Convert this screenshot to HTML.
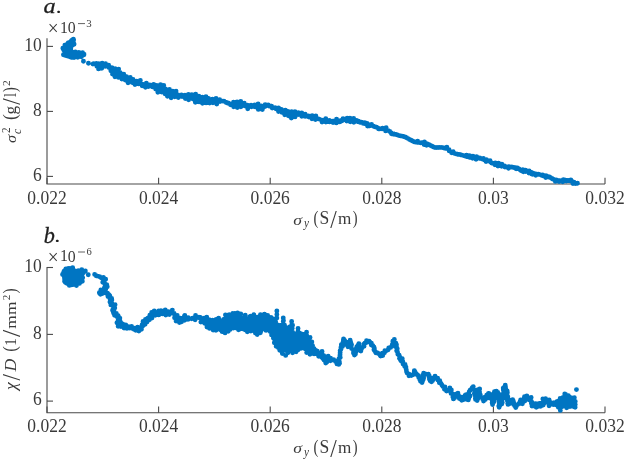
<!DOCTYPE html>
<html><head><meta charset="utf-8"><style>
html,body{margin:0;padding:0;background:#fff;}
svg{display:block;}
.t{font-family:"Liberation Serif",serif;font-size:17.5px;fill:#3a3a3a;}
svg{will-change:transform;}
.k{fill:#1e1e1e;}
.i{font-style:italic;}
</style></head><body>
<svg width="626" height="460" viewBox="0 0 626 460">
<rect width="626" height="460" fill="#fff"/>
<path d="M47 38.3V184.0H605" fill="none" stroke="#4a4a4a" stroke-width="1.1"/>
<path d="M47 46.4h6" stroke="#4a4a4a" stroke-width="1.1"/>
<text transform="translate(41.8 50.6) scale(1 1.045)" text-anchor="end" class="t">10</text>
<path d="M47 111.4h6" stroke="#4a4a4a" stroke-width="1.1"/>
<text transform="translate(41.8 115.6) scale(1 1.045)" text-anchor="end" class="t">8</text>
<path d="M47 176.4h6" stroke="#4a4a4a" stroke-width="1.1"/>
<text transform="translate(41.8 180.6) scale(1 1.045)" text-anchor="end" class="t">6</text>
<path d="M47.0 184.0v-6.3" stroke="#4a4a4a" stroke-width="1.1"/>
<text transform="translate(47.0 203.9) scale(1 1.045)" text-anchor="middle" class="t">0.022</text>
<path d="M158.6 184.0v-6.3" stroke="#4a4a4a" stroke-width="1.1"/>
<text transform="translate(158.6 203.9) scale(1 1.045)" text-anchor="middle" class="t">0.024</text>
<path d="M270.2 184.0v-6.3" stroke="#4a4a4a" stroke-width="1.1"/>
<text transform="translate(270.2 203.9) scale(1 1.045)" text-anchor="middle" class="t">0.026</text>
<path d="M381.8 184.0v-6.3" stroke="#4a4a4a" stroke-width="1.1"/>
<text transform="translate(381.8 203.9) scale(1 1.045)" text-anchor="middle" class="t">0.028</text>
<path d="M493.4 184.0v-6.3" stroke="#4a4a4a" stroke-width="1.1"/>
<text transform="translate(493.4 203.9) scale(1 1.045)" text-anchor="middle" class="t">0.03</text>
<path d="M605.0 184.0v-6.3" stroke="#4a4a4a" stroke-width="1.1"/>
<text transform="translate(605.0 203.9) scale(1 1.045)" text-anchor="middle" class="t">0.032</text>
<path d="M47 266.9V412.7H605" fill="none" stroke="#4a4a4a" stroke-width="1.1"/>
<path d="M47 267.5h6" stroke="#4a4a4a" stroke-width="1.1"/>
<text transform="translate(41.8 271.7) scale(1 1.045)" text-anchor="end" class="t">10</text>
<path d="M47 334.4h6" stroke="#4a4a4a" stroke-width="1.1"/>
<text transform="translate(41.8 338.6) scale(1 1.045)" text-anchor="end" class="t">8</text>
<path d="M47 401.1h6" stroke="#4a4a4a" stroke-width="1.1"/>
<text transform="translate(41.8 405.3) scale(1 1.045)" text-anchor="end" class="t">6</text>
<path d="M47.0 412.7v-6.3" stroke="#4a4a4a" stroke-width="1.1"/>
<text transform="translate(47.0 432.3) scale(1 1.045)" text-anchor="middle" class="t">0.022</text>
<path d="M158.6 412.7v-6.3" stroke="#4a4a4a" stroke-width="1.1"/>
<text transform="translate(158.6 432.3) scale(1 1.045)" text-anchor="middle" class="t">0.024</text>
<path d="M270.2 412.7v-6.3" stroke="#4a4a4a" stroke-width="1.1"/>
<text transform="translate(270.2 432.3) scale(1 1.045)" text-anchor="middle" class="t">0.026</text>
<path d="M381.8 412.7v-6.3" stroke="#4a4a4a" stroke-width="1.1"/>
<text transform="translate(381.8 432.3) scale(1 1.045)" text-anchor="middle" class="t">0.028</text>
<path d="M493.4 412.7v-6.3" stroke="#4a4a4a" stroke-width="1.1"/>
<text transform="translate(493.4 432.3) scale(1 1.045)" text-anchor="middle" class="t">0.03</text>
<path d="M605.0 412.7v-6.3" stroke="#4a4a4a" stroke-width="1.1"/>
<text transform="translate(605.0 432.3) scale(1 1.045)" text-anchor="middle" class="t">0.032</text>
<path fill="#0075c2" d="M68.9 40.0L68.9 40.1L68.8 40.1L68.8 40.1L68.7 40.1L68.7 40.2L66.8 40.8L65.5 42.5L64.1 44.5L64.1 44.6L64.0 44.6L64.0 44.7L63.9 44.7L62.7 45.6L61.8 47.6L61.1 49.5L61.5 51.0L63.0 52.8L63.1 52.8L63.1 52.9L63.1 52.9L63.2 53.0L63.2 53.1L63.2 53.1L63.2 53.2L63.2 53.2L63.2 53.3L62.8 55.6L64.2 57.5L67.9 58.4L68.0 58.4L68.0 58.5L71.1 59.8L74.9 59.2L79.4 58.2L79.4 58.2L84.1 57.6L84.8 55.3L84.8 55.3L84.9 55.2L84.9 55.2L84.9 55.1L86.3 53.4L86.2 52.7L83.9 51.2L80.2 50.9L80.1 50.9L76.8 50.2L73.5 49.9L73.5 49.9L73.4 49.9L73.4 49.9L73.3 49.8L73.3 49.8L73.2 49.8L73.2 49.7L73.1 49.7L73.1 49.6L73.1 49.6L73.0 49.5L73.0 49.5L73.0 49.4L73.0 49.3L73.0 49.3L73.0 49.2L73.2 47.6L73.2 47.6L73.2 47.5L73.2 47.5L73.3 47.4L73.3 47.4L73.3 47.3L73.4 47.3L73.4 47.2L73.5 47.2L73.5 47.2L75.2 46.2L76.2 45.0L76.4 43.2L75.7 41.9L75.6 41.8L75.6 41.8L75.6 41.7L75.6 41.7L75.6 41.6L75.6 41.5L75.6 41.5L75.6 41.4L76.0 40.1L75.9 38.8L74.6 37.4L72.9 37.2L70.0 38.4L69.0 39.9L69.0 40.0L68.9 40.0ZM61.2 273.9L62.1 277.6L62.1 277.6L62.1 277.6L62.5 282.0L63.5 284.1L66.0 285.5L71.1 287.2L77.4 286.2L79.7 285.5L82.8 283.2L83.4 278.9L83.4 278.9L83.9 275.9L83.9 275.8L83.9 275.8L84.0 275.7L84.0 275.7L84.0 275.6L84.0 275.6L86.1 273.3L86.1 270.7L84.7 269.0L82.1 268.2L80.2 268.6L77.8 269.8L77.7 269.9L77.7 269.9L77.6 269.9L77.5 269.9L77.5 269.9L77.4 269.9L77.4 269.9L77.3 269.9L77.3 269.8L77.2 269.8L77.1 269.8L74.7 268.0L71.8 266.6L69.0 265.9L67.2 266.2L64.4 267.5L62.4 269.5L61.2 271.9L61.2 273.9ZM102.5 282.0L102.5 282.1L102.5 282.1L102.5 282.2L102.5 282.2L102.6 282.2L102.6 282.3L102.6 282.3L102.7 282.4L102.7 282.4L105.5 284.6L105.5 284.6L105.5 284.6L105.5 284.6L105.5 284.7L105.6 284.7L105.6 284.7L105.6 284.7L105.6 284.8L105.6 284.8L105.6 284.8L105.6 284.9L105.6 284.9L105.1 286.7L105.1 286.7L105.0 286.8L105.0 286.8L105.0 286.8L103.6 288.7L103.6 288.7L103.5 288.8L103.5 288.8L103.5 288.9L103.5 288.9L103.5 289.0L103.5 289.0L103.5 289.1L103.5 289.1L103.5 289.2L103.5 289.2L103.6 289.2L99.2 292.6L99.2 292.6L99.1 292.7L99.1 292.7L99.1 292.8L99.0 292.8L99.0 292.8L99.0 292.9L99.0 292.9L99.0 293.0L99.0 293.0L99.0 293.1L99.0 293.1L99.0 293.2L99.0 293.2L99.1 293.3L99.1 293.3L99.1 293.3L99.2 293.4L99.2 293.4L99.2 293.4L99.3 293.4L99.3 293.5L99.4 293.5L99.4 293.5L99.5 293.5L99.5 293.5L105.8 293.3L105.8 293.3L105.8 293.3L105.8 293.3L105.9 293.3L105.9 293.3L105.9 293.4L107.5 294.4L107.5 294.5L107.5 294.6L107.5 294.7L107.5 294.8L107.6 294.9L107.6 294.9L107.7 295.0L110.0 298.8L110.0 298.8L110.0 298.8L110.0 298.9L110.0 298.9L110.0 298.9L110.5 303.1L110.5 303.2L110.5 303.3L110.6 303.4L110.6 303.5L110.7 303.6L112.9 306.7L112.9 306.7L112.9 306.7L112.9 306.7L112.9 306.8L112.9 306.8L112.9 306.8L112.9 306.9L112.9 306.9L112.5 310.4L112.5 310.5L112.5 310.6L112.5 310.7L112.5 310.7L113.5 314.7L113.6 314.8L113.6 314.9L113.6 315.0L113.7 315.1L113.8 315.2L113.8 315.2L113.9 315.3L117.8 318.2L117.8 318.2L117.8 318.2L117.8 318.2L118.8 319.6L118.8 319.6L118.8 319.6L118.8 319.6L118.8 319.7L118.8 319.7L118.9 319.7L118.9 319.7L118.8 319.8L118.8 319.8L118.8 319.8L118.1 322.2L118.0 322.3L118.0 322.4L118.0 322.5L118.0 322.6L118.0 322.7L118.5 325.7L118.5 325.7L118.5 325.7L118.5 325.7L118.5 325.8L118.5 325.8L118.6 325.8L118.6 325.8L118.6 325.9L118.6 325.9L118.6 325.9L118.6 325.9L118.6 325.9L118.6 326.0L118.6 326.0L118.6 326.0L118.7 326.0L118.7 326.1L118.7 326.1L118.7 326.1L118.7 326.1L118.7 326.1L118.7 326.2L118.8 326.2L118.8 326.2L118.8 326.2L118.8 326.2L118.8 326.2L118.8 326.3L118.9 326.3L118.9 326.3L118.9 326.3L118.9 326.3L118.9 326.3L119.0 326.3L119.0 326.4L119.0 326.4L119.0 326.4L119.1 326.4L119.1 326.4L119.1 326.4L119.1 326.4L119.1 326.4L119.2 326.4L119.2 326.4L119.2 326.5L119.2 326.5L119.3 326.5L119.3 326.5L119.3 326.5L119.3 326.5L124.1 327.3L124.1 327.3L129.5 328.3L129.6 328.3L133.8 329.6L133.8 329.6L137.2 330.5L137.3 330.5L137.4 330.5L137.6 330.5L137.7 330.5L137.8 330.5L137.9 330.4L138.0 330.4L141.3 328.7L141.3 328.7L141.4 328.7L141.5 328.7L141.7 328.7L141.8 328.7L141.9 328.7L142.0 328.6L142.1 328.6L142.2 328.5L142.3 328.4L142.4 328.4L142.5 328.3L142.6 328.2L145.0 324.2L145.0 324.2L148.9 319.3L148.9 319.3L152.7 315.6L152.7 315.5L152.8 315.5L152.8 315.5L154.1 314.8L154.1 314.8L154.6 314.8L155.0 314.7L155.4 314.6L155.9 314.5L156.3 314.3L156.8 314.2L157.3 314.0L157.3 314.0L157.3 314.0L157.3 314.0L157.8 313.9L157.8 313.9L157.9 313.8L157.9 313.8L158.4 313.7L158.4 313.7L158.6 313.7L158.6 313.7L158.8 313.6L158.8 313.6L159.3 313.6L159.3 313.6L159.5 313.6L159.5 313.6L159.7 313.6L159.7 313.6L160.2 313.6L160.2 313.6L160.5 313.7L160.5 313.7L161.0 313.8L161.0 313.8L161.1 313.8L161.1 313.8L161.6 313.9L161.6 313.9L161.6 314.0L161.6 314.0L162.1 314.1L162.6 314.2L162.9 314.3L163.3 314.4L163.7 314.4L164.0 314.4L164.5 314.4L164.9 314.4L165.4 314.4L165.8 314.3L166.3 314.3L166.8 314.3L167.3 314.2L167.7 314.2L168.2 314.1L168.7 314.0L168.7 314.0L168.7 314.0L168.7 314.0L169.2 314.0L169.2 314.0L169.3 314.0L169.3 314.0L169.8 313.9L169.8 313.9L169.9 313.9L169.9 313.9L170.4 313.9L170.4 313.9L170.6 313.9L170.6 313.9L171.1 313.9L171.1 313.9L171.3 313.9L171.3 314.0L171.8 314.0L171.8 314.0L172.0 314.1L172.0 314.1L172.5 314.2L172.5 314.2L172.7 314.2L172.8 314.2L173.0 314.3L173.0 314.3L173.2 314.4L173.2 314.4L173.4 314.6L173.4 314.6L173.6 314.7L173.6 314.7L173.7 314.9L173.8 314.9L173.9 315.1L173.9 315.1L174.0 315.3L174.0 315.3L174.1 315.5L174.1 315.5L174.2 315.7L174.2 315.7L174.7 317.2L174.7 317.2L174.7 317.2L174.7 317.2L175.2 318.5L175.4 318.9L175.7 319.2L175.7 319.2L175.7 319.2L175.7 319.2L176.2 319.7L176.2 319.7L176.2 319.8L176.2 319.8L176.7 320.3L176.7 320.3L176.7 320.3L176.7 320.3L177.2 320.9L177.7 321.4L178.2 321.9L178.6 322.3L179.1 322.7L179.4 323.0L179.4 323.0L179.5 323.0L179.8 323.1L180.1 323.1L180.5 323.1L180.8 323.1L181.0 322.8L181.0 322.8L181.0 322.8L181.0 322.8L181.5 322.0L181.5 322.0L181.5 322.0L181.5 322.0L182.0 321.2L182.0 321.2L182.0 321.2L182.0 321.2L182.5 320.4L182.5 320.4L182.6 320.2L182.7 320.2L182.8 320.0L182.8 320.0L183.0 319.9L183.0 319.9L183.1 319.8L183.2 319.7L183.3 319.6L183.3 319.6L183.8 319.3L183.9 319.3L184.0 319.2L184.1 319.2L184.2 319.2L184.3 319.1L184.5 319.1L184.5 319.1L184.7 319.1L184.7 319.1L184.9 319.0L184.9 319.0L185.1 319.0L185.2 319.0L185.6 319.1L186.1 319.1L186.5 319.1L186.9 319.1L187.3 319.0L187.8 319.0L188.3 318.9L188.3 318.9L188.3 318.9L188.3 318.9L188.8 318.9L188.8 318.9L188.9 318.9L188.9 318.9L189.4 318.9L189.4 318.9L189.5 318.9L189.5 318.9L190.0 318.9L190.0 318.9L190.1 318.9L190.2 318.9L190.7 318.9L190.7 318.9L190.8 318.9L190.8 318.9L191.3 319.0L191.3 319.0L191.4 319.0L191.4 319.0L191.9 319.1L191.9 319.1L191.9 319.1L191.9 319.1L192.4 319.2L192.9 319.3L193.3 319.3L193.6 319.3L193.9 319.3L194.2 319.3L194.6 319.3L195.0 319.2L195.4 319.1L195.9 318.9L195.9 318.9L195.9 318.9L195.9 318.9L196.4 318.8L196.5 318.8L196.6 318.8L196.6 318.8L197.1 318.7L197.1 318.7L197.3 318.7L197.3 318.7L197.5 318.7L197.5 318.7L197.7 318.7L197.7 318.7L197.9 318.7L197.9 318.7L198.1 318.7L198.2 318.7L198.3 318.8L198.3 318.8L198.8 319.0L198.9 319.0L199.0 319.1L199.0 319.1L199.5 319.3L199.5 319.3L199.7 319.4L199.7 319.4L200.2 319.7L200.2 319.7L200.3 319.8L200.3 319.8L200.8 320.1L200.8 320.1L200.9 320.2L200.9 320.2L201.4 320.6L201.4 320.6L201.5 320.6L201.5 320.6L202.0 321.0L202.0 321.0L202.0 321.1L202.0 321.1L202.5 321.5L203.0 321.9L203.4 322.2L203.9 322.5L203.9 322.5L204.0 322.6L204.0 322.7L204.5 323.1L204.9 323.4L205.4 323.7L205.8 324.0L206.3 324.3L206.8 324.6L206.8 324.6L206.8 324.7L206.8 324.7L207.3 325.0L207.3 325.0L207.3 325.0L207.4 325.0L207.9 325.4L207.9 325.4L207.9 325.4L207.9 325.4L208.4 325.8L208.4 325.8L208.5 325.9L208.5 325.9L209.0 326.3L209.5 326.7L209.9 327.0L210.0 327.1L210.0 327.1L210.0 327.1L210.5 327.5L210.5 327.5L210.6 327.6L210.6 327.6L211.1 328.0L211.1 328.0L211.1 328.0L211.1 328.0L211.6 328.5L211.6 328.5L211.6 328.5L211.6 328.5L212.1 329.0L212.5 329.3L212.8 329.3L213.3 329.2L213.7 329.2L214.2 329.1L214.7 329.1L215.2 329.0L215.7 328.9L216.2 328.9L216.2 328.9L216.4 328.8L216.4 328.8L216.9 328.8L216.9 328.8L217.0 328.8L217.0 328.8L217.5 328.8L217.5 328.8L217.7 328.8L217.7 328.8L217.9 328.9L218.0 328.9L218.1 328.9L218.2 328.9L218.7 329.1L218.7 329.1L218.8 329.1L218.9 329.1L219.0 329.2L219.0 329.2L219.5 329.4L219.5 329.4L219.5 329.4L219.5 329.4L220.0 329.7L220.0 329.7L220.0 329.7L220.0 329.7L220.5 329.9L221.0 330.2L221.5 330.4L221.9 330.5L222.2 330.7L222.5 330.8L222.8 330.8L223.1 330.8L223.5 330.8L223.9 330.8L224.4 330.8L224.4 330.8L224.4 330.8L224.4 330.8L224.9 330.8L224.9 330.8L225.0 330.8L225.1 330.8L225.6 330.8L225.6 330.8L225.8 330.8L225.8 330.8L226.3 330.9L226.3 330.9L226.4 330.9L226.7 330.8L226.7 330.8L226.9 330.7L226.9 330.7L227.4 330.6L227.4 330.6L227.6 330.6L227.6 330.5L228.1 330.5L228.1 330.5L228.2 330.5L228.2 330.5L228.7 330.4L229.2 330.3L229.5 330.3L229.9 330.2L230.2 330.1L230.5 330.0L230.8 329.8L231.2 329.5L231.7 329.2L231.7 329.2L231.8 329.1L231.8 329.1L232.0 329.0L232.0 329.0L232.2 328.9L232.2 328.9L232.7 328.8L233.1 328.6L233.6 328.4L234.1 328.2L234.1 328.2L234.1 328.2L234.1 328.2L234.6 328.0L234.6 328.0L234.7 328.0L234.7 328.0L235.2 327.8L235.2 327.8L235.3 327.8L235.3 327.8L235.8 327.6L235.8 327.6L235.9 327.6L235.9 327.6L236.4 327.4L236.4 327.4L236.5 327.4L236.6 327.4L237.1 327.3L237.1 327.3L237.2 327.3L237.2 327.3L237.7 327.2L237.8 327.2L237.9 327.2L237.9 327.2L238.4 327.2L238.5 327.2L238.6 327.2L238.6 327.2L239.1 327.2L239.2 327.2L239.3 327.2L239.3 327.2L239.8 327.3L239.8 327.3L239.9 327.3L240.0 327.3L240.5 327.4L240.5 327.4L240.5 327.4L240.5 327.4L241.0 327.6L241.0 327.6L241.2 327.6L241.3 327.6L241.5 327.7L241.5 327.7L242.0 327.9L242.0 327.9L242.2 328.0L242.2 328.0L242.6 328.3L243.0 328.5L243.4 328.6L243.7 328.8L244.0 328.8L244.3 328.9L244.7 328.9L245.1 329.0L245.6 329.0L246.1 329.0L246.1 329.0L246.2 329.0L246.2 329.0L246.7 329.1L246.7 329.1L246.7 329.1L246.7 329.1L247.2 329.1L247.2 329.1L247.3 329.1L247.3 329.1L247.8 329.2L247.8 329.2L247.9 329.2L247.9 329.2L248.4 329.3L248.4 329.3L248.4 329.3L248.4 329.3L248.9 329.4L249.0 329.4L249.0 329.4L249.0 329.4L249.5 329.5L249.5 329.5L249.6 329.5L249.6 329.5L250.1 329.7L250.1 329.7L250.3 329.7L250.3 329.7L250.8 329.9L250.8 329.9L250.9 330.0L250.9 330.0L251.4 330.2L251.4 330.2L251.5 330.2L251.5 330.2L252.0 330.4L252.0 330.4L252.1 330.5L252.1 330.5L252.6 330.7L252.6 330.7L252.6 330.8L252.6 330.8L253.1 331.0L253.1 331.0L253.2 331.1L253.2 331.1L253.7 331.4L253.7 331.4L253.7 331.4L253.7 331.4L254.2 331.7L254.2 331.7L254.3 331.7L254.3 331.7L254.8 332.0L254.8 332.0L254.8 332.0L254.8 332.0L255.3 332.4L255.3 332.4L255.3 332.4L255.3 332.4L255.8 332.7L255.8 332.7L255.8 332.7L255.8 332.7L256.3 333.0L256.3 333.0L256.3 333.1L256.3 333.1L256.8 333.4L256.8 333.4L257.3 333.7L257.8 334.0L258.0 334.2L258.1 334.1L258.6 333.4L259.1 332.8L259.6 332.1L260.0 331.3L260.1 331.3L260.2 331.2L260.2 331.2L260.3 331.0L260.3 331.0L260.5 330.8L260.5 330.8L260.7 330.7L260.7 330.7L260.9 330.6L260.9 330.6L261.1 330.5L261.1 330.5L261.3 330.4L261.3 330.4L261.5 330.4L261.5 330.3L261.7 330.3L261.8 330.3L262.2 330.3L262.7 330.2L263.1 330.1L263.6 330.1L264.1 330.0L264.1 330.0L264.1 330.0L264.1 330.0L264.6 329.9L264.6 329.9L264.8 329.8L264.8 329.8L265.0 329.8L265.1 329.8L265.3 329.8L265.3 329.9L265.5 329.9L265.5 329.9L266.0 330.0L266.0 330.0L266.2 330.1L266.2 330.1L266.4 330.1L266.4 330.1L266.6 330.2L266.6 330.2L267.1 330.5L267.1 330.5L267.2 330.5L267.2 330.5L267.7 330.8L267.7 330.8L267.8 330.9L267.8 330.9L268.3 331.2L268.3 331.2L268.4 331.3L268.4 331.3L268.9 331.6L268.9 331.7L269.0 331.8L269.1 331.8L269.2 331.9L269.2 332.0L269.4 332.1L269.4 332.1L269.9 332.8L269.9 332.8L269.9 332.9L270.0 332.9L270.5 333.6L270.5 333.6L270.5 333.7L270.5 333.7L271.0 334.5L271.0 334.5L271.0 334.5L271.0 334.5L271.5 335.4L271.5 335.4L271.5 335.4L271.5 335.4L272.0 336.3L272.0 336.3L272.1 336.3L272.1 336.3L272.6 337.2L272.6 337.2L272.6 337.2L272.6 337.2L273.1 338.2L273.1 338.2L273.1 338.2L273.1 338.2L273.6 339.1L274.1 340.1L274.5 340.9L275.0 341.8L275.5 342.6L276.0 343.4L276.5 344.1L276.9 344.8L277.4 345.4L277.8 346.0L278.3 346.5L278.7 347.0L279.2 347.5L279.6 347.9L280.0 348.3L280.5 348.7L281.0 349.0L281.4 349.4L281.9 349.8L281.9 349.8L281.9 349.8L281.9 349.8L282.1 349.9L282.3 350.0L282.7 350.1L282.7 350.1L282.8 350.2L282.8 350.2L283.3 350.4L283.3 350.4L283.5 350.4L283.5 350.4L284.0 350.7L284.0 350.7L284.1 350.7L284.1 350.7L284.6 351.0L284.7 351.0L284.8 351.1L284.8 351.1L285.3 351.4L285.3 351.4L285.4 351.5L285.4 351.5L285.9 351.8L285.9 351.8L285.9 351.9L285.9 351.9L286.4 352.3L286.4 352.3L286.5 352.3L286.5 352.3L286.8 352.5L287.1 352.3L287.2 352.3L287.2 352.2L287.2 352.2L287.7 351.9L287.7 351.9L287.7 351.9L287.7 351.9L288.2 351.6L288.2 351.6L288.3 351.5L288.3 351.5L288.8 351.2L288.8 351.2L288.9 351.1L289.0 351.1L289.1 351.0L289.2 351.0L289.3 351.0L289.4 351.0L289.5 350.9L289.6 350.9L290.1 350.8L290.1 350.8L290.2 350.8L290.3 350.8L290.5 350.8L290.5 350.8L290.7 350.8L290.7 350.8L291.2 350.8L291.7 350.9L292.1 350.9L292.6 350.9L293.1 350.9L293.5 350.9L294.0 350.9L294.5 350.9L294.7 350.9L294.8 350.9L295.1 350.8L295.6 350.6L296.1 350.4L296.5 350.2L296.9 350.0L297.3 349.8L297.7 349.5L298.2 349.2L298.7 348.9L299.2 348.5L299.2 348.5L299.3 348.4L299.4 348.4L299.5 348.3L299.6 348.3L299.8 348.3L299.8 348.2L300.0 348.2L300.0 348.2L300.5 348.1L300.5 348.1L300.7 348.0L300.7 348.0L300.9 348.0L300.9 348.0L301.1 348.0L301.2 348.0L301.4 348.1L301.4 348.1L301.6 348.1L301.6 348.1L301.8 348.2L301.8 348.2L302.0 348.2L302.0 348.3L302.5 348.5L302.5 348.5L302.6 348.6L302.6 348.6L303.1 348.8L303.2 348.8L303.3 348.9L303.3 348.9L303.8 349.2L303.8 349.2L303.9 349.3L303.9 349.3L304.4 349.7L304.4 349.7L304.5 349.8L304.5 349.8L305.0 350.2L305.0 350.2L305.1 350.2L305.1 350.2L305.6 350.7L305.6 350.7L305.6 350.7L305.6 350.7L306.1 351.2L306.5 351.6L307.0 351.9L307.4 352.3L307.8 352.5L308.1 352.8L308.5 352.9L308.8 353.1L309.3 353.2L309.7 353.4L310.2 353.5L310.2 353.5L310.7 353.7L310.7 353.7L310.7 353.7L310.7 353.7L311.2 353.9L311.2 353.9L311.3 353.9L311.3 353.9L311.8 354.1L311.8 354.1L311.8 354.1L311.8 354.1L312.3 354.3L312.3 354.3L312.4 354.3L312.4 354.3L312.9 354.5L312.9 354.5L312.9 354.5L312.9 354.5L313.4 354.7L313.5 354.8L313.5 354.8L313.5 354.8L313.6 354.8L313.6 345.6L313.6 345.6L313.6 345.6L313.5 345.5L313.5 345.5L313.0 344.7L313.0 344.7L313.0 344.7L313.0 344.7L312.5 343.9L312.0 343.1L311.5 342.4L311.0 341.6L310.5 340.9L310.1 340.2L309.6 339.5L309.1 338.8L308.6 338.1L308.1 337.4L307.6 336.8L307.6 336.8L307.6 336.8L307.6 336.8L307.1 336.1L307.1 336.1L307.1 336.1L307.1 336.1L306.6 335.4L306.6 335.4L306.6 335.4L306.6 335.4L306.1 334.6L306.1 334.6L306.0 334.6L306.0 334.6L305.5 333.8L305.5 333.8L305.5 333.8L305.5 333.8L305.2 333.3L305.1 333.3L304.7 333.4L304.6 333.4L304.4 333.4L304.2 333.5L303.9 333.7L303.5 334.0L303.1 334.5L303.1 334.5L302.9 334.6L302.9 334.6L302.7 334.7L302.7 334.7L302.5 334.8L302.5 334.9L302.3 334.9L302.3 334.9L302.1 335.0L302.1 335.0L301.9 335.1L301.9 335.1L301.7 335.1L301.6 335.1L301.4 335.1L301.4 335.1L301.2 335.1L301.2 335.1L301.0 335.0L300.9 335.0L300.8 335.0L300.7 335.0L300.5 334.9L300.5 334.9L300.3 334.8L300.3 334.8L300.1 334.6L300.1 334.6L300.0 334.5L299.9 334.5L299.8 334.3L299.8 334.3L299.3 333.8L298.8 333.3L298.8 333.3L298.8 333.3L298.8 333.3L298.3 332.7L298.3 332.7L298.2 332.7L298.2 332.7L297.7 332.1L297.7 332.1L297.7 332.0L297.7 332.0L297.5 331.8L297.4 331.8L296.9 332.2L296.9 332.2L296.8 332.3L296.7 332.3L296.6 332.4L296.5 332.4L296.3 332.5L296.3 332.5L296.1 332.6L296.1 332.6L295.9 332.6L295.8 332.6L295.6 332.7L295.6 332.7L295.4 332.7L295.4 332.7L295.2 332.6L295.1 332.6L294.9 332.6L294.9 332.6L294.7 332.5L294.7 332.5L294.2 332.3L294.2 332.3L294.0 332.3L294.0 332.2L293.8 332.2L293.8 332.1L293.6 332.0L293.6 332.0L293.4 331.9L293.4 331.9L293.3 331.7L293.2 331.7L293.1 331.5L293.1 331.5L293.0 331.4L293.0 331.3L292.9 331.2L292.9 331.1L292.4 330.1L291.9 329.1L291.4 328.0L290.9 327.0L290.9 327.0L290.9 327.0L290.4 327.3L290.4 327.3L290.3 327.3L290.3 327.3L289.8 327.7L289.8 327.7L289.8 327.7L289.8 327.7L289.3 328.0L289.3 328.0L289.3 328.0L289.3 328.0L288.8 328.4L288.8 328.4L288.6 328.5L288.6 328.5L288.4 328.6L288.4 328.6L288.2 328.7L288.1 328.7L288.0 328.7L287.9 328.7L287.7 328.8L287.7 328.8L287.5 328.8L287.5 328.8L287.3 328.7L287.2 328.7L287.0 328.7L287.0 328.7L286.8 328.7L286.8 328.6L286.6 328.6L286.6 328.6L286.4 328.5L286.3 328.5L286.2 328.3L286.1 328.3L286.0 328.2L286.0 328.2L285.5 327.8L285.5 327.8L285.3 327.6L285.3 327.6L285.2 327.5L285.2 327.5L284.7 326.9L284.2 326.3L283.7 325.7L283.2 325.1L282.8 324.6L282.7 324.6L282.7 324.6L282.7 324.7L282.7 324.7L282.2 325.0L282.2 325.0L282.1 325.0L282.1 325.0L281.6 325.3L281.6 325.3L281.6 325.3L281.6 325.3L281.1 325.6L281.1 325.6L280.9 325.6L280.8 325.7L280.7 325.7L280.6 325.7L280.4 325.8L280.4 325.8L280.2 325.8L280.2 325.8L280.0 325.8L280.0 325.8L279.8 325.8L279.7 325.8L279.5 325.8L279.5 325.8L279.3 325.7L279.3 325.7L279.1 325.6L279.1 325.6L278.6 325.4L278.6 325.4L278.4 325.3L278.4 325.3L278.2 325.2L278.2 325.2L278.0 325.1L278.0 325.1L277.9 324.9L277.8 324.9L277.7 324.8L277.7 324.8L277.6 324.6L277.6 324.6L277.5 324.4L277.4 324.4L276.9 323.5L276.9 323.5L276.4 322.6L275.9 321.7L275.4 320.8L275.2 320.4L275.0 320.4L274.5 320.3L274.0 320.2L273.6 320.1L273.1 320.0L273.1 320.0L272.9 320.0L272.9 319.9L272.7 319.9L272.6 319.9L272.4 319.8L272.4 319.8L272.2 319.7L272.2 319.6L272.0 319.5L272.0 319.5L271.9 319.4L271.8 319.4L271.4 318.9L270.9 318.4L270.4 318.0L270.0 317.6L269.5 317.2L269.1 316.9L269.0 316.8L269.0 316.8L268.5 316.7L268.0 316.6L268.0 316.6L268.0 316.6L268.0 316.6L267.5 316.5L267.5 316.5L267.5 316.5L267.5 316.5L267.0 316.4L267.0 316.4L266.9 316.3L266.9 316.3L266.5 316.2L266.3 316.2L266.1 316.2L266.1 316.2L266.0 316.2L265.9 316.2L265.4 316.2L265.4 316.2L265.3 316.2L265.3 316.2L264.8 316.2L264.8 316.2L264.8 316.2L264.8 316.2L264.3 316.1L264.3 316.1L264.2 316.1L264.2 316.1L263.7 316.0L263.7 316.0L263.7 316.0L263.7 316.0L263.2 316.0L263.2 316.0L263.1 316.0L263.1 316.0L262.6 315.9L262.6 315.9L262.6 315.9L262.6 315.9L262.1 315.8L262.1 315.8L262.1 315.8L262.1 315.8L261.6 315.7L261.1 315.6L260.6 315.5L260.2 315.5L259.7 315.4L259.4 315.4L259.1 315.4L258.9 315.4L258.5 315.5L258.2 315.6L257.8 315.7L257.4 315.9L257.0 316.0L256.5 316.3L256.0 316.5L256.0 316.5L256.0 316.5L256.0 316.5L255.5 316.8L255.5 316.8L255.4 316.8L255.4 316.8L254.9 317.0L254.9 317.0L254.8 317.1L254.8 317.1L254.3 317.2L254.3 317.2L254.1 317.3L254.1 317.3L253.6 317.4L253.6 317.4L253.4 317.5L253.4 317.5L252.9 317.6L252.9 317.6L252.8 317.6L252.7 317.6L252.2 317.6L252.2 317.6L252.1 317.6L252.1 317.7L251.6 317.7L251.6 317.7L251.5 317.7L251.5 317.7L251.0 317.7L250.6 317.7L250.2 317.7L249.8 317.7L249.5 317.8L249.1 317.9L249.1 317.9L248.9 317.9L248.9 317.9L248.7 318.0L248.7 318.0L248.2 318.0L248.2 318.0L247.9 318.0L247.9 318.0L247.4 318.0L246.9 318.0L246.9 318.0L246.9 318.0L246.9 318.0L246.4 318.0L246.4 318.0L246.3 318.0L246.2 318.0L245.7 317.9L245.7 317.9L245.6 317.9L245.6 317.9L245.1 317.8L245.1 317.8L244.9 317.7L244.9 317.7L244.4 317.6L244.4 317.6L244.2 317.5L244.2 317.5L243.7 317.3L243.7 317.3L243.5 317.3L243.5 317.3L243.0 317.0L243.0 317.0L242.9 317.0L242.9 317.0L242.4 316.7L242.4 316.7L242.3 316.7L242.3 316.7L241.8 316.4L241.8 316.4L241.8 316.4L241.8 316.3L241.3 316.0L240.9 315.8L240.5 315.6L240.1 315.5L239.7 315.3L239.3 315.2L238.8 315.0L238.3 314.9L237.9 314.7L237.4 314.6L236.9 314.5L236.4 314.3L235.9 314.2L235.4 314.1L235.0 314.0L234.5 313.9L234.5 313.8L234.3 313.9L234.3 313.9L234.2 313.9L234.2 313.9L233.7 314.1L233.7 314.1L233.7 314.1L233.7 314.1L233.2 314.3L233.2 314.3L233.2 314.3L233.2 314.3L232.7 314.4L232.6 314.4L232.6 314.4L232.6 314.4L232.1 314.6L232.1 314.6L232.0 314.6L232.0 314.6L231.5 314.7L231.5 314.7L231.4 314.7L231.4 314.7L230.9 314.8L230.9 314.8L230.9 314.8L230.8 314.8L230.3 314.9L230.3 314.9L230.3 314.9L230.3 314.9L229.9 315.0L229.4 315.0L229.0 315.1L228.7 315.2L228.3 315.3L228.0 315.4L227.7 315.6L227.4 315.8L226.9 316.2L226.5 316.5L226.0 316.9L226.0 316.9L226.0 316.9L226.0 316.9L225.5 317.3L225.5 317.3L225.4 317.3L225.4 317.3L224.9 317.7L224.9 317.7L224.9 317.8L224.9 317.8L224.4 318.1L224.4 318.1L224.3 318.2L224.3 318.2L223.8 318.5L223.7 318.5L223.6 318.6L223.6 318.6L223.1 318.9L223.1 318.9L222.9 319.0L222.9 319.0L222.4 319.2L222.4 319.2L222.2 319.3L222.2 319.3L221.7 319.4L221.7 319.4L221.5 319.5L221.4 319.5L220.9 319.6L220.9 319.6L220.7 319.6L220.7 319.6L220.2 319.7L220.2 319.7L220.1 319.7L220.1 319.7L219.6 319.7L219.6 319.7L219.5 319.7L219.5 319.7L219.0 319.7L218.6 319.7L218.2 319.7L218.1 319.7L218.0 319.7L218.0 319.7L217.8 319.7L217.8 319.7L217.3 319.7L217.3 319.7L217.1 319.6L217.0 319.6L216.8 319.6L216.8 319.6L216.4 319.4L216.1 319.4L215.8 319.3L215.5 319.3L215.1 319.3L214.6 319.4L214.1 319.4L214.1 319.4L214.0 319.4L214.0 319.4L213.5 319.4L213.5 319.4L213.5 319.4L213.5 319.4L213.0 319.4L213.0 319.4L212.9 319.4L212.9 319.4L212.4 319.4L212.4 319.4L212.4 319.4L212.4 319.4L211.9 319.3L211.4 319.3L211.0 319.3L210.6 319.3L210.1 319.3L209.7 319.4L209.2 319.4L208.7 319.5L208.7 319.5L208.7 319.5L208.7 319.5L208.3 319.5L208.1 319.6L207.7 319.7L207.7 319.7L207.6 319.7L207.6 319.7L207.1 319.8L207.1 319.8L206.9 319.9L206.9 319.9L206.4 320.0L206.4 320.0L206.2 320.0L206.2 320.0L205.7 320.0L205.7 320.0L205.6 320.1L205.6 320.1L205.1 320.1L205.0 320.1L204.9 320.1L204.9 320.1L204.4 320.0L204.4 320.0L204.3 320.0L204.2 320.0L203.7 320.0L203.7 320.0L203.6 320.0L203.6 320.0L203.1 319.9L203.1 319.9L203.0 319.9L203.0 319.8L202.5 319.7L202.5 319.7L202.4 319.7L202.4 319.7L201.9 319.6L201.9 319.6L201.9 319.6L201.9 319.6L201.4 319.4L201.3 319.4L201.3 319.4L201.3 319.4L200.8 319.3L200.8 319.3L200.6 319.2L200.5 319.2L200.4 319.1L200.3 319.1L199.8 318.8L199.8 318.8L199.6 318.6L199.6 318.6L199.1 318.3L198.6 317.9L198.2 317.6L197.7 317.3L197.3 317.0L196.9 316.8L196.5 316.6L196.1 316.4L195.8 316.3L195.5 316.2L195.2 316.2L195.2 316.2L195.1 316.2L194.8 316.3L194.4 316.4L193.9 316.6L193.4 316.9L193.4 316.9L193.4 316.9L193.4 316.9L192.9 317.1L192.8 317.1L192.7 317.1L192.7 317.1L192.2 317.3L192.2 317.3L192.0 317.3L192.0 317.3L191.5 317.4L191.4 317.4L191.2 317.5L191.1 317.5L190.6 317.5L190.6 317.5L190.5 317.5L190.4 317.5L190.3 317.5L190.3 317.5L189.8 317.5L189.7 317.5L189.6 317.4L189.6 317.4L189.4 317.4L189.4 317.4L188.9 317.3L188.9 317.2L188.6 317.2L188.6 317.2L188.1 316.9L188.1 316.9L187.9 316.9L187.9 316.8L187.7 316.8L187.7 316.7L187.2 316.4L187.2 316.4L187.0 316.3L187.0 316.3L186.9 316.1L186.9 316.1L186.7 316.0L186.7 316.0L186.2 315.4L186.2 315.4L186.2 315.4L186.2 315.4L185.7 314.8L185.3 314.3L185.1 314.1L184.8 314.4L184.3 315.0L184.3 315.0L184.3 315.0L184.3 315.0L183.8 315.6L183.8 315.6L183.7 315.6L183.7 315.6L183.2 316.2L183.2 316.2L183.1 316.3L183.1 316.3L182.6 316.8L182.6 316.8L182.4 316.9L182.4 316.9L182.2 317.0L182.2 317.0L182.0 317.1L182.0 317.1L181.8 317.2L181.8 317.2L181.6 317.3L181.6 317.3L181.4 317.3L181.4 317.3L181.2 317.4L181.1 317.4L180.9 317.4L180.9 317.4L180.4 317.4L180.4 317.4L180.2 317.3L180.2 317.3L180.0 317.3L180.0 317.3L179.8 317.3L179.8 317.3L179.6 317.2L179.6 317.2L179.1 317.0L179.1 317.0L178.8 316.8L178.8 316.8L178.3 316.5L178.3 316.5L178.1 316.4L178.1 316.4L177.6 316.0L177.6 316.0L177.5 315.9L177.5 315.9L177.0 315.5L177.0 315.5L176.9 315.4L176.9 315.4L176.4 314.9L176.4 314.9L176.3 314.9L176.3 314.9L175.8 314.4L175.8 314.4L175.8 314.4L175.8 314.4L175.3 313.9L175.3 313.9L175.2 313.8L175.2 313.8L174.8 313.2L174.3 312.7L173.9 312.3L173.5 311.9L173.1 311.6L172.7 311.3L172.3 311.1L171.9 310.9L171.8 310.8L171.6 310.8L171.6 310.8L171.5 310.8L171.5 310.8L171.0 311.0L171.0 311.0L171.0 311.0L170.9 311.0L170.4 311.1L170.4 311.1L170.3 311.1L170.3 311.1L169.8 311.2L169.8 311.2L169.7 311.2L169.7 311.2L169.2 311.2L169.2 311.2L169.1 311.2L169.1 311.2L168.6 311.3L168.6 311.3L168.5 311.3L168.5 311.3L168.0 311.3L168.0 311.3L168.0 311.3L168.0 311.3L167.5 311.3L167.5 311.3L167.4 311.3L167.4 311.3L166.9 311.2L166.5 311.2L166.0 311.2L166.0 311.2L165.8 311.2L165.8 311.2L165.3 311.2L165.3 311.2L165.1 311.2L165.1 311.1L164.9 311.1L164.9 311.1L164.7 311.0L164.7 311.0L164.2 310.8L164.2 310.8L164.2 310.8L164.2 310.8L163.7 310.6L163.7 310.6L163.6 310.6L163.6 310.6L163.1 310.4L163.1 310.4L163.1 310.4L163.1 310.4L162.6 310.2L162.6 310.2L162.6 310.2L162.6 310.2L162.1 310.0L162.0 310.0L162.0 310.0L162.0 310.0L161.5 309.7L161.1 309.5L160.6 309.3L160.3 309.2L160.3 309.2L159.9 309.4L159.4 309.6L159.0 309.8L158.5 310.0L158.5 310.0L158.5 310.0L158.5 310.0L158.0 310.2L158.0 310.2L157.9 310.2L157.9 310.2L157.4 310.5L157.4 310.5L157.4 310.5L157.4 310.5L156.9 310.7L156.9 310.7L156.9 310.7L156.8 310.7L156.3 310.9L156.3 310.9L156.3 310.9L156.3 310.9L155.8 311.1L155.8 311.1L155.7 311.1L155.7 311.1L155.5 311.2L155.3 311.4L155.3 311.4L155.3 311.4L155.3 311.4L155.2 311.5L151.4 313.4L151.3 313.4L151.2 313.5L151.1 313.6L147.1 317.6L147.0 317.7L143.0 322.7L142.9 322.8L140.4 326.8L140.4 326.9L137.5 328.4L137.5 328.4L137.4 328.4L137.4 328.4L137.4 328.4L137.3 328.4L137.3 328.4L137.3 328.4L134.4 327.6L134.4 327.6L130.1 326.3L130.0 326.3L124.5 325.3L124.5 325.3L120.4 324.6L120.0 322.7L120.0 322.6L120.0 322.6L120.0 322.6L120.0 322.5L120.1 322.5L120.9 319.8L121.0 319.7L121.0 319.6L121.0 319.5L121.0 319.4L121.0 319.3L121.0 319.2L120.9 319.2L120.9 319.1L120.9 319.0L120.8 318.9L119.3 316.9L119.2 316.8L119.2 316.8L119.1 316.7L115.5 314.0L115.4 314.0L115.4 313.9L115.4 313.9L115.4 313.9L115.4 313.9L115.4 313.8L115.4 313.8L114.5 310.5L114.5 310.5L114.5 310.4L114.5 310.4L114.5 310.4L115.0 306.6L115.0 306.5L115.0 306.4L115.0 306.3L115.0 306.3L114.9 306.2L114.9 306.1L114.9 306.0L114.8 305.9L112.5 302.7L112.5 302.7L112.5 302.6L112.5 302.6L112.5 302.6L112.5 302.6L112.0 298.4L112.0 298.3L112.0 298.2L111.9 298.1L111.9 298.0L111.8 298.0L109.4 294.0L109.3 293.9L109.2 293.8L109.2 293.7L109.1 293.7L109.0 293.6L108.9 293.6L108.8 293.6L108.7 293.5L108.6 293.5L108.5 293.5L108.4 293.5L108.3 293.5L108.2 293.5L108.1 293.6L108.1 293.6L106.3 292.4L106.2 292.4L106.2 292.3L106.1 292.3L106.1 292.3L106.0 292.3L106.0 292.3L101.9 292.4L101.9 292.4L101.9 292.4L101.9 292.4L101.8 292.4L101.8 292.4L101.8 292.4L101.7 292.4L101.7 292.3L101.7 292.3L101.7 292.3L101.7 292.3L101.7 292.3L101.6 292.2L101.6 292.2L101.6 292.2L101.6 292.1L101.6 292.1L101.6 292.1L101.6 292.1L101.6 292.0L101.7 292.0L101.7 292.0L101.7 292.0L101.7 291.9L101.7 291.9L101.7 291.9L104.3 289.9L104.3 289.9L104.4 289.8L104.4 289.8L104.4 289.7L104.5 289.7L104.5 289.7L104.5 289.6L104.5 289.6L104.5 289.5L104.5 289.5L104.5 289.4L104.5 289.4L104.5 289.3L104.4 289.3L104.4 289.3L105.9 287.3L105.9 287.3L105.9 287.2L106.0 287.2L106.0 287.1L106.7 284.6L106.7 284.6L106.7 284.5L106.7 284.5L106.7 284.4L106.7 284.4L106.7 284.3L106.7 284.3L106.6 284.3L106.6 284.2L106.6 284.2L106.5 284.1L106.5 284.1L103.8 282.0L103.8 282.0L103.8 282.0L103.8 281.9L103.8 281.9L103.7 281.9L103.7 281.9L103.7 281.8L103.7 281.8L103.7 281.8L103.7 281.8L103.7 281.7L103.7 281.7L103.7 281.7L103.7 281.6L105.0 279.1L105.1 279.1L105.1 279.0L105.1 279.0L105.1 278.9L105.1 278.9L105.1 278.8L105.1 278.8L105.1 278.7L105.1 278.7L105.0 278.7L105.0 278.6L105.0 278.6L104.9 278.5L104.9 278.5L104.9 278.5L104.8 278.5L104.8 278.4L104.7 278.4L104.7 278.4L104.6 278.4L104.6 278.4L104.5 278.4L104.5 278.4L104.4 278.4L104.4 278.4L104.4 278.5L104.3 278.5L104.3 278.5L104.2 278.6L104.2 278.6L104.2 278.6L104.2 278.7L102.6 281.8L102.5 281.8L102.5 281.9L102.5 281.9L102.5 282.0L102.5 282.0ZM95.8 65.9L95.8 65.9L96.3 66.5L96.3 66.5L96.3 66.5L96.3 66.5L96.8 67.1L96.8 67.1L96.8 67.2L96.8 67.2L97.3 67.8L97.3 67.8L97.4 67.8L97.4 67.8L97.9 68.5L97.9 68.5L97.9 68.5L97.9 68.5L98.3 69.0L98.7 69.0L99.0 69.1L99.4 69.1L99.7 69.0L100.0 69.0L100.3 68.9L100.7 68.7L101.0 68.6L101.5 68.4L102.0 68.1L102.5 67.9L102.5 67.9L102.5 67.9L102.5 67.9L103.0 67.6L103.0 67.6L103.0 67.6L103.0 67.6L103.5 67.4L103.5 67.4L103.6 67.4L103.6 67.4L104.1 67.2L104.1 67.1L104.3 67.1L104.3 67.1L104.4 67.0L104.5 67.0L105.0 66.9L105.0 66.9L105.1 66.9L105.1 66.9L105.6 66.8L105.6 66.8L105.7 66.8L105.7 66.8L106.2 66.7L106.3 66.7L106.5 66.7L106.5 66.7L106.7 66.7L106.7 66.7L107.0 66.7L107.0 66.8L107.2 66.8L107.2 66.8L107.4 66.9L107.4 66.9L107.6 67.0L107.7 67.0L107.8 67.1L107.8 67.1L108.3 67.5L108.4 67.5L108.5 67.6L108.5 67.6L108.6 67.7L108.6 67.7L109.1 68.2L109.1 68.2L109.2 68.2L109.2 68.2L109.7 68.8L109.7 68.8L109.7 68.8L109.8 68.8L110.3 69.4L110.3 69.4L110.3 69.4L110.3 69.5L110.8 70.1L110.8 70.1L110.8 70.1L110.8 70.1L111.3 70.7L111.3 70.7L111.4 70.8L111.4 70.8L111.9 71.4L111.9 71.5L111.9 71.5L111.9 71.5L112.4 72.2L112.4 72.2L112.4 72.2L112.4 72.2L112.9 72.9L113.4 73.6L113.9 74.2L114.4 74.9L114.8 75.5L115.3 76.0L115.7 76.5L116.2 77.0L116.6 77.4L116.8 77.6L116.9 77.7L117.2 77.8L117.7 77.9L118.2 78.1L118.7 78.2L118.7 78.2L118.7 78.2L118.7 78.2L119.2 78.4L119.2 78.4L119.2 78.4L119.2 78.4L119.7 78.6L119.7 78.6L119.8 78.6L119.8 78.6L120.3 78.8L120.3 78.8L120.4 78.8L120.4 78.8L120.9 79.0L120.9 79.0L120.9 79.0L120.9 79.0L121.4 79.2L121.4 79.2L121.5 79.2L121.5 79.2L122.0 79.5L122.0 79.5L122.0 79.5L122.0 79.5L122.5 79.7L122.5 79.7L123.0 79.9L123.5 80.2L123.9 80.3L124.3 80.5L124.7 80.7L125.2 80.8L125.6 80.9L126.1 81.0L126.6 81.2L126.6 81.2L126.6 81.2L126.6 81.2L127.1 81.3L127.1 81.3L127.1 81.3L127.1 81.3L127.6 81.5L127.6 81.5L127.7 81.5L127.7 81.5L128.2 81.7L128.3 81.7L128.4 81.7L128.4 81.7L128.9 81.9L128.9 81.9L129.0 81.9L129.0 81.9L129.5 82.2L129.5 82.2L129.5 82.2L129.5 82.2L130.0 82.4L130.0 82.4L130.1 82.5L130.1 82.5L130.6 82.8L130.6 82.8L130.7 82.8L130.7 82.8L131.2 83.1L131.2 83.1L131.2 83.1L131.2 83.1L131.7 83.4L132.2 83.7L132.5 83.9L132.9 84.0L133.2 84.1L133.5 84.2L133.8 84.3L134.2 84.3L134.6 84.3L134.6 84.3L134.7 84.3L134.7 84.3L135.2 84.4L135.2 84.4L135.2 84.4L135.2 84.4L135.7 84.4L135.8 84.4L135.9 84.4L135.9 84.4L136.4 84.5L136.4 84.5L136.5 84.5L136.5 84.5L137.0 84.7L137.0 84.7L137.2 84.7L137.2 84.7L137.6 84.8L138.0 84.9L138.4 85.0L138.4 85.0L138.4 85.0L138.4 85.0L138.9 85.1L138.9 85.1L139.0 85.1L139.0 85.1L139.5 85.2L139.5 85.2L139.5 85.2L139.5 85.2L140.0 85.3L140.0 85.3L140.0 85.3L140.0 85.3L140.5 85.5L140.5 85.5L140.6 85.5L140.6 85.5L141.1 85.6L141.1 85.6L141.1 85.6L141.1 85.6L141.6 85.8L141.6 85.8L141.7 85.8L141.7 85.8L142.2 85.9L142.2 85.9L142.3 86.0L142.3 86.0L142.8 86.1L142.8 86.1L142.9 86.2L142.9 86.2L143.4 86.4L143.4 86.4L143.5 86.4L143.5 86.4L144.0 86.6L144.0 86.6L144.0 86.7L144.0 86.7L144.5 86.9L144.5 86.9L144.5 86.9L144.5 86.9L145.0 87.2L145.5 87.4L145.9 87.6L146.2 87.7L146.5 87.8L146.8 87.8L147.0 87.8L147.2 87.8L147.5 87.7L147.9 87.7L148.4 87.5L148.8 87.4L148.8 87.4L148.9 87.4L148.9 87.4L149.4 87.2L149.4 87.2L149.5 87.2L149.5 87.2L150.0 87.1L150.0 87.1L150.1 87.1L150.1 87.1L150.6 87.0L150.6 87.0L150.9 87.0L150.9 87.0L151.1 87.0L151.2 87.0L151.4 87.0L151.4 87.0L151.9 87.1L151.9 87.1L152.1 87.1L152.2 87.1L152.4 87.2L152.4 87.2L152.6 87.3L152.6 87.3L152.8 87.4L152.8 87.4L153.3 87.8L153.3 87.8L153.4 87.8L153.4 87.8L153.9 88.2L153.9 88.2L154.0 88.3L154.0 88.3L154.5 88.7L154.5 88.7L154.5 88.7L154.5 88.7L155.0 89.2L155.0 89.2L155.1 89.2L155.1 89.2L155.6 89.6L155.6 89.6L155.6 89.6L155.6 89.6L156.1 90.1L156.5 90.5L157.0 90.9L157.3 91.1L157.5 91.2L157.8 91.4L158.2 91.5L158.6 91.6L159.1 91.7L159.5 91.8L159.9 91.9L160.4 92.0L160.4 92.0L160.4 92.0L160.4 92.0L160.9 92.1L160.9 92.1L161.0 92.1L161.0 92.1L161.5 92.2L161.5 92.2L161.5 92.2L161.5 92.2L162.0 92.4L162.0 92.4L162.1 92.4L162.1 92.4L162.6 92.5L162.7 92.5L162.8 92.6L162.8 92.6L163.2 92.7L163.6 92.8L163.6 92.8L163.7 92.8L163.7 92.8L164.2 93.0L164.2 93.0L164.4 93.1L164.4 93.1L164.9 93.3L164.9 93.3L165.1 93.4L165.1 93.4L165.6 93.6L165.6 93.6L165.7 93.7L165.8 93.7L166.3 94.0L166.3 94.1L166.4 94.1L166.4 94.1L166.9 94.5L166.9 94.5L166.9 94.5L166.9 94.5L167.4 94.9L167.4 94.9L167.5 95.0L167.5 95.0L168.0 95.4L168.4 95.7L168.9 96.1L169.2 96.3L169.6 96.5L169.8 96.6L170.0 96.7L170.3 96.7L170.6 96.7L170.9 96.7L171.4 96.7L171.9 96.7L171.9 96.7L171.9 96.7L171.9 96.7L172.4 96.6L172.4 96.6L172.5 96.6L172.5 96.6L173.0 96.6L173.0 96.6L173.1 96.6L173.1 96.6L173.6 96.7L173.6 96.7L173.7 96.7L173.7 96.7L174.2 96.7L174.2 96.7L174.2 96.7L174.2 96.7L174.7 96.7L174.7 96.7L174.8 96.7L174.8 96.7L175.2 96.8L175.7 96.8L176.1 96.9L176.6 96.9L177.0 96.9L177.5 96.9L178.0 96.9L178.0 96.9L178.0 96.9L178.0 96.9L178.5 96.9L178.5 96.9L178.5 96.9L178.5 96.9L179.0 96.9L179.0 96.9L179.1 96.9L179.1 96.9L179.6 96.9L179.6 96.9L179.7 96.9L179.7 96.9L180.2 97.0L180.2 97.0L180.2 97.0L180.2 97.0L180.7 97.0L180.7 97.0L180.8 97.0L180.8 97.0L181.3 97.1L181.3 97.1L181.3 97.1L181.3 97.1L181.8 97.2L182.3 97.2L182.8 97.3L182.8 97.3L182.8 97.3L182.8 97.3L183.3 97.3L183.3 97.3L183.3 97.3L183.3 97.3L183.8 97.4L183.8 97.4L183.8 97.4L183.8 97.4L184.3 97.5L184.3 97.5L184.3 97.5L184.3 97.5L184.8 97.5L184.8 97.5L184.9 97.5L184.9 97.5L185.4 97.6L185.4 97.6L185.4 97.6L185.4 97.6L185.9 97.7L185.9 97.7L186.0 97.7L186.0 97.7L186.5 97.8L186.5 97.8L186.5 97.9L186.5 97.9L187.0 98.0L187.0 98.0L187.1 98.0L187.1 98.0L187.6 98.1L187.6 98.1L187.6 98.1L187.6 98.1L188.1 98.3L188.1 98.3L188.2 98.3L188.2 98.3L188.7 98.4L188.7 98.4L188.8 98.5L188.8 98.5L189.3 98.6L189.3 98.6L189.4 98.7L189.4 98.7L189.9 98.9L189.9 98.9L190.0 98.9L190.0 98.9L190.5 99.2L190.5 99.2L190.6 99.2L190.6 99.2L191.1 99.5L191.1 99.5L191.2 99.5L191.2 99.5L191.7 99.8L191.7 99.8L191.7 99.8L191.7 99.9L192.2 100.2L192.2 100.2L192.3 100.2L192.3 100.2L192.8 100.5L193.2 100.8L193.3 100.8L193.4 100.9L193.4 100.9L193.8 101.2L194.2 101.4L194.5 101.6L194.8 101.7L195.0 101.8L195.2 101.8L195.5 101.8L195.9 101.8L196.4 101.8L196.4 101.8L196.4 101.8L196.4 101.8L196.9 101.8L196.9 101.8L197.0 101.8L197.0 101.8L197.5 101.8L197.5 101.8L197.7 101.8L197.7 101.8L198.2 101.8L198.2 101.8L198.4 101.9L198.4 101.9L198.9 101.9L198.9 101.9L199.1 102.0L199.1 102.0L199.6 102.1L199.6 102.1L199.7 102.2L199.8 102.2L200.0 102.3L200.3 102.3L200.8 102.4L200.8 102.4L200.8 102.4L200.8 102.4L201.3 102.4L201.7 102.5L202.1 102.5L202.5 102.5L202.9 102.5L203.3 102.5L203.7 102.4L204.2 102.4L204.7 102.3L204.7 102.3L204.7 102.3L204.7 102.3L205.2 102.2L205.2 102.2L205.3 102.2L205.3 102.2L205.8 102.2L205.8 102.2L205.9 102.2L205.9 102.2L206.4 102.1L206.5 102.1L206.6 102.1L206.6 102.1L207.1 102.2L207.1 102.2L207.3 102.2L207.3 102.2L207.8 102.3L207.8 102.3L208.0 102.3L208.0 102.3L208.5 102.4L208.5 102.4L208.6 102.4L208.6 102.4L209.1 102.5L209.1 102.5L209.2 102.6L209.2 102.6L209.7 102.7L209.7 102.7L209.8 102.8L209.8 102.8L210.3 102.9L210.3 102.9L210.3 102.9L210.3 102.9L210.8 103.1L211.3 103.3L211.6 103.4L211.9 103.5L212.3 103.5L212.6 103.6L212.9 103.6L213.2 103.5L213.6 103.5L214.0 103.4L214.4 103.3L214.9 103.2L214.9 103.2L215.0 103.2L215.0 103.2L215.5 103.1L215.5 103.1L215.5 103.0L215.5 103.0L216.0 102.9L216.0 102.9L216.1 102.9L216.1 102.9L216.6 102.8L216.6 102.8L216.6 102.8L216.6 102.8L217.1 102.7L217.6 102.7L218.1 102.6L218.1 102.6L218.2 102.5L218.2 102.5L218.7 102.5L218.7 102.5L218.9 102.5L218.9 102.5L219.4 102.4L219.8 102.4L220.3 102.4L220.8 102.3L220.8 102.3L220.8 102.3L220.8 102.3L221.3 102.3L221.3 102.3L221.4 102.3L221.4 102.3L221.9 102.3L221.9 102.3L222.0 102.3L222.0 102.3L222.5 102.3L222.5 102.3L222.7 102.3L222.7 102.3L223.2 102.3L223.2 102.3L223.3 102.3L223.3 102.3L223.8 102.4L223.8 102.4L223.9 102.4L223.9 102.4L224.4 102.5L224.4 102.5L224.5 102.5L224.5 102.5L225.0 102.6L225.0 102.6L225.0 102.6L225.0 102.6L225.5 102.7L225.5 102.7L225.5 102.7L225.5 102.7L226.0 102.8L226.5 102.9L227.0 103.0L227.0 103.0L227.0 103.0L227.0 103.0L227.5 103.1L227.5 103.1L227.5 103.1L227.5 103.1L228.0 103.3L228.0 103.3L228.2 103.3L228.2 103.3L228.7 103.5L228.7 103.5L228.9 103.5L228.9 103.5L229.4 103.7L229.4 103.7L229.4 103.8L229.5 103.8L230.0 104.0L230.0 104.0L230.0 104.0L230.0 104.0L230.5 104.3L230.5 104.3L230.6 104.3L230.6 104.3L231.1 104.6L231.1 104.6L231.1 104.6L231.1 104.6L231.6 104.8L231.6 104.8L231.6 104.9L231.6 104.9L232.1 105.1L232.6 105.4L233.1 105.6L233.5 105.9L233.9 106.1L234.3 106.2L234.8 106.4L235.2 106.5L235.6 106.6L236.1 106.7L236.5 106.8L236.6 106.9L236.9 106.8L237.3 106.8L237.8 106.8L238.2 106.7L238.7 106.7L239.1 106.6L239.6 106.5L240.1 106.4L240.1 106.4L240.1 106.4L240.1 106.4L240.6 106.3L240.6 106.3L240.7 106.3L240.7 106.3L241.2 106.3L241.2 106.3L241.3 106.3L241.4 106.3L241.9 106.2L241.9 106.2L242.0 106.2L242.0 106.2L242.5 106.2L242.5 106.2L242.7 106.2L242.7 106.2L242.9 106.3L242.9 106.3L243.4 106.3L243.4 106.3L243.6 106.4L243.6 106.4L243.8 106.5L243.8 106.5L244.3 106.6L244.3 106.6L244.3 106.6L244.3 106.6L244.8 106.8L245.3 107.0L245.7 107.1L246.0 107.2L246.4 107.3L246.8 107.4L247.3 107.4L247.7 107.5L248.2 107.5L248.2 107.5L248.2 107.5L248.2 107.5L248.7 107.6L248.8 107.6L248.8 107.6L248.8 107.6L249.1 107.6L249.4 107.6L249.7 107.6L249.7 107.6L249.8 107.6L249.8 107.6L250.3 107.5L250.3 107.5L250.3 107.5L250.3 107.5L250.8 107.5L250.8 107.5L250.9 107.5L250.9 107.5L251.4 107.5L251.4 107.5L251.4 107.5L251.4 107.5L251.9 107.4L252.4 107.4L252.4 107.4L252.4 107.4L252.4 107.4L252.9 107.4L252.9 107.4L252.9 107.4L252.9 107.4L253.4 107.3L253.4 107.3L253.4 107.3L253.5 107.3L254.0 107.3L254.0 107.3L254.0 107.3L254.0 107.3L254.5 107.3L254.5 107.3L254.6 107.3L254.7 107.3L255.2 107.4L255.2 107.4L255.3 107.4L255.3 107.4L255.8 107.4L255.8 107.4L255.9 107.5L255.9 107.5L256.4 107.6L256.4 107.6L256.5 107.6L256.5 107.6L257.0 107.7L257.0 107.7L257.1 107.7L257.1 107.7L257.6 107.8L257.6 107.8L257.7 107.9L257.7 107.9L258.2 108.0L258.2 108.0L258.2 108.0L258.2 108.0L258.7 108.2L259.2 108.3L259.6 108.4L259.9 108.5L260.3 108.6L260.7 108.6L261.0 108.6L261.4 108.6L261.7 108.6L262.1 108.5L262.4 108.4L262.8 108.3L263.2 108.2L263.6 108.0L264.0 107.8L264.4 107.6L264.9 107.4L265.3 107.1L265.8 106.9L265.8 106.9L266.0 106.8L266.0 106.7L266.2 106.7L266.3 106.7L266.4 106.6L266.5 106.6L266.7 106.6L266.7 106.6L266.9 106.5L266.9 106.5L267.4 106.5L267.4 106.5L267.4 106.5L267.4 106.5L267.9 106.5L267.9 106.5L268.0 106.5L268.0 106.5L268.5 106.5L268.5 106.5L268.6 106.5L268.6 106.5L269.1 106.5L269.1 106.5L269.3 106.5L269.3 106.5L269.8 106.6L269.8 106.6L270.0 106.6L270.0 106.6L270.5 106.7L270.5 106.8L270.7 106.8L270.8 106.8L271.3 107.0L271.3 107.0L271.5 107.1L271.5 107.1L272.0 107.3L272.0 107.3L272.2 107.4L272.2 107.4L272.7 107.7L272.7 107.7L272.9 107.8L272.9 107.8L273.4 108.2L273.8 108.5L274.3 108.9L274.3 108.9L274.4 108.9L274.4 108.9L274.8 109.2L275.3 109.5L275.7 109.8L276.1 110.0L276.5 110.2L276.8 110.3L277.2 110.5L277.6 110.6L278.0 110.7L278.5 110.8L278.5 110.8L279.0 110.9L279.0 110.9L279.3 111.0L279.3 111.0L279.8 111.2L279.8 111.2L279.9 111.2L279.9 111.2L280.4 111.4L280.4 111.4L280.5 111.5L280.5 111.5L281.0 111.7L281.0 111.7L281.0 111.7L281.0 111.7L281.5 111.9L281.5 112.0L281.5 112.0L281.5 112.0L282.0 112.2L282.0 112.2L282.0 112.2L282.0 112.2L282.5 112.5L283.0 112.7L283.0 112.7L283.5 113.0L283.5 113.0L283.6 113.0L283.6 113.0L284.1 113.2L284.1 113.2L284.1 113.2L284.1 113.2L284.6 113.5L284.6 113.5L284.7 113.5L284.7 113.5L285.2 113.8L285.2 113.8L285.2 113.9L285.2 113.9L285.7 114.2L285.8 114.2L285.8 114.2L285.8 114.2L286.3 114.6L286.3 114.6L286.4 114.6L286.4 114.6L286.9 115.0L286.9 115.0L286.9 115.0L286.9 115.0L287.4 115.4L287.5 115.4L287.5 115.5L287.5 115.5L288.0 115.9L288.0 115.9L288.0 115.9L288.0 115.9L288.5 116.3L289.0 116.7L289.4 117.0L289.5 117.1L289.8 117.0L290.3 117.0L290.3 117.0L290.3 117.0L290.3 117.0L290.8 116.9L290.8 116.9L290.8 116.9L290.8 116.9L291.3 116.9L291.3 116.9L291.3 116.9L291.3 116.9L291.8 116.9L291.8 116.9L291.9 116.9L291.9 116.9L292.3 116.8L292.8 116.8L293.1 116.8L293.4 116.7L293.7 116.6L294.0 116.5L294.4 116.3L294.8 116.1L295.3 115.8L295.3 115.8L295.5 115.7L295.5 115.7L295.7 115.6L295.8 115.6L296.0 115.5L296.0 115.5L296.5 115.4L296.5 115.4L296.7 115.4L296.7 115.4L297.2 115.3L297.2 115.3L297.4 115.3L297.4 115.3L297.9 115.3L297.9 115.3L298.2 115.3L298.2 115.3L298.7 115.3L298.7 115.3L299.0 115.3L299.0 115.3L299.5 115.5L299.5 115.5L299.7 115.5L299.7 115.5L300.2 115.7L300.2 115.7L300.4 115.7L300.4 115.7L300.9 115.9L300.9 115.9L300.9 116.0L300.9 116.0L301.4 116.2L301.9 116.4L302.2 116.5L302.6 116.6L302.9 116.7L303.2 116.7L303.6 116.7L304.1 116.7L304.6 116.7L304.6 116.7L304.6 116.8L304.6 116.8L305.1 116.8L305.1 116.8L305.2 116.8L305.2 116.8L305.7 116.8L305.7 116.8L305.8 116.8L305.8 116.8L306.3 116.9L306.4 116.9L306.5 116.9L306.5 116.9L307.0 117.0L307.0 117.0L307.1 117.1L307.1 117.1L307.6 117.2L307.6 117.2L307.7 117.2L307.7 117.3L308.2 117.4L308.3 117.4L308.4 117.5L308.4 117.5L308.9 117.7L309.0 117.7L309.1 117.8L309.1 117.8L309.6 118.0L309.6 118.0L309.6 118.0L309.6 118.0L310.1 118.3L310.5 118.5L310.9 118.7L311.3 118.8L311.6 118.9L311.9 119.0L312.2 119.0L312.5 119.0L312.8 119.0L313.2 119.0L313.7 118.9L313.7 118.9L313.7 118.9L313.7 118.9L314.2 118.9L314.2 118.9L314.3 118.9L314.3 118.9L314.8 118.8L314.8 118.8L314.9 118.8L315.0 118.8L315.5 118.8L315.5 118.8L315.7 118.8L315.7 118.8L316.2 118.8L316.2 118.9L316.4 118.9L316.4 118.9L316.9 119.0L317.4 119.0L317.4 119.0L317.5 119.1L317.5 119.1L318.0 119.2L318.1 119.2L318.2 119.2L318.2 119.3L318.7 119.4L318.8 119.4L318.9 119.5L318.9 119.5L319.4 119.7L319.4 119.7L319.5 119.7L319.5 119.7L320.0 120.0L320.0 120.0L320.1 120.0L320.1 120.0L320.6 120.3L320.6 120.3L321.0 120.5L321.5 120.7L321.9 120.9L322.3 121.0L322.6 121.1L323.0 121.2L323.3 121.3L323.7 121.3L324.1 121.3L324.6 121.4L325.1 121.4L325.1 121.4L325.6 121.4L326.0 121.4L326.0 121.4L326.1 121.4L326.1 121.4L326.6 121.4L326.6 121.4L326.6 121.4L326.6 121.4L327.1 121.5L327.2 121.5L327.2 121.5L327.2 121.5L327.7 121.5L327.7 121.5L327.8 121.5L327.8 121.5L328.3 121.6L328.3 121.6L328.3 121.6L328.3 121.6L328.8 121.7L329.3 121.7L329.7 121.8L330.1 121.8L330.5 121.8L330.9 121.8L331.3 121.8L331.8 121.7L332.2 121.7L332.2 121.7L332.3 121.7L332.3 121.7L332.8 121.6L332.8 121.6L332.9 121.6L332.9 121.6L333.4 121.6L333.4 121.6L333.5 121.6L333.5 121.6L334.0 121.6L334.0 121.6L334.1 121.6L334.1 121.6L334.6 121.6L334.6 121.6L334.7 121.6L334.8 121.6L335.3 121.7L335.3 121.7L335.4 121.7L335.4 121.7L335.9 121.8L335.9 121.8L336.0 121.8L336.0 121.8L336.5 121.9L336.5 121.9L336.6 122.0L336.7 122.0L337.2 122.1L337.2 122.1L337.2 122.1L337.2 122.1L337.7 122.3L337.8 122.3L337.8 122.3L337.8 122.3L338.3 122.5L338.3 122.5L338.3 122.5L338.3 122.5L338.6 122.6L338.6 122.6L339.0 122.5L339.3 122.5L339.7 122.4L340.0 122.2L340.4 122.0L340.8 121.8L341.3 121.5L341.3 121.5L341.3 121.5L341.3 121.5L341.8 121.2L341.8 121.2L341.9 121.1L341.9 121.1L342.4 120.9L342.4 120.8L342.6 120.7L342.7 120.7L342.9 120.7L342.9 120.6L343.4 120.5L343.4 120.5L343.7 120.5L343.7 120.5L344.2 120.4L344.2 120.4L344.4 120.4L344.5 120.4L345.0 120.4L345.0 120.4L345.2 120.4L345.2 120.4L345.7 120.4L345.8 120.4L346.0 120.5L346.0 120.5L346.5 120.6L346.5 120.6L346.6 120.6L346.7 120.6L347.2 120.8L347.2 120.8L347.3 120.8L347.3 120.8L347.8 121.0L347.8 121.0L347.8 121.0L347.8 121.0L348.3 121.2L348.7 121.3L349.1 121.4L349.4 121.5L349.6 121.5L349.9 121.5L350.1 121.5L350.5 121.4L350.5 121.4L350.8 121.4L350.8 121.4L351.0 121.3L351.0 121.3L351.3 121.4L351.3 121.4L351.8 121.4L351.8 121.4L351.8 121.4L351.8 121.4L352.2 121.5L352.5 121.5L352.9 121.5L353.4 121.5L353.8 121.4L353.8 121.4L353.9 121.4L353.9 121.4L354.4 121.4L354.4 121.4L354.5 121.4L354.5 121.4L355.0 121.4L355.0 121.4L355.2 121.4L355.2 121.4L355.7 121.4L355.7 121.4L355.9 121.5L355.9 121.5L356.3 121.5L356.8 121.6L357.3 121.7L357.3 121.7L357.5 121.7L357.5 121.7L358.0 121.8L358.0 121.8L358.1 121.8L358.1 121.8L358.6 122.0L358.6 122.0L358.7 122.0L358.7 122.0L359.2 122.1L359.2 122.1L359.2 122.1L359.2 122.1L359.7 122.3L360.1 122.4L360.6 122.5L361.0 122.6L361.5 122.7L361.5 122.7L361.6 122.7L361.6 122.7L362.1 122.9L362.1 122.9L362.4 123.0L362.4 123.0L362.9 123.2L363.4 123.4L363.8 123.6L364.3 123.7L364.8 123.9L365.3 124.1L365.7 124.2L366.2 124.4L366.7 124.5L367.1 124.7L367.6 124.8L368.0 124.9L368.5 125.0L368.9 125.1L369.4 125.2L369.8 125.2L370.3 125.3L370.8 125.4L370.8 125.4L370.8 125.4L370.8 125.4L371.0 125.4L370.7 125.2L370.2 124.8L369.8 124.6L369.4 124.4L369.1 124.2L368.8 124.1L368.5 124.0L368.1 123.9L367.7 123.9L367.2 123.8L367.2 123.8L367.2 123.8L367.2 123.8L366.7 123.7L366.7 123.7L366.6 123.7L366.6 123.7L366.1 123.6L366.1 123.6L366.0 123.6L366.0 123.6L365.5 123.5L365.5 123.5L365.4 123.5L365.4 123.5L364.9 123.3L364.9 123.3L364.8 123.3L364.8 123.3L364.3 123.1L364.2 123.1L364.2 123.1L364.1 123.1L363.6 122.9L363.6 122.9L363.6 122.9L363.6 122.9L363.1 122.7L363.1 122.7L363.0 122.6L363.0 122.6L362.5 122.4L362.5 122.4L362.4 122.4L362.4 122.4L362.0 122.1L361.6 121.9L361.2 121.8L361.2 121.8L361.2 121.8L361.2 121.8L360.7 121.6L360.7 121.6L360.7 121.6L360.7 121.6L360.2 121.4L360.2 121.4L360.2 121.4L360.2 121.4L359.7 121.2L359.7 121.2L359.7 121.2L359.7 121.2L359.2 121.1L359.2 121.1L359.2 121.1L359.2 121.1L358.7 120.9L358.7 120.9L358.2 120.7L357.7 120.5L357.2 120.3L356.7 120.1L356.2 119.9L355.7 119.7L355.7 119.7L355.7 119.7L355.7 119.7L355.2 119.5L355.2 119.5L355.2 119.5L355.2 119.5L354.7 119.3L354.2 119.2L353.7 119.0L353.2 118.8L352.7 118.6L352.3 118.5L351.8 118.3L351.4 118.2L351.0 118.1L350.5 118.0L350.1 117.9L349.7 117.9L349.2 117.8L348.8 117.8L348.3 117.7L347.8 117.7L347.8 117.7L347.3 117.6L347.3 117.6L347.3 117.6L347.3 117.6L346.8 117.6L346.8 117.6L346.8 117.6L346.8 117.6L346.6 117.6L346.3 117.8L345.8 118.1L345.3 118.4L344.8 118.7L344.3 119.0L344.3 119.0L344.3 119.1L344.3 119.1L343.8 119.4L343.8 119.4L343.8 119.4L343.8 119.4L343.3 119.7L343.3 119.7L343.2 119.8L343.2 119.8L342.7 120.1L342.7 120.1L342.6 120.1L342.6 120.1L342.1 120.4L342.1 120.4L341.9 120.5L341.9 120.5L341.7 120.6L341.6 120.6L341.4 120.6L341.4 120.6L340.9 120.7L340.9 120.7L340.6 120.7L340.6 120.7L340.1 120.8L340.1 120.8L339.9 120.8L339.9 120.8L339.4 120.7L339.4 120.7L339.3 120.7L339.3 120.7L338.8 120.7L338.8 120.7L338.8 120.7L338.8 120.7L338.3 120.6L338.3 120.6L337.8 120.6L337.3 120.6L336.9 120.5L336.5 120.5L336.1 120.5L336.0 120.5L335.8 120.5L335.8 120.5L335.3 120.5L335.3 120.5L335.2 120.5L335.2 120.5L334.7 120.4L334.2 120.3L333.7 120.3L333.7 120.3L333.7 120.3L333.7 120.3L333.2 120.2L333.2 120.2L333.2 120.2L333.2 120.2L332.7 120.1L332.7 120.1L332.7 120.1L332.7 120.1L332.2 120.1L331.7 120.0L331.2 119.9L330.7 119.9L330.3 119.8L329.8 119.8L329.4 119.7L328.9 119.7L328.5 119.7L328.0 119.7L328.0 119.7L328.0 119.7L328.0 119.7L327.5 119.7L327.1 119.7L326.6 119.7L326.1 119.8L325.6 119.8L325.6 119.8L325.6 119.8L325.6 119.8L325.1 119.8L325.1 119.8L325.0 119.8L325.0 119.8L324.5 119.8L324.5 119.8L324.4 119.8L324.4 119.8L323.9 119.8L323.9 119.8L323.8 119.8L323.7 119.8L323.2 119.7L323.2 119.7L323.1 119.7L323.1 119.7L322.6 119.6L322.6 119.6L322.5 119.6L322.5 119.6L322.0 119.5L321.9 119.5L321.9 119.4L321.8 119.4L321.3 119.3L321.3 119.3L321.3 119.3L321.3 119.3L320.8 119.1L320.8 119.1L320.7 119.1L320.7 119.1L320.2 118.9L320.2 118.9L320.2 118.9L320.2 118.9L319.7 118.7L319.2 118.6L318.7 118.4L318.7 118.4L318.6 118.3L318.6 118.3L318.1 118.1L318.1 118.1L317.8 118.0L317.8 118.0L317.3 117.7L316.9 117.5L316.4 117.2L315.9 117.0L315.5 116.7L315.1 116.5L314.6 116.4L314.2 116.2L313.8 116.1L313.4 115.9L313.0 115.8L312.6 115.8L312.3 115.7L311.9 115.7L311.4 115.7L310.9 115.7L310.9 115.7L310.9 115.7L310.9 115.7L310.4 115.7L310.4 115.7L310.4 115.7L310.4 115.7L309.9 115.6L309.9 115.6L309.8 115.6L309.8 115.6L309.3 115.6L309.3 115.6L309.2 115.6L309.2 115.6L308.7 115.5L308.7 115.5L308.7 115.5L308.7 115.5L308.2 115.5L308.2 115.5L308.1 115.4L308.1 115.4L307.6 115.4L307.6 115.3L307.5 115.3L307.5 115.3L307.0 115.2L307.0 115.2L306.9 115.2L306.9 115.2L306.4 115.1L306.4 115.1L306.3 115.1L306.3 115.1L305.8 114.9L305.8 114.9L305.7 114.9L305.7 114.9L305.2 114.7L305.2 114.7L305.2 114.7L305.1 114.7L304.6 114.5L304.6 114.5L304.6 114.4L304.6 114.4L304.1 114.2L304.1 114.2L304.0 114.2L304.0 114.2L303.5 114.0L303.5 114.0L303.4 113.9L303.4 113.9L302.9 113.7L302.9 113.7L302.9 113.6L302.9 113.6L302.4 113.4L302.4 113.4L302.4 113.4L302.4 113.4L301.9 113.1L301.4 112.8L300.9 112.6L300.5 112.3L300.0 112.1L299.6 112.0L299.3 111.8L298.9 111.7L298.5 111.6L298.1 111.5L297.6 111.5L297.2 111.4L296.8 111.4L296.3 111.3L295.8 111.3L295.3 111.2L294.9 111.2L294.4 111.2L293.9 111.2L293.4 111.1L293.1 111.1L293.0 111.2L293.0 111.2L293.0 111.2L293.0 111.2L292.5 111.4L292.5 111.4L292.4 111.5L292.4 111.5L291.9 111.7L291.9 111.7L291.8 111.7L291.8 111.7L291.3 111.9L291.3 111.9L291.2 111.9L291.2 111.9L290.7 112.1L290.7 112.1L290.5 112.1L290.5 112.1L290.0 112.2L290.0 112.2L289.9 112.2L289.9 112.2L289.4 112.3L289.4 112.3L289.3 112.3L289.3 112.3L288.8 112.4L288.8 112.4L288.7 112.4L288.7 112.4L288.2 112.5L288.2 112.5L288.2 112.5L288.2 112.5L287.7 112.5L287.7 112.5L287.5 112.5L287.4 112.5L287.2 112.5L287.2 112.5L287.0 112.5L287.0 112.5L286.8 112.4L286.8 112.4L286.6 112.3L286.6 112.3L286.4 112.2L286.4 112.2L286.2 112.1L286.2 112.1L286.0 112.0L286.0 112.0L285.5 111.6L285.0 111.2L284.5 110.8L284.1 110.4L283.6 110.0L283.1 109.7L282.6 109.3L282.1 108.9L281.6 108.6L281.3 108.3L281.0 108.1L280.5 108.0L280.1 107.8L279.7 107.6L279.2 107.4L278.8 107.3L278.4 107.2L278.0 107.1L277.5 107.0L277.2 106.9L277.0 106.9L276.5 106.9L276.5 106.9L276.4 106.9L276.4 106.9L275.9 106.9L275.9 106.9L275.8 106.9L275.8 106.9L275.3 106.9L275.3 106.9L275.2 106.8L275.2 106.8L274.7 106.8L274.7 106.8L274.6 106.8L274.6 106.8L274.1 106.7L274.1 106.7L274.0 106.7L274.0 106.7L273.5 106.5L273.5 106.5L273.5 106.5L273.5 106.5L273.0 106.4L272.6 106.3L272.1 106.3L272.1 106.3L271.9 106.2L271.9 106.2L271.4 106.1L271.4 106.1L271.1 106.0L271.1 106.0L270.6 105.8L270.6 105.8L270.1 105.6L270.1 105.6L270.1 105.6L270.1 105.6L269.6 105.4L269.6 105.4L269.6 105.4L269.6 105.4L269.1 105.1L269.1 105.1L269.0 105.1L269.0 105.1L268.5 104.9L268.5 104.9L268.5 104.9L268.5 104.9L268.0 104.6L268.0 104.6L268.0 104.6L268.0 104.6L267.5 104.4L267.0 104.2L266.8 104.1L266.6 104.1L266.3 104.2L265.8 104.4L265.4 104.6L265.4 104.6L265.3 104.6L265.3 104.6L264.8 104.8L264.8 104.8L264.8 104.8L264.8 104.8L264.3 105.0L264.3 105.0L264.2 105.0L264.2 105.0L263.7 105.2L263.7 105.2L263.5 105.2L263.5 105.2L263.0 105.3L263.0 105.3L262.9 105.4L262.9 105.4L262.4 105.4L262.4 105.4L262.2 105.5L262.1 105.5L261.9 105.5L261.9 105.5L261.7 105.4L261.6 105.4L261.4 105.4L261.4 105.4L260.9 105.3L260.9 105.3L260.8 105.2L260.8 105.2L260.3 105.1L260.3 105.1L260.2 105.1L260.2 105.1L259.7 104.9L259.7 104.9L259.7 104.9L259.7 104.9L259.2 104.7L258.8 104.6L258.4 104.4L257.9 104.3L257.6 104.2L257.2 104.2L257.1 104.2L256.8 104.3L256.4 104.4L256.4 104.4L256.3 104.5L256.3 104.5L255.8 104.6L255.8 104.6L255.8 104.7L255.8 104.7L255.3 104.8L255.3 104.8L255.2 104.9L255.2 104.9L254.7 105.0L254.7 105.0L254.5 105.1L254.5 105.1L254.0 105.2L254.0 105.2L253.9 105.2L253.8 105.2L253.3 105.3L253.3 105.3L253.2 105.3L253.2 105.3L252.7 105.3L252.7 105.3L252.5 105.4L252.5 105.4L252.0 105.4L252.0 105.4L251.9 105.4L251.9 105.4L251.4 105.3L251.4 105.3L251.3 105.3L251.3 105.3L250.8 105.3L250.4 105.3L250.0 105.3L249.6 105.3L249.5 105.3L249.3 105.2L249.2 105.2L248.7 105.2L248.7 105.2L248.5 105.2L248.5 105.2L248.3 105.1L248.3 105.1L247.8 104.9L247.4 104.8L246.9 104.7L246.4 104.6L246.4 104.6L246.4 104.6L246.4 104.6L245.9 104.5L245.9 104.5L245.9 104.4L245.9 104.4L245.4 104.3L245.4 104.3L245.3 104.3L245.3 104.3L244.8 104.1L244.8 104.1L244.8 104.1L244.8 104.1L244.3 103.9L244.2 103.9L244.2 103.9L244.2 103.9L243.7 103.7L243.7 103.7L243.6 103.7L243.6 103.7L243.1 103.5L243.1 103.5L243.0 103.5L243.0 103.5L242.5 103.2L242.5 103.2L242.5 103.2L242.5 103.2L242.1 103.1L241.9 103.0L241.5 102.9L241.1 102.8L240.7 102.7L240.3 102.7L239.9 102.7L239.5 102.7L239.2 102.7L238.7 102.7L238.3 102.8L237.8 102.8L237.4 102.9L237.4 102.9L237.3 102.9L237.3 102.9L236.8 103.0L236.8 103.0L236.7 103.0L236.7 103.0L236.2 103.0L236.2 103.0L236.1 103.0L236.1 103.0L235.6 103.1L235.6 103.1L235.6 103.1L235.6 103.1L235.1 103.1L235.1 103.1L235.1 103.1L235.1 103.1L234.6 103.1L234.6 103.1L234.5 103.1L234.5 103.1L234.0 103.1L234.0 103.1L234.0 103.1L234.0 103.1L233.5 103.1L233.5 103.1L233.4 103.1L233.4 103.1L232.9 103.1L232.9 103.1L232.9 103.1L232.9 103.1L232.4 103.1L232.4 103.1L232.4 103.1L232.4 103.1L231.9 103.0L231.9 103.0L231.8 103.0L231.8 103.0L231.3 103.0L231.3 103.0L231.3 103.0L231.3 103.0L230.8 103.0L230.8 102.9L230.7 102.9L230.7 102.9L230.2 102.9L230.2 102.9L230.2 102.9L230.1 102.9L229.6 102.8L229.6 102.8L229.6 102.8L229.6 102.8L229.1 102.7L229.1 102.7L229.0 102.7L229.0 102.7L228.5 102.6L228.5 102.6L228.5 102.6L228.5 102.6L228.0 102.4L228.0 102.4L227.9 102.4L227.9 102.4L227.4 102.3L227.4 102.3L227.3 102.3L227.3 102.3L226.8 102.1L226.8 102.1L226.6 102.1L226.6 102.0L226.1 101.8L226.1 101.8L226.1 101.8L226.1 101.8L225.6 101.6L225.6 101.6L225.6 101.6L225.6 101.6L225.1 101.4L225.1 101.4L225.0 101.4L225.0 101.4L224.5 101.2L224.5 101.2L224.5 101.1L224.5 101.1L224.0 100.9L223.5 100.7L223.1 100.5L222.7 100.3L222.3 100.2L221.9 100.1L221.5 100.0L221.1 99.9L220.6 99.8L220.2 99.8L220.2 99.8L220.2 99.8L220.1 99.8L219.8 99.7L219.5 99.7L219.5 99.7L219.4 99.7L219.4 99.7L218.9 99.7L218.9 99.7L218.9 99.7L218.9 99.7L218.4 99.7L218.4 99.7L218.3 99.7L218.3 99.7L217.8 99.6L217.8 99.6L217.8 99.6L217.8 99.6L217.3 99.6L216.8 99.5L216.4 99.5L215.9 99.5L215.4 99.5L214.9 99.4L214.9 99.4L214.9 99.4L214.9 99.4L214.4 99.4L214.4 99.4L214.3 99.4L214.3 99.4L213.8 99.4L213.8 99.4L213.7 99.4L213.7 99.4L213.2 99.3L213.2 99.3L213.1 99.3L213.1 99.3L212.6 99.2L212.6 99.2L212.4 99.2L212.4 99.2L211.9 99.0L211.9 99.0L211.8 99.0L211.8 99.0L211.3 98.8L211.2 98.8L211.1 98.8L211.1 98.8L210.6 98.6L210.6 98.6L210.5 98.5L210.5 98.5L210.0 98.3L210.0 98.3L209.7 98.1L209.7 98.1L209.2 97.8L209.2 97.8L209.2 97.8L209.2 97.8L208.7 97.4L208.2 97.1L207.8 96.9L207.5 96.7L207.2 96.6L207.0 96.5L206.8 96.5L206.5 96.5L206.2 96.5L205.8 96.5L205.4 96.6L204.9 96.7L204.9 96.7L204.8 96.7L204.8 96.7L204.3 96.8L204.3 96.8L204.2 96.8L204.2 96.8L203.7 96.8L203.7 96.8L203.6 96.8L203.6 96.8L203.1 96.9L203.1 96.9L203.0 96.9L203.0 96.9L202.5 96.9L202.5 96.9L202.5 96.9L202.5 96.9L202.0 96.9L202.0 96.9L202.0 96.9L202.0 96.9L201.5 96.9L201.5 96.9L201.3 96.9L201.3 96.9L200.8 96.8L200.8 96.8L200.7 96.8L200.7 96.8L200.2 96.7L200.2 96.7L200.0 96.7L200.0 96.7L199.5 96.6L199.5 96.6L199.4 96.6L199.4 96.6L198.9 96.4L198.9 96.4L198.8 96.4L198.8 96.4L198.3 96.2L198.3 96.2L198.2 96.2L198.2 96.2L197.7 96.0L197.7 96.0L197.6 96.0L197.6 96.0L197.1 95.8L197.1 95.8L197.1 95.8L197.1 95.8L196.6 95.6L196.1 95.4L195.7 95.2L195.2 95.0L194.8 94.9L194.3 94.8L193.9 94.6L193.5 94.5L193.1 94.4L192.6 94.4L192.2 94.3L191.8 94.3L191.3 94.2L190.9 94.2L190.5 94.2L190.1 94.2L189.7 94.2L189.4 94.3L189.0 94.3L188.6 94.4L188.2 94.6L187.8 94.7L187.3 94.9L186.8 95.1L186.8 95.1L186.8 95.1L186.8 95.1L186.3 95.2L186.2 95.2L186.2 95.3L186.2 95.3L185.7 95.4L185.7 95.4L185.5 95.4L185.5 95.4L185.0 95.6L185.0 95.6L184.9 95.6L184.9 95.6L184.4 95.7L184.4 95.7L184.2 95.7L184.2 95.7L183.7 95.7L183.7 95.7L183.5 95.7L183.5 95.7L183.0 95.8L183.0 95.8L182.9 95.7L182.9 95.7L182.4 95.7L182.3 95.7L182.2 95.7L182.2 95.7L181.7 95.6L181.7 95.6L181.6 95.6L181.6 95.6L181.1 95.5L181.1 95.5L181.0 95.5L181.0 95.5L180.5 95.4L180.5 95.4L180.4 95.4L180.4 95.4L179.9 95.2L179.9 95.2L179.8 95.2L179.8 95.2L179.3 95.1L179.3 95.1L179.3 95.1L179.3 95.1L178.8 94.9L178.8 94.9L178.6 94.8L178.6 94.8L178.4 94.7L178.4 94.7L178.2 94.6L178.2 94.6L178.0 94.5L178.0 94.5L177.5 94.0L177.5 94.0L177.3 93.9L177.3 93.9L177.1 93.7L177.1 93.7L177.0 93.5L177.0 93.5L176.5 92.6L176.0 91.8L175.5 91.0L175.3 90.8L175.1 90.8L175.1 90.8L175.1 90.8L175.1 90.8L174.6 90.8L174.6 90.8L174.6 90.8L174.6 90.8L174.1 90.8L174.1 90.8L174.1 90.8L174.1 90.8L173.6 90.8L173.1 90.8L172.6 90.9L172.1 90.9L171.6 90.9L171.6 90.9L171.4 90.9L171.4 90.9L171.2 90.9L171.1 90.9L170.9 90.8L170.9 90.8L170.7 90.8L170.7 90.8L170.5 90.7L170.5 90.7L170.0 90.5L169.5 90.2L169.1 90.0L168.6 89.8L168.1 89.7L167.7 89.5L167.2 89.3L167.2 89.3L167.0 89.2L167.0 89.2L166.8 89.1L166.8 89.1L166.7 89.0L166.7 89.0L166.2 88.7L166.2 88.7L166.0 88.6L166.0 88.6L165.9 88.4L165.8 88.4L165.7 88.3L165.7 88.3L165.2 87.7L164.7 87.1L164.2 86.5L163.7 86.0L163.2 85.4L162.7 84.9L162.5 84.9L162.5 84.9L162.5 84.9L162.5 84.9L162.0 84.9L161.5 84.9L161.0 84.9L160.6 84.9L160.1 84.9L160.1 84.9L159.9 84.9L159.8 84.9L159.6 84.9L159.6 84.9L159.1 84.8L158.6 84.7L158.2 84.6L157.7 84.5L157.6 84.5L157.6 84.5L157.6 84.5L157.1 84.5L157.1 84.5L157.1 84.5L157.1 84.5L156.6 84.4L156.6 84.4L156.6 84.4L156.5 84.4L156.0 84.3L156.0 84.3L156.0 84.3L156.0 84.3L155.5 84.1L155.5 84.1L155.5 84.1L155.5 84.1L155.0 84.0L154.5 83.9L154.1 83.8L153.9 83.8L153.8 83.8L153.4 83.9L152.9 84.0L152.9 84.0L152.9 84.0L152.9 84.0L152.4 84.1L152.4 84.1L152.4 84.1L152.4 84.1L151.9 84.2L151.9 84.2L151.8 84.2L151.8 84.2L151.3 84.2L151.3 84.2L151.1 84.3L151.1 84.3L150.6 84.3L150.6 84.3L150.5 84.3L150.5 84.3L150.0 84.3L149.9 84.3L149.8 84.3L149.8 84.3L149.3 84.2L149.3 84.2L149.1 84.2L149.1 84.2L148.6 84.1L148.6 84.1L148.5 84.1L148.5 84.1L148.0 84.0L148.0 84.0L147.9 84.0L147.9 84.0L147.4 83.8L147.4 83.8L147.4 83.8L147.4 83.8L146.9 83.7L146.5 83.6L146.1 83.5L145.8 83.5L145.5 83.5L145.2 83.5L144.9 83.5L144.4 83.6L144.4 83.6L144.2 83.6L144.2 83.6L144.0 83.6L144.0 83.6L143.8 83.6L143.8 83.6L143.6 83.6L143.6 83.6L143.4 83.6L143.4 83.6L143.2 83.5L143.2 83.5L142.7 83.3L142.6 83.3L142.5 83.2L142.5 83.2L142.3 83.1L142.3 83.1L142.1 83.0L142.1 83.0L141.9 82.9L141.9 82.8L141.8 82.7L141.8 82.7L141.7 82.6L141.6 82.5L141.1 81.9L140.7 81.3L140.2 80.6L140.2 80.6L140.1 80.6L140.1 80.6L139.9 80.3L139.8 80.3L139.8 80.3L139.8 80.3L139.8 80.3L139.3 80.2L139.3 80.2L139.2 80.2L139.2 80.2L138.7 80.2L138.7 80.2L138.7 80.1L138.7 80.1L138.2 80.1L138.2 80.1L138.1 80.1L138.1 80.1L137.6 80.0L137.6 80.0L137.5 80.0L137.5 80.0L137.0 79.9L137.0 79.9L136.9 79.9L136.9 79.9L136.4 79.7L136.4 79.7L136.3 79.7L136.3 79.7L135.8 79.5L135.8 79.5L135.7 79.5L135.7 79.5L135.2 79.3L135.2 79.3L135.1 79.3L135.1 79.3L134.6 79.1L134.6 79.1L134.5 79.1L134.5 79.1L134.0 78.8L134.0 78.8L134.0 78.8L134.0 78.8L133.5 78.6L133.0 78.4L132.6 78.2L132.6 78.1L132.4 78.1L132.4 78.1L132.2 78.0L132.2 78.0L131.8 77.7L131.4 77.5L131.1 77.3L130.7 77.2L130.4 77.1L130.0 76.9L129.5 76.8L129.5 76.8L129.5 76.8L129.5 76.8L129.0 76.7L129.0 76.7L128.9 76.7L128.9 76.7L128.4 76.6L128.4 76.6L128.3 76.5L128.2 76.5L127.7 76.3L127.7 76.3L127.6 76.3L127.6 76.3L127.1 76.1L127.1 76.1L126.9 76.0L126.9 76.0L126.4 75.7L126.4 75.7L126.3 75.7L126.3 75.7L125.8 75.4L125.8 75.4L125.8 75.4L125.8 75.3L125.3 75.0L125.3 75.0L125.2 75.0L125.2 75.0L124.7 74.7L124.2 74.4L123.8 74.1L123.3 73.8L122.8 73.5L122.3 73.2L121.9 73.0L121.9 73.0L121.8 73.0L121.8 73.0L121.3 72.7L121.3 72.7L121.3 72.7L121.3 72.7L120.8 72.4L120.8 72.4L120.6 72.2L120.6 72.2L120.4 72.1L120.4 72.1L119.9 71.6L119.9 71.6L119.9 71.6L119.9 71.6L119.4 71.1L119.4 71.1L119.4 71.1L119.4 71.1L118.9 70.6L118.9 70.6L118.8 70.6L118.8 70.6L118.3 70.1L118.3 70.1L118.3 70.1L118.3 70.1L117.8 69.6L117.3 69.1L116.9 68.6L116.4 68.2L115.9 67.8L115.6 67.5L115.6 67.5L115.3 67.4L114.9 67.3L114.5 67.2L114.1 67.1L113.6 67.0L113.2 67.0L112.8 66.9L112.3 66.9L112.3 66.9L112.3 66.9L112.3 66.9L111.8 66.9L111.8 66.9L111.8 66.8L111.8 66.8L111.3 66.8L111.3 66.8L111.2 66.8L111.2 66.8L110.7 66.7L110.7 66.7L110.6 66.7L110.6 66.7L110.1 66.6L110.1 66.6L110.0 66.6L110.0 66.6L109.5 66.5L109.5 66.5L109.4 66.5L109.4 66.5L108.9 66.3L108.9 66.3L108.8 66.3L108.8 66.3L108.3 66.2L108.3 66.2L108.1 66.1L108.1 66.1L107.9 66.0L107.9 66.0L107.4 65.7L107.4 65.7L107.3 65.7L107.3 65.7L106.8 65.4L106.8 65.4L106.8 65.4L106.8 65.4L106.3 65.1L106.3 65.1L106.3 65.1L106.3 65.1L105.8 64.7L105.8 64.7L105.7 64.7L105.7 64.7L105.2 64.4L105.2 64.4L105.2 64.4L105.2 64.4L104.7 64.0L104.7 64.0L104.7 64.0L104.7 64.0L104.2 63.7L104.2 63.7L104.2 63.7L104.2 63.7L103.7 63.4L103.2 63.0L102.8 63.0L102.3 63.0L101.8 62.9L101.3 62.9L100.9 62.9L100.4 62.8L100.0 62.8L99.7 62.8L99.3 62.9L98.9 63.0L98.4 63.0L98.0 63.1L97.5 63.2L97.5 63.2L97.5 63.2L97.5 63.2L97.0 63.3L96.6 63.4L96.1 63.6L95.6 63.7L95.3 63.8L95.3 65.3L95.8 65.9L95.8 65.9L95.8 65.9ZM381.6 129.2L382.0 129.3L382.5 129.4L383.0 129.5L383.0 129.5L383.1 129.5L383.1 129.5L383.6 129.6L383.6 129.6L383.8 129.7L383.8 129.7L384.3 129.9L384.3 129.9L384.3 129.9L384.3 129.9L384.8 130.1L384.8 130.1L384.9 130.1L384.9 130.1L385.4 130.3L385.4 130.3L385.4 130.3L385.4 130.3L385.9 130.6L386.0 130.6L386.0 130.6L386.0 130.6L386.5 130.8L386.6 130.9L386.7 130.9L386.7 130.9L387.2 131.2L387.2 131.2L387.3 131.3L387.3 131.3L387.8 131.6L387.8 131.6L387.9 131.7L387.9 131.7L388.4 132.0L388.4 132.1L388.5 132.1L388.5 132.1L389.0 132.5L389.0 132.5L389.1 132.6L389.1 132.6L389.6 133.0L389.6 133.0L389.6 133.1L389.6 133.1L390.1 133.5L390.5 133.9L390.7 134.1L391.0 134.2L391.3 134.3L391.5 134.4L391.7 134.4L391.9 134.4L392.2 134.4L392.6 134.3L393.1 134.2L393.1 134.2L393.1 134.2L393.1 134.2L393.6 134.2L393.6 134.2L393.7 134.1L393.7 134.1L393.8 134.1L393.7 134.1L393.7 134.1L393.7 134.0L393.7 134.0L393.4 133.9L393.4 133.8L393.1 133.8L393.1 133.8L392.9 133.8L392.9 133.8L392.4 133.6L392.4 133.6L392.3 133.6L392.3 133.6L391.8 133.4L391.8 133.4L391.7 133.4L391.7 133.4L391.2 133.2L391.2 133.2L391.1 133.2L391.1 133.2L390.6 133.0L390.6 133.0L390.5 132.9L390.5 132.9L390.0 132.7L390.0 132.7L390.0 132.7L390.0 132.7L389.5 132.5L389.0 132.2L388.5 132.0L388.5 132.0L388.4 131.9L388.3 131.9L388.2 131.8L388.2 131.8L388.0 131.7L388.0 131.7L387.5 131.3L387.5 131.3L387.4 131.2L387.4 131.2L387.2 131.0L387.2 131.0L387.1 130.9L387.1 130.9L386.6 130.2L386.1 129.6L385.7 129.0L385.2 128.4L384.8 127.9L384.5 127.6L384.1 127.7L383.7 127.8L383.2 128.0L382.7 128.1L382.7 128.1L382.7 128.1L382.7 128.1L382.2 128.3L382.1 128.3L382.1 128.3L382.1 128.3L381.6 128.4L381.6 128.4L381.5 128.5L381.4 128.5L380.9 128.6L380.9 128.6L380.8 128.6L380.8 128.6L380.3 128.6L380.3 128.7L380.1 128.7L380.1 128.7L380.1 128.7L380.4 128.8L380.8 128.9L381.2 129.1L381.6 129.2ZM418.9 142.6L418.9 142.6L419.0 142.6L419.0 142.6L419.5 142.9L419.5 142.9L419.6 142.9L419.6 142.9L420.1 143.2L420.1 143.2L420.1 143.2L420.1 143.2L420.6 143.5L421.1 143.7L421.5 143.9L421.9 144.1L422.1 144.2L422.4 144.2L422.7 144.3L422.9 144.3L423.3 144.2L423.6 144.2L424.1 144.1L424.6 144.0L424.6 144.0L424.6 144.0L424.6 144.0L425.1 143.9L425.1 143.9L425.2 143.9L425.2 143.9L425.7 143.9L425.7 143.9L425.8 143.9L425.9 143.9L426.4 143.8L426.4 143.8L426.5 143.8L426.5 143.8L426.6 143.8L426.6 143.8L426.1 143.5L425.7 143.2L425.3 142.9L424.9 142.7L424.4 142.4L424.3 142.4L424.2 142.3L424.2 142.3L424.2 142.3L424.2 142.3L423.7 142.3L423.7 142.3L423.6 142.3L423.6 142.3L423.1 142.2L423.1 142.2L423.1 142.2L423.1 142.2L422.6 142.1L422.6 142.1L422.6 142.1L422.6 142.1L422.1 142.0L421.6 141.9L421.2 141.8L420.8 141.8L420.6 141.8L420.3 141.8L420.0 141.8L419.7 141.9L419.2 142.1L419.2 142.1L419.1 142.1L419.1 142.1L418.6 142.3L418.3 142.3L418.4 142.4L418.4 142.4L418.4 142.4L418.4 142.4L418.9 142.6ZM447.8 148.8L447.8 148.8L448.3 149.1L448.4 149.1L448.4 149.2L448.4 149.2L448.9 149.5L448.9 149.5L448.9 149.6L448.9 149.6L449.4 149.9L449.4 150.0L449.5 150.0L449.5 150.0L450.0 150.4L450.0 150.4L450.0 150.4L450.0 150.4L450.5 150.9L450.5 150.9L450.5 150.9L450.5 150.9L450.7 151.0L450.7 151.0L450.7 151.0L450.2 150.3L449.7 149.8L449.3 149.3L448.8 148.8L448.4 148.4L448.3 148.3L448.1 148.4L447.6 148.5L447.6 148.5L447.6 148.5L447.6 148.5L447.4 148.5L447.4 148.5L447.4 148.5L447.6 148.6L447.7 148.6L447.8 148.8ZM469.4 157.3L469.8 157.5L470.3 157.7L470.7 157.8L471.2 158.0L471.6 158.1L472.0 158.2L472.5 158.3L473.0 158.4L473.0 158.4L473.0 158.4L473.0 158.4L473.4 158.5L473.8 158.5L474.2 158.6L474.2 158.6L474.3 158.6L474.3 158.6L474.8 158.7L474.9 158.7L474.9 158.7L474.9 158.7L475.4 158.8L475.5 158.8L475.5 158.8L475.5 158.8L476.0 158.9L476.0 158.9L476.0 158.9L476.0 158.9L476.5 159.0L477.0 159.1L477.4 159.2L477.8 159.3L478.1 159.3L478.5 159.3L478.9 159.3L479.3 159.3L479.7 159.2L480.2 159.2L480.2 159.2L480.4 159.1L480.4 159.1L480.9 159.1L480.9 159.1L481.1 159.1L481.2 159.1L481.4 159.1L481.4 159.1L481.9 159.2L481.9 159.2L482.0 159.2L482.0 159.3L482.5 159.4L482.5 159.4L482.6 159.4L482.6 159.4L483.1 159.5L483.1 159.5L483.2 159.6L483.2 159.6L483.7 159.7L483.7 159.7L483.8 159.7L483.8 159.7L484.3 159.9L484.3 159.9L484.4 159.9L484.4 160.0L484.9 160.2L484.9 160.2L484.9 160.2L484.9 160.2L485.4 160.4L485.9 160.6L486.3 160.7L486.7 160.8L487.0 160.9L487.4 161.0L487.7 161.0L488.0 161.1L488.5 161.1L488.5 161.1L488.6 161.1L488.3 160.9L487.9 160.7L487.9 160.7L487.9 160.7L487.9 160.7L487.9 160.7L487.4 160.6L487.4 160.6L487.3 160.6L487.3 160.6L486.8 160.6L486.7 160.6L486.6 160.6L486.6 160.6L486.1 160.5L486.1 160.5L485.9 160.4L485.9 160.4L485.4 160.3L485.4 160.3L485.2 160.2L485.2 160.2L484.7 160.1L484.7 160.1L484.5 160.0L484.5 160.0L484.0 159.8L484.0 159.8L484.0 159.7L484.0 159.7L483.5 159.5L483.0 159.3L483.0 159.3L482.9 159.2L482.9 159.2L482.4 158.9L482.4 158.9L482.4 158.9L482.4 158.9L481.9 158.7L481.4 158.4L481.0 158.2L480.6 158.1L480.3 157.9L479.9 157.8L479.5 157.7L479.1 157.6L478.6 157.6L478.1 157.5L478.1 157.5L478.1 157.5L478.1 157.5L477.6 157.4L477.6 157.4L477.6 157.4L477.6 157.4L477.1 157.3L477.1 157.3L477.0 157.3L477.0 157.3L476.5 157.2L476.5 157.2L476.5 157.2L476.5 157.2L476.0 157.1L475.6 157.0L475.3 156.9L474.9 156.9L474.5 156.9L474.1 156.9L473.6 156.9L473.1 156.9L473.1 156.9L473.1 156.9L473.1 156.9L472.6 157.0L472.6 157.0L472.5 157.0L472.5 157.0L472.0 157.0L472.0 157.0L471.9 157.0L471.9 157.0L471.4 156.9L471.4 156.9L471.3 156.9L471.3 156.9L470.8 156.9L470.8 156.9L470.8 156.9L470.8 156.9L470.3 156.9L470.3 156.9L470.3 156.9L470.3 156.9L469.8 156.8L469.3 156.8L468.8 156.7L468.4 156.7L467.9 156.7L467.7 156.7L467.9 156.8L468.4 157.0L468.9 157.1L469.4 157.3ZM497.9 164.7L497.9 164.7L497.9 164.7L497.9 164.7L498.4 164.9L498.9 165.1L499.4 165.3L499.8 165.4L500.2 165.6L500.7 165.7L500.7 165.7L500.9 165.8L500.9 165.8L501.4 166.0L501.4 166.0L501.5 166.0L501.5 166.0L501.9 166.3L502.4 166.4L502.8 166.6L503.3 166.8L503.7 166.9L504.2 167.1L504.6 167.2L505.0 167.3L505.3 167.3L505.7 167.4L506.1 167.4L506.4 167.4L506.8 167.4L507.2 167.3L507.7 167.3L508.1 167.2L508.6 167.1L508.6 167.1L508.7 167.1L508.7 167.1L509.2 167.1L509.2 167.1L509.2 167.1L509.2 167.1L509.7 167.0L509.7 167.0L509.8 167.0L509.8 167.0L510.1 167.0L509.6 166.8L509.6 166.8L509.5 166.8L509.5 166.8L509.0 166.5L508.6 166.3L508.6 166.3L508.1 166.1L507.6 165.9L507.1 165.7L507.1 165.7L507.0 165.7L507.0 165.7L506.5 165.4L506.5 165.4L506.5 165.4L506.5 165.4L506.0 165.2L506.0 165.2L506.0 165.2L506.0 165.2L505.5 164.9L505.5 164.9L505.4 164.9L505.4 164.9L504.9 164.7L504.9 164.7L504.9 164.6L504.9 164.6L504.4 164.4L504.4 164.4L503.9 164.1L503.5 163.9L503.0 163.7L502.7 163.5L502.3 163.4L502.0 163.4L501.8 163.3L501.5 163.3L501.2 163.3L500.9 163.4L500.6 163.4L500.3 163.6L499.8 163.7L499.8 163.7L499.7 163.8L499.7 163.8L499.2 163.9L499.2 163.9L499.1 163.9L499.1 163.9L498.6 164.1L498.6 164.1L498.5 164.1L498.5 164.1L498.0 164.2L498.0 164.2L497.8 164.3L497.8 164.3L497.3 164.3L497.2 164.3L497.1 164.3L497.3 164.4L497.3 164.4L497.4 164.5L497.4 164.5L497.9 164.7ZM516.6 168.1L516.7 168.1L516.7 168.0L516.8 168.0L516.8 168.0L516.7 168.0L516.6 168.0L516.2 167.9L516.2 167.9L516.4 168.0L516.4 168.0L516.5 168.0L516.5 168.0L516.6 168.1ZM524.5 172.2L524.9 172.4L525.4 172.6L525.7 172.7L525.9 172.8L526.2 172.8L526.6 172.8L527.1 172.8L527.6 172.9L528.0 172.9L528.5 172.9L529.0 172.9L529.0 172.9L529.5 172.9L529.5 172.9L529.5 172.9L529.5 172.9L530.0 172.9L530.0 172.9L530.1 172.9L530.1 172.9L530.6 172.9L530.6 172.9L530.7 172.9L530.7 172.9L531.2 172.9L531.2 172.9L531.2 172.9L531.2 172.9L531.7 173.0L531.8 173.0L531.8 173.0L531.8 173.0L532.3 173.1L532.3 173.1L532.4 173.1L532.4 173.1L532.9 173.2L532.9 173.2L532.9 173.2L532.9 173.2L533.0 173.2L533.0 173.2L533.0 173.2L533.0 173.2L533.0 173.2L532.5 172.9L532.5 172.9L532.4 172.9L532.4 172.9L531.9 172.6L531.9 172.6L531.8 172.5L531.8 172.5L531.3 172.2L531.3 172.2L531.2 172.2L531.2 172.2L530.7 171.9L530.7 171.9L530.7 171.9L530.7 171.9L530.2 171.6L529.8 171.3L529.4 171.0L529.0 170.8L528.7 170.7L528.5 170.7L528.3 170.6L528.0 170.6L527.7 170.6L527.3 170.7L526.9 170.7L526.5 170.8L526.0 170.9L525.5 171.0L525.0 171.1L525.0 171.1L525.0 171.1L525.0 171.1L524.5 171.2L524.5 171.2L524.4 171.3L524.4 171.3L523.9 171.3L523.9 171.4L523.8 171.4L523.8 171.4L523.3 171.4L523.3 171.4L523.1 171.4L523.2 171.5L523.7 171.7L524.1 172.0L524.5 172.2ZM552.9 178.8L552.9 178.8L553.0 178.9L553.0 178.9L553.5 179.3L553.9 179.6L554.4 180.0L554.8 180.3L555.2 180.6L555.6 180.8L556.0 181.0L556.4 181.1L556.5 181.2L556.6 181.2L557.0 181.2L557.5 181.2L557.9 181.2L558.3 181.2L558.8 181.1L559.2 181.1L559.7 181.0L560.1 181.0L560.6 180.9L561.1 180.8L561.6 180.7L561.6 180.7L561.6 180.7L561.6 180.7L562.1 180.6L562.1 180.6L562.1 180.6L562.2 180.6L562.7 180.5L562.7 180.5L562.7 180.5L562.7 180.5L563.2 180.4L563.2 180.4L563.3 180.4L563.3 180.4L563.8 180.4L563.8 180.4L563.9 180.4L563.9 180.4L564.4 180.4L564.4 180.4L564.5 180.4L564.5 180.4L565.0 180.4L565.1 180.4L565.1 180.4L565.2 180.4L565.7 180.4L565.7 180.4L565.7 180.4L565.7 180.4L566.2 180.5L566.2 180.5L566.3 180.5L566.3 180.5L566.8 180.5L566.8 180.5L567.0 180.6L567.0 180.6L567.5 180.7L567.5 180.7L567.5 180.7L567.5 180.7L568.0 180.8L568.0 180.8L568.0 180.8L568.0 180.8L568.5 180.9L568.5 180.9L569.0 181.0L569.0 181.0L569.0 181.0L569.0 181.0L569.5 181.1L569.5 181.1L569.5 181.1L569.5 181.1L570.0 181.2L570.0 181.2L570.0 181.2L570.0 181.2L570.5 181.3L570.5 181.3L570.5 181.3L570.5 181.3L571.0 181.5L571.0 181.5L571.0 181.5L571.0 181.5L571.5 181.6L571.6 181.6L571.7 181.6L571.7 181.6L572.2 181.8L572.2 181.8L572.4 181.9L572.4 181.9L572.9 182.1L573.4 182.3L573.9 182.5L574.4 182.7L574.9 182.9L575.3 183.1L575.8 183.2L576.2 183.4L576.2 182.5L575.7 182.2L575.7 182.2L575.6 182.2L575.6 182.2L575.1 181.8L575.1 181.8L575.1 181.8L575.1 181.8L574.8 181.6L574.7 181.5L574.4 181.4L574.3 181.4L574.3 181.4L574.3 181.4L573.8 181.2L573.8 181.2L573.7 181.2L573.7 181.2L573.2 181.1L573.2 181.1L573.2 181.0L573.2 181.0L572.7 180.9L572.2 180.7L571.8 180.5L571.3 180.4L570.9 180.3L570.6 180.2L570.2 180.2L569.8 180.1L569.4 180.1L569.0 180.1L568.6 180.1L568.1 180.1L567.6 180.2L567.1 180.2L566.7 180.2L566.6 180.2L566.5 180.2L566.5 180.2L566.0 180.2L566.0 180.2L566.0 180.2L566.0 180.2L565.5 180.2L565.5 180.2L565.5 180.2L565.5 180.2L565.0 180.2L564.5 180.2L564.1 180.2L563.9 180.3L563.5 180.3L563.5 180.3L563.5 180.4L563.5 180.4L563.0 180.5L562.9 180.5L562.9 180.5L562.9 180.5L562.4 180.5L562.4 180.5L562.2 180.6L562.2 180.6L561.7 180.6L561.7 180.6L561.6 180.6L561.6 180.6L561.1 180.6L561.0 180.6L560.9 180.6L560.8 180.6L560.3 180.6L560.3 180.6L560.1 180.6L560.1 180.6L559.6 180.5L559.6 180.5L559.5 180.5L559.4 180.5L558.9 180.3L558.9 180.3L558.8 180.3L558.8 180.3L558.3 180.1L558.3 180.1L558.2 180.1L558.2 180.1L557.7 179.9L557.7 179.9L557.7 179.9L557.7 179.9L557.2 179.7L556.8 179.6L556.4 179.5L556.0 179.4L555.6 179.3L555.6 179.3L555.4 179.3L555.3 179.2L555.1 179.2L555.1 179.2L554.7 179.0L554.3 178.9L553.9 178.7L553.4 178.6L552.9 178.5L552.9 178.5L552.9 178.5L552.9 178.5L552.4 178.4L552.4 178.4L552.4 178.3L552.3 178.3L552.2 178.3L552.4 178.4L552.4 178.4L552.4 178.5L552.4 178.5L552.9 178.8ZM522.7 402.1L523.2 402.0L523.6 401.8L524.0 401.6L524.4 401.4L524.9 401.1L525.4 400.9L525.4 400.9L525.6 400.8L525.6 400.8L525.8 400.7L525.9 400.7L526.1 400.7L526.1 400.7L526.3 400.6L526.3 400.6L526.8 400.6L526.8 400.6L527.1 400.6L527.1 400.6L527.3 400.6L527.4 400.6L527.6 400.7L527.6 400.7L528.1 400.8L528.1 400.8L528.2 400.8L528.2 400.8L528.7 401.0L528.7 401.0L528.8 401.0L528.9 401.0L529.4 401.2L529.4 401.2L529.5 401.3L529.5 401.3L530.0 401.5L530.0 401.5L530.1 401.6L530.1 401.6L530.6 401.9L530.7 401.9L530.7 401.9L530.8 401.9L531.3 402.3L531.3 402.3L531.3 402.3L531.3 402.3L531.8 402.7L531.8 402.7L531.9 402.7L531.9 402.7L532.4 403.1L532.4 403.1L532.5 403.2L532.5 403.2L532.7 403.3L532.7 403.3L533.2 403.8L533.2 403.8L533.2 403.9L533.3 403.9L533.7 404.4L534.2 404.9L534.7 405.4L535.1 405.8L535.2 405.9L535.5 405.9L536.0 405.8L536.4 405.7L536.9 405.5L537.4 405.4L537.4 405.4L537.4 405.4L537.5 405.4L538.0 405.3L538.0 405.3L538.0 405.3L538.0 405.3L538.5 405.2L538.5 405.2L538.7 405.1L538.7 405.1L538.9 405.1L538.9 405.1L539.1 405.1L539.1 405.1L539.3 405.1L539.4 405.1L539.6 405.2L539.6 405.2L539.8 405.2L539.8 405.2L540.0 405.3L540.0 405.3L540.2 405.4L540.2 405.4L540.4 405.5L540.4 405.6L540.9 405.9L540.9 405.9L540.9 405.9L540.9 405.9L541.4 406.3L541.7 406.5L542.0 406.1L542.0 406.1L542.0 406.1L542.0 406.1L542.5 405.2L542.5 405.2L542.5 405.2L542.5 405.2L543.0 404.4L543.0 404.4L543.0 404.4L543.0 404.4L543.5 403.6L543.5 403.6L543.6 403.5L543.7 403.4L543.8 403.3L543.8 403.3L543.9 403.1L544.0 403.1L544.1 403.0L544.1 403.0L544.3 402.9L544.3 402.9L544.5 402.8L544.5 402.8L545.0 402.5L545.0 402.5L545.2 402.4L545.2 402.4L545.4 402.4L545.5 402.4L545.7 402.3L545.7 402.3L545.9 402.3L545.9 402.3L546.1 402.3L546.2 402.3L546.4 402.3L546.4 402.3L546.6 402.4L546.6 402.4L547.1 402.5L547.1 402.5L547.2 402.5L547.2 402.5L547.7 402.7L547.7 402.7L547.7 402.7L547.7 402.7L548.2 402.8L548.2 402.8L548.2 402.8L548.2 402.8L548.7 403.0L548.7 403.0L548.7 403.0L548.7 403.0L549.2 403.2L549.2 403.2L549.2 403.2L549.2 403.2L549.7 403.4L549.8 403.4L549.8 403.4L549.8 403.4L550.3 403.5L550.3 403.5L550.3 403.5L550.3 403.5L550.8 403.7L550.8 403.7L550.9 403.8L550.9 403.8L551.4 404.0L551.4 404.0L551.4 404.0L551.4 404.0L551.9 404.2L551.9 404.2L552.0 404.2L552.0 404.2L552.5 404.5L552.5 404.5L552.6 404.5L552.6 404.5L553.0 404.7L553.2 404.8L553.4 404.8L553.4 404.8L553.4 404.8L553.4 404.8L553.9 404.9L554.3 405.0L554.8 405.1L555.3 405.1L555.7 405.2L556.1 405.2L556.6 405.2L556.6 405.2L556.8 405.2L556.8 405.2L557.0 405.3L557.0 405.3L557.2 405.3L557.2 405.3L557.7 405.5L557.8 405.5L557.9 405.6L558.0 405.6L558.1 405.7L558.2 405.7L558.3 405.8L558.4 405.8L558.5 405.9L558.5 406.0L558.7 406.1L558.7 406.1L558.8 406.3L558.9 406.3L559.0 406.5L559.0 406.5L559.5 407.2L560.0 408.0L560.4 408.7L560.9 409.3L561.2 409.8L561.6 409.3L561.6 409.3L561.6 409.2L561.6 409.2L562.1 408.6L562.2 408.6L562.2 408.5L562.2 408.5L562.7 407.9L562.7 407.9L562.8 407.7L562.9 407.7L563.0 407.6L563.0 407.6L563.2 407.4L563.2 407.4L563.4 407.3L563.5 407.3L563.6 407.2L563.7 407.2L563.9 407.1L563.9 407.1L564.4 407.0L564.4 407.0L564.6 407.0L564.6 407.0L564.8 406.9L564.9 406.9L565.1 406.9L565.1 406.9L565.3 406.9L565.3 406.9L565.5 407.0L565.6 407.0L565.8 407.0L565.8 407.1L566.3 407.2L566.3 407.2L566.3 407.2L566.3 407.2L566.8 407.4L567.2 407.6L567.6 407.7L567.9 407.7L568.3 407.8L568.6 407.8L568.9 407.8L569.3 407.8L569.7 407.8L570.1 407.7L570.5 407.6L571.0 407.5L571.0 407.5L571.0 407.5L571.0 407.5L571.1 407.5L571.2 407.4L571.2 407.4L571.2 407.4L571.2 407.4L571.7 407.1L571.7 407.1L571.8 407.0L571.8 407.0L572.3 406.7L572.3 406.7L572.4 406.7L572.4 406.7L572.9 406.4L572.9 406.4L573.0 406.4L573.0 406.4L573.5 406.1L573.5 406.1L573.6 406.1L573.6 406.1L574.1 405.9L574.1 405.9L574.1 405.8L574.1 405.8L574.6 405.6L574.7 405.6L574.7 405.6L574.7 405.6L575.2 405.4L575.2 405.4L575.3 405.4L575.3 405.4L575.7 405.3L575.7 401.3L575.6 401.2L575.6 401.2L575.1 400.5L574.6 399.8L574.1 399.1L573.6 398.4L573.4 398.2L573.3 398.3L572.8 398.6L572.8 398.6L572.6 398.7L572.5 398.7L572.4 398.8L572.3 398.8L572.1 398.9L572.1 398.9L571.9 398.9L571.9 398.9L571.7 399.0L571.6 399.0L571.4 399.0L571.4 399.0L571.2 399.0L571.2 398.9L571.0 398.9L570.9 398.9L570.7 398.8L570.7 398.8L570.5 398.8L570.5 398.7L570.3 398.6L570.3 398.6L570.1 398.5L570.1 398.5L569.9 398.4L569.9 398.4L569.8 398.2L569.7 398.2L569.6 398.0L569.6 398.0L569.5 397.8L569.5 397.8L569.0 397.0L568.5 396.2L568.0 395.4L567.6 394.7L567.2 394.9L567.2 394.9L567.1 395.0L567.0 395.1L566.8 395.1L566.8 395.1L566.3 395.3L566.3 395.3L566.1 395.4L566.1 395.4L565.6 395.5L565.6 395.5L565.3 395.6L565.3 395.6L564.9 395.6L564.5 396.3L564.0 397.1L563.5 397.9L563.5 397.9L563.4 398.1L563.3 398.1L563.2 398.3L563.2 398.3L563.0 398.4L563.0 398.4L562.8 398.6L562.8 398.6L562.6 398.7L562.6 398.7L562.1 399.0L562.1 399.0L561.9 399.1L561.9 399.1L561.7 399.1L561.7 399.1L561.3 399.3L560.9 399.4L560.5 399.6L560.2 399.8L559.8 400.0L559.3 400.3L558.9 400.6L558.5 400.9L558.1 401.3L557.6 401.7L557.1 402.2L557.1 402.2L557.1 402.2L557.1 402.2L556.6 402.7L556.6 402.7L556.6 402.7L556.6 402.7L556.1 403.1L556.1 403.1L556.0 403.1L556.0 403.1L555.5 403.6L555.5 403.6L555.3 403.7L555.3 403.7L555.1 403.9L555.1 403.9L554.6 404.1L554.6 404.1L554.4 404.2L554.4 404.2L554.2 404.3L554.1 404.3L553.9 404.3L553.9 404.3L553.7 404.4L553.7 404.4L553.5 404.4L553.5 404.4L553.3 404.4L553.2 404.4L553.0 404.3L553.0 404.3L552.8 404.3L552.8 404.3L552.6 404.2L552.6 404.2L552.4 404.1L552.4 404.1L552.2 404.0L552.2 404.0L551.7 403.6L551.7 403.6L551.6 403.6L551.6 403.6L551.1 403.2L551.1 403.2L551.1 403.2L551.1 403.2L550.6 402.8L550.6 402.8L550.5 402.8L550.5 402.8L550.0 402.4L550.0 402.4L550.0 402.4L550.0 402.4L549.5 401.9L549.5 401.9L549.5 401.9L549.5 401.9L549.0 401.5L549.0 401.5L549.0 401.5L549.0 401.5L548.5 401.1L548.5 401.1L548.5 401.1L548.5 401.1L548.0 400.6L547.5 400.3L547.1 400.0L547.1 399.9L546.6 399.6L546.1 399.2L545.6 398.8L545.3 398.6L545.0 399.0L544.5 399.8L544.0 400.7L543.5 401.5L543.0 402.4L543.0 402.4L543.0 402.4L543.0 402.4L542.5 403.2L542.5 403.2L542.4 403.4L542.4 403.4L541.9 404.1L541.9 404.1L541.7 404.2L541.7 404.3L541.6 404.4L541.6 404.4L541.4 404.5L541.4 404.6L541.2 404.7L541.2 404.7L541.0 404.8L541.0 404.8L540.8 404.9L540.8 404.9L540.6 404.9L540.6 404.9L540.4 405.0L540.4 405.0L540.2 405.0L540.2 405.0L539.7 405.1L539.7 405.1L539.5 405.1L539.5 405.1L539.0 405.1L539.0 405.1L538.8 405.0L538.8 405.0L538.3 405.0L538.3 405.0L538.1 405.0L538.1 405.0L537.6 404.9L537.6 404.9L537.4 404.9L537.4 404.9L536.9 404.7L536.9 404.7L536.8 404.7L536.8 404.7L536.3 404.5L536.3 404.5L536.2 404.5L536.2 404.5L535.7 404.3L535.7 404.3L535.6 404.3L535.6 404.3L535.1 404.1L535.1 404.1L534.9 404.0L534.9 404.0L534.7 403.9L534.7 403.8L534.5 403.7L534.5 403.7L534.0 403.3L534.0 403.3L533.8 403.1L533.8 403.1L533.7 403.0L533.7 403.0L533.6 402.8L533.5 402.8L533.1 402.0L532.6 401.3L532.1 400.7L531.6 400.0L531.2 399.5L530.7 398.9L530.3 398.4L529.9 398.0L529.7 397.9L529.5 397.7L529.0 397.5L528.5 397.3L528.5 397.3L528.5 397.3L528.5 397.3L528.0 397.1L528.0 397.1L528.0 397.0L528.0 397.0L527.6 396.9L527.5 396.9L527.5 396.9L527.4 397.0L527.4 397.0L526.9 397.4L526.9 397.4L526.9 397.4L526.9 397.4L526.4 397.8L526.4 397.8L526.4 397.8L526.3 397.8L525.8 398.1L525.8 398.1L525.8 398.1L525.8 398.1L525.3 398.5L525.3 398.5L525.3 398.5L525.3 398.5L524.8 398.8L524.8 398.8L524.6 399.0L524.6 399.0L524.4 399.1L524.4 399.1L523.9 399.3L523.9 399.3L523.7 399.3L523.7 399.3L523.2 399.5L522.7 399.6L522.2 399.8L522.2 399.8L522.2 399.8L522.2 399.8L521.7 400.0L521.7 400.0L521.7 400.0L521.7 400.0L521.3 400.1L521.3 402.5L521.4 402.5L521.9 402.4L522.3 402.3L522.7 402.1ZM70.9 39.3a2.45 2.45 0 1 0 4.90 0a2.45 2.45 0 1 0 -4.90 0M68.9 41.5a2.45 2.45 0 1 0 4.90 0a2.45 2.45 0 1 0 -4.90 0M65.6 43.2a2.45 2.45 0 1 0 4.90 0a2.45 2.45 0 1 0 -4.90 0M62.4 45.2a2.45 2.45 0 1 0 4.90 0a2.45 2.45 0 1 0 -4.90 0M60.4 48.3a2.45 2.45 0 1 0 4.90 0a2.45 2.45 0 1 0 -4.90 0M62.3 50.7a2.45 2.45 0 1 0 4.90 0a2.45 2.45 0 1 0 -4.90 0M61.0 54.8a2.45 2.45 0 1 0 4.90 0a2.45 2.45 0 1 0 -4.90 0M65.0 55.6a2.45 2.45 0 1 0 4.90 0a2.45 2.45 0 1 0 -4.90 0M68.5 57.0a2.45 2.45 0 1 0 4.90 0a2.45 2.45 0 1 0 -4.90 0M71.6 57.6a2.45 2.45 0 1 0 4.90 0a2.45 2.45 0 1 0 -4.90 0M75.3 57.3a2.45 2.45 0 1 0 4.90 0a2.45 2.45 0 1 0 -4.90 0M78.8 56.8a2.45 2.45 0 1 0 4.90 0a2.45 2.45 0 1 0 -4.90 0M81.5 54.7a2.45 2.45 0 1 0 4.90 0a2.45 2.45 0 1 0 -4.90 0M80.1 52.7a2.45 2.45 0 1 0 4.90 0a2.45 2.45 0 1 0 -4.90 0M76.4 52.4a2.45 2.45 0 1 0 4.90 0a2.45 2.45 0 1 0 -4.90 0M72.9 52.0a2.45 2.45 0 1 0 4.90 0a2.45 2.45 0 1 0 -4.90 0M68.2 51.4a2.45 2.45 0 1 0 4.90 0a2.45 2.45 0 1 0 -4.90 0M68.4 46.6a2.45 2.45 0 1 0 4.90 0a2.45 2.45 0 1 0 -4.90 0M71.6 44.3a2.45 2.45 0 1 0 4.90 0a2.45 2.45 0 1 0 -4.90 0M70.2 41.0a2.45 2.45 0 1 0 4.90 0a2.45 2.45 0 1 0 -4.90 0M81.0 61.3a2.45 2.45 0 1 0 4.90 0a2.45 2.45 0 1 0 -4.90 0M86.0 63.3a2.45 2.45 0 1 0 4.90 0a2.45 2.45 0 1 0 -4.90 0M91.1 63.8a2.45 2.45 0 1 0 4.90 0a2.45 2.45 0 1 0 -4.90 0M94.0 63.5a2.45 2.45 0 1 0 4.90 0a2.45 2.45 0 1 0 -4.90 0M94.4 66.2a2.45 2.45 0 1 0 4.90 0a2.45 2.45 0 1 0 -4.90 0M96.1 68.9a2.45 2.45 0 1 0 4.90 0a2.45 2.45 0 1 0 -4.90 0M99.3 68.2a2.45 2.45 0 1 0 4.90 0a2.45 2.45 0 1 0 -4.90 0M102.7 66.4a2.45 2.45 0 1 0 4.90 0a2.45 2.45 0 1 0 -4.90 0M106.5 67.6a2.45 2.45 0 1 0 4.90 0a2.45 2.45 0 1 0 -4.90 0M108.4 70.8a2.45 2.45 0 1 0 4.90 0a2.45 2.45 0 1 0 -4.90 0M110.0 74.1a2.45 2.45 0 1 0 4.90 0a2.45 2.45 0 1 0 -4.90 0M112.5 76.8a2.45 2.45 0 1 0 4.90 0a2.45 2.45 0 1 0 -4.90 0M116.1 77.4a2.45 2.45 0 1 0 4.90 0a2.45 2.45 0 1 0 -4.90 0M119.4 79.0a2.45 2.45 0 1 0 4.90 0a2.45 2.45 0 1 0 -4.90 0M122.8 80.0a2.45 2.45 0 1 0 4.90 0a2.45 2.45 0 1 0 -4.90 0M125.6 82.8a2.45 2.45 0 1 0 4.90 0a2.45 2.45 0 1 0 -4.90 0M129.8 82.5a2.45 2.45 0 1 0 4.90 0a2.45 2.45 0 1 0 -4.90 0M132.5 84.6a2.45 2.45 0 1 0 4.90 0a2.45 2.45 0 1 0 -4.90 0M136.3 83.9a2.45 2.45 0 1 0 4.90 0a2.45 2.45 0 1 0 -4.90 0M139.7 85.7a2.45 2.45 0 1 0 4.90 0a2.45 2.45 0 1 0 -4.90 0M143.0 87.2a2.45 2.45 0 1 0 4.90 0a2.45 2.45 0 1 0 -4.90 0M146.0 86.6a2.45 2.45 0 1 0 4.90 0a2.45 2.45 0 1 0 -4.90 0M150.1 86.9a2.45 2.45 0 1 0 4.90 0a2.45 2.45 0 1 0 -4.90 0M153.2 89.1a2.45 2.45 0 1 0 4.90 0a2.45 2.45 0 1 0 -4.90 0M155.4 92.3a2.45 2.45 0 1 0 4.90 0a2.45 2.45 0 1 0 -4.90 0M159.2 92.0a2.45 2.45 0 1 0 4.90 0a2.45 2.45 0 1 0 -4.90 0M162.5 93.7a2.45 2.45 0 1 0 4.90 0a2.45 2.45 0 1 0 -4.90 0M165.0 96.3a2.45 2.45 0 1 0 4.90 0a2.45 2.45 0 1 0 -4.90 0M168.7 97.7a2.45 2.45 0 1 0 4.90 0a2.45 2.45 0 1 0 -4.90 0M172.3 96.8a2.45 2.45 0 1 0 4.90 0a2.45 2.45 0 1 0 -4.90 0M175.9 97.5a2.45 2.45 0 1 0 4.90 0a2.45 2.45 0 1 0 -4.90 0M179.6 96.5a2.45 2.45 0 1 0 4.90 0a2.45 2.45 0 1 0 -4.90 0M182.9 98.6a2.45 2.45 0 1 0 4.90 0a2.45 2.45 0 1 0 -4.90 0M186.2 99.8a2.45 2.45 0 1 0 4.90 0a2.45 2.45 0 1 0 -4.90 0M190.6 99.1a2.45 2.45 0 1 0 4.90 0a2.45 2.45 0 1 0 -4.90 0M192.9 102.3a2.45 2.45 0 1 0 4.90 0a2.45 2.45 0 1 0 -4.90 0M196.6 101.9a2.45 2.45 0 1 0 4.90 0a2.45 2.45 0 1 0 -4.90 0M200.0 103.3a2.45 2.45 0 1 0 4.90 0a2.45 2.45 0 1 0 -4.90 0M203.6 102.9a2.45 2.45 0 1 0 4.90 0a2.45 2.45 0 1 0 -4.90 0M207.2 103.0a2.45 2.45 0 1 0 4.90 0a2.45 2.45 0 1 0 -4.90 0M210.5 102.8a2.45 2.45 0 1 0 4.90 0a2.45 2.45 0 1 0 -4.90 0M214.3 104.0a2.45 2.45 0 1 0 4.90 0a2.45 2.45 0 1 0 -4.90 0M217.6 101.5a2.45 2.45 0 1 0 4.90 0a2.45 2.45 0 1 0 -4.90 0M221.5 101.1a2.45 2.45 0 1 0 4.90 0a2.45 2.45 0 1 0 -4.90 0M224.9 103.0a2.45 2.45 0 1 0 4.90 0a2.45 2.45 0 1 0 -4.90 0M228.1 104.7a2.45 2.45 0 1 0 4.90 0a2.45 2.45 0 1 0 -4.90 0M231.2 106.7a2.45 2.45 0 1 0 4.90 0a2.45 2.45 0 1 0 -4.90 0M234.9 107.6a2.45 2.45 0 1 0 4.90 0a2.45 2.45 0 1 0 -4.90 0M238.4 106.8a2.45 2.45 0 1 0 4.90 0a2.45 2.45 0 1 0 -4.90 0M242.4 105.9a2.45 2.45 0 1 0 4.90 0a2.45 2.45 0 1 0 -4.90 0M245.3 108.8a2.45 2.45 0 1 0 4.90 0a2.45 2.45 0 1 0 -4.90 0M249.0 106.7a2.45 2.45 0 1 0 4.90 0a2.45 2.45 0 1 0 -4.90 0M252.7 106.9a2.45 2.45 0 1 0 4.90 0a2.45 2.45 0 1 0 -4.90 0M255.9 109.4a2.45 2.45 0 1 0 4.90 0a2.45 2.45 0 1 0 -4.90 0M259.9 109.6a2.45 2.45 0 1 0 4.90 0a2.45 2.45 0 1 0 -4.90 0M262.5 106.6a2.45 2.45 0 1 0 4.90 0a2.45 2.45 0 1 0 -4.90 0M266.5 106.1a2.45 2.45 0 1 0 4.90 0a2.45 2.45 0 1 0 -4.90 0M269.8 108.0a2.45 2.45 0 1 0 4.90 0a2.45 2.45 0 1 0 -4.90 0M273.5 108.8a2.45 2.45 0 1 0 4.90 0a2.45 2.45 0 1 0 -4.90 0M276.1 111.6a2.45 2.45 0 1 0 4.90 0a2.45 2.45 0 1 0 -4.90 0M279.6 112.4a2.45 2.45 0 1 0 4.90 0a2.45 2.45 0 1 0 -4.90 0M282.3 114.8a2.45 2.45 0 1 0 4.90 0a2.45 2.45 0 1 0 -4.90 0M286.0 115.8a2.45 2.45 0 1 0 4.90 0a2.45 2.45 0 1 0 -4.90 0M288.9 118.0a2.45 2.45 0 1 0 4.90 0a2.45 2.45 0 1 0 -4.90 0M292.6 116.9a2.45 2.45 0 1 0 4.90 0a2.45 2.45 0 1 0 -4.90 0M295.8 114.6a2.45 2.45 0 1 0 4.90 0a2.45 2.45 0 1 0 -4.90 0M299.3 116.3a2.45 2.45 0 1 0 4.90 0a2.45 2.45 0 1 0 -4.90 0M302.7 116.4a2.45 2.45 0 1 0 4.90 0a2.45 2.45 0 1 0 -4.90 0M306.5 117.1a2.45 2.45 0 1 0 4.90 0a2.45 2.45 0 1 0 -4.90 0M309.5 118.7a2.45 2.45 0 1 0 4.90 0a2.45 2.45 0 1 0 -4.90 0M313.0 119.6a2.45 2.45 0 1 0 4.90 0a2.45 2.45 0 1 0 -4.90 0M316.9 119.1a2.45 2.45 0 1 0 4.90 0a2.45 2.45 0 1 0 -4.90 0M319.6 122.0a2.45 2.45 0 1 0 4.90 0a2.45 2.45 0 1 0 -4.90 0M323.4 122.0a2.45 2.45 0 1 0 4.90 0a2.45 2.45 0 1 0 -4.90 0M327.0 121.9a2.45 2.45 0 1 0 4.90 0a2.45 2.45 0 1 0 -4.90 0M330.6 122.6a2.45 2.45 0 1 0 4.90 0a2.45 2.45 0 1 0 -4.90 0M333.9 122.9a2.45 2.45 0 1 0 4.90 0a2.45 2.45 0 1 0 -4.90 0M337.3 121.9a2.45 2.45 0 1 0 4.90 0a2.45 2.45 0 1 0 -4.90 0M340.5 120.0a2.45 2.45 0 1 0 4.90 0a2.45 2.45 0 1 0 -4.90 0M344.3 121.0a2.45 2.45 0 1 0 4.90 0a2.45 2.45 0 1 0 -4.90 0M347.8 121.7a2.45 2.45 0 1 0 4.90 0a2.45 2.45 0 1 0 -4.90 0M351.4 122.2a2.45 2.45 0 1 0 4.90 0a2.45 2.45 0 1 0 -4.90 0M355.0 121.6a2.45 2.45 0 1 0 4.90 0a2.45 2.45 0 1 0 -4.90 0M358.6 122.4a2.45 2.45 0 1 0 4.90 0a2.45 2.45 0 1 0 -4.90 0M362.3 122.7a2.45 2.45 0 1 0 4.90 0a2.45 2.45 0 1 0 -4.90 0M365.1 126.0a2.45 2.45 0 1 0 4.90 0a2.45 2.45 0 1 0 -4.90 0M369.1 124.4a2.45 2.45 0 1 0 4.90 0a2.45 2.45 0 1 0 -4.90 0M367.1 125.9a2.45 2.45 0 1 0 4.90 0a2.45 2.45 0 1 0 -4.90 0M364.6 123.4a2.45 2.45 0 1 0 4.90 0a2.45 2.45 0 1 0 -4.90 0M360.8 123.4a2.45 2.45 0 1 0 4.90 0a2.45 2.45 0 1 0 -4.90 0M357.4 122.2a2.45 2.45 0 1 0 4.90 0a2.45 2.45 0 1 0 -4.90 0M354.2 120.5a2.45 2.45 0 1 0 4.90 0a2.45 2.45 0 1 0 -4.90 0M351.2 118.4a2.45 2.45 0 1 0 4.90 0a2.45 2.45 0 1 0 -4.90 0M347.5 118.3a2.45 2.45 0 1 0 4.90 0a2.45 2.45 0 1 0 -4.90 0M344.7 118.3a2.45 2.45 0 1 0 4.90 0a2.45 2.45 0 1 0 -4.90 0M340.6 118.6a2.45 2.45 0 1 0 4.90 0a2.45 2.45 0 1 0 -4.90 0M337.7 120.7a2.45 2.45 0 1 0 4.90 0a2.45 2.45 0 1 0 -4.90 0M334.1 119.3a2.45 2.45 0 1 0 4.90 0a2.45 2.45 0 1 0 -4.90 0M330.4 121.1a2.45 2.45 0 1 0 4.90 0a2.45 2.45 0 1 0 -4.90 0M326.9 120.5a2.45 2.45 0 1 0 4.90 0a2.45 2.45 0 1 0 -4.90 0M323.3 118.6a2.45 2.45 0 1 0 4.90 0a2.45 2.45 0 1 0 -4.90 0M319.6 120.1a2.45 2.45 0 1 0 4.90 0a2.45 2.45 0 1 0 -4.90 0M316.0 118.9a2.45 2.45 0 1 0 4.90 0a2.45 2.45 0 1 0 -4.90 0M313.4 115.9a2.45 2.45 0 1 0 4.90 0a2.45 2.45 0 1 0 -4.90 0M309.7 115.8a2.45 2.45 0 1 0 4.90 0a2.45 2.45 0 1 0 -4.90 0M306.0 116.0a2.45 2.45 0 1 0 4.90 0a2.45 2.45 0 1 0 -4.90 0M302.7 114.2a2.45 2.45 0 1 0 4.90 0a2.45 2.45 0 1 0 -4.90 0M299.3 113.0a2.45 2.45 0 1 0 4.90 0a2.45 2.45 0 1 0 -4.90 0M295.8 112.8a2.45 2.45 0 1 0 4.90 0a2.45 2.45 0 1 0 -4.90 0M292.5 111.6a2.45 2.45 0 1 0 4.90 0a2.45 2.45 0 1 0 -4.90 0M289.2 111.8a2.45 2.45 0 1 0 4.90 0a2.45 2.45 0 1 0 -4.90 0M285.5 111.4a2.45 2.45 0 1 0 4.90 0a2.45 2.45 0 1 0 -4.90 0M282.9 110.1a2.45 2.45 0 1 0 4.90 0a2.45 2.45 0 1 0 -4.90 0M278.9 109.5a2.45 2.45 0 1 0 4.90 0a2.45 2.45 0 1 0 -4.90 0M276.1 107.9a2.45 2.45 0 1 0 4.90 0a2.45 2.45 0 1 0 -4.90 0M272.6 107.7a2.45 2.45 0 1 0 4.90 0a2.45 2.45 0 1 0 -4.90 0M269.1 106.3a2.45 2.45 0 1 0 4.90 0a2.45 2.45 0 1 0 -4.90 0M265.7 104.9a2.45 2.45 0 1 0 4.90 0a2.45 2.45 0 1 0 -4.90 0M262.7 104.7a2.45 2.45 0 1 0 4.90 0a2.45 2.45 0 1 0 -4.90 0M258.9 106.0a2.45 2.45 0 1 0 4.90 0a2.45 2.45 0 1 0 -4.90 0M255.7 103.9a2.45 2.45 0 1 0 4.90 0a2.45 2.45 0 1 0 -4.90 0M252.3 105.0a2.45 2.45 0 1 0 4.90 0a2.45 2.45 0 1 0 -4.90 0M248.6 105.2a2.45 2.45 0 1 0 4.90 0a2.45 2.45 0 1 0 -4.90 0M244.9 105.2a2.45 2.45 0 1 0 4.90 0a2.45 2.45 0 1 0 -4.90 0M241.8 103.2a2.45 2.45 0 1 0 4.90 0a2.45 2.45 0 1 0 -4.90 0M238.3 101.5a2.45 2.45 0 1 0 4.90 0a2.45 2.45 0 1 0 -4.90 0M234.6 101.9a2.45 2.45 0 1 0 4.90 0a2.45 2.45 0 1 0 -4.90 0M231.1 102.3a2.45 2.45 0 1 0 4.90 0a2.45 2.45 0 1 0 -4.90 0M227.3 103.7a2.45 2.45 0 1 0 4.90 0a2.45 2.45 0 1 0 -4.90 0M223.7 102.5a2.45 2.45 0 1 0 4.90 0a2.45 2.45 0 1 0 -4.90 0M220.3 101.1a2.45 2.45 0 1 0 4.90 0a2.45 2.45 0 1 0 -4.90 0M217.2 99.6a2.45 2.45 0 1 0 4.90 0a2.45 2.45 0 1 0 -4.90 0M213.6 98.5a2.45 2.45 0 1 0 4.90 0a2.45 2.45 0 1 0 -4.90 0M210.0 99.1a2.45 2.45 0 1 0 4.90 0a2.45 2.45 0 1 0 -4.90 0M206.0 98.4a2.45 2.45 0 1 0 4.90 0a2.45 2.45 0 1 0 -4.90 0M203.5 96.6a2.45 2.45 0 1 0 4.90 0a2.45 2.45 0 1 0 -4.90 0M199.9 97.2a2.45 2.45 0 1 0 4.90 0a2.45 2.45 0 1 0 -4.90 0M196.4 96.1a2.45 2.45 0 1 0 4.90 0a2.45 2.45 0 1 0 -4.90 0M193.2 94.2a2.45 2.45 0 1 0 4.90 0a2.45 2.45 0 1 0 -4.90 0M189.4 94.6a2.45 2.45 0 1 0 4.90 0a2.45 2.45 0 1 0 -4.90 0M186.0 94.4a2.45 2.45 0 1 0 4.90 0a2.45 2.45 0 1 0 -4.90 0M182.5 95.2a2.45 2.45 0 1 0 4.90 0a2.45 2.45 0 1 0 -4.90 0M179.0 95.0a2.45 2.45 0 1 0 4.90 0a2.45 2.45 0 1 0 -4.90 0M175.0 94.7a2.45 2.45 0 1 0 4.90 0a2.45 2.45 0 1 0 -4.90 0M173.6 91.1a2.45 2.45 0 1 0 4.90 0a2.45 2.45 0 1 0 -4.90 0M170.3 91.1a2.45 2.45 0 1 0 4.90 0a2.45 2.45 0 1 0 -4.90 0M167.0 89.5a2.45 2.45 0 1 0 4.90 0a2.45 2.45 0 1 0 -4.90 0M162.9 88.9a2.45 2.45 0 1 0 4.90 0a2.45 2.45 0 1 0 -4.90 0M161.3 85.5a2.45 2.45 0 1 0 4.90 0a2.45 2.45 0 1 0 -4.90 0M158.1 84.8a2.45 2.45 0 1 0 4.90 0a2.45 2.45 0 1 0 -4.90 0M154.3 85.5a2.45 2.45 0 1 0 4.90 0a2.45 2.45 0 1 0 -4.90 0M151.2 84.4a2.45 2.45 0 1 0 4.90 0a2.45 2.45 0 1 0 -4.90 0M147.3 84.9a2.45 2.45 0 1 0 4.90 0a2.45 2.45 0 1 0 -4.90 0M143.9 83.2a2.45 2.45 0 1 0 4.90 0a2.45 2.45 0 1 0 -4.90 0M139.9 84.1a2.45 2.45 0 1 0 4.90 0a2.45 2.45 0 1 0 -4.90 0M137.9 80.4a2.45 2.45 0 1 0 4.90 0a2.45 2.45 0 1 0 -4.90 0M134.2 81.1a2.45 2.45 0 1 0 4.90 0a2.45 2.45 0 1 0 -4.90 0M130.6 79.5a2.45 2.45 0 1 0 4.90 0a2.45 2.45 0 1 0 -4.90 0M127.8 77.4a2.45 2.45 0 1 0 4.90 0a2.45 2.45 0 1 0 -4.90 0M124.0 76.7a2.45 2.45 0 1 0 4.90 0a2.45 2.45 0 1 0 -4.90 0M121.3 74.2a2.45 2.45 0 1 0 4.90 0a2.45 2.45 0 1 0 -4.90 0M117.8 72.7a2.45 2.45 0 1 0 4.90 0a2.45 2.45 0 1 0 -4.90 0M116.2 69.1a2.45 2.45 0 1 0 4.90 0a2.45 2.45 0 1 0 -4.90 0M112.6 68.7a2.45 2.45 0 1 0 4.90 0a2.45 2.45 0 1 0 -4.90 0M109.4 67.6a2.45 2.45 0 1 0 4.90 0a2.45 2.45 0 1 0 -4.90 0M106.2 65.3a2.45 2.45 0 1 0 4.90 0a2.45 2.45 0 1 0 -4.90 0M103.1 63.8a2.45 2.45 0 1 0 4.90 0a2.45 2.45 0 1 0 -4.90 0M99.7 63.1a2.45 2.45 0 1 0 4.90 0a2.45 2.45 0 1 0 -4.90 0M96.3 63.7a2.45 2.45 0 1 0 4.90 0a2.45 2.45 0 1 0 -4.90 0M376.2 128.9a2.45 2.45 0 1 0 4.90 0a2.45 2.45 0 1 0 -4.90 0M380.1 128.2a2.45 2.45 0 1 0 4.90 0a2.45 2.45 0 1 0 -4.90 0M383.2 130.9a2.45 2.45 0 1 0 4.90 0a2.45 2.45 0 1 0 -4.90 0M387.3 131.5a2.45 2.45 0 1 0 4.90 0a2.45 2.45 0 1 0 -4.90 0M389.2 133.7a2.45 2.45 0 1 0 4.90 0a2.45 2.45 0 1 0 -4.90 0M391.7 134.3a2.45 2.45 0 1 0 4.90 0a2.45 2.45 0 1 0 -4.90 0M388.5 132.7a2.45 2.45 0 1 0 4.90 0a2.45 2.45 0 1 0 -4.90 0M385.8 130.6a2.45 2.45 0 1 0 4.90 0a2.45 2.45 0 1 0 -4.90 0M383.7 127.8a2.45 2.45 0 1 0 4.90 0a2.45 2.45 0 1 0 -4.90 0M380.2 128.5a2.45 2.45 0 1 0 4.90 0a2.45 2.45 0 1 0 -4.90 0M415.2 141.3a2.45 2.45 0 1 0 4.90 0a2.45 2.45 0 1 0 -4.90 0M418.8 142.6a2.45 2.45 0 1 0 4.90 0a2.45 2.45 0 1 0 -4.90 0M421.6 144.5a2.45 2.45 0 1 0 4.90 0a2.45 2.45 0 1 0 -4.90 0M424.1 145.2a2.45 2.45 0 1 0 4.90 0a2.45 2.45 0 1 0 -4.90 0M422.0 141.9a2.45 2.45 0 1 0 4.90 0a2.45 2.45 0 1 0 -4.90 0M418.3 142.9a2.45 2.45 0 1 0 4.90 0a2.45 2.45 0 1 0 -4.90 0M444.4 147.1a2.45 2.45 0 1 0 4.90 0a2.45 2.45 0 1 0 -4.90 0M446.8 150.9a2.45 2.45 0 1 0 4.90 0a2.45 2.45 0 1 0 -4.90 0M450.7 151.8a2.45 2.45 0 1 0 4.90 0a2.45 2.45 0 1 0 -4.90 0M449.2 152.7a2.45 2.45 0 1 0 4.90 0a2.45 2.45 0 1 0 -4.90 0M446.6 149.8a2.45 2.45 0 1 0 4.90 0a2.45 2.45 0 1 0 -4.90 0M464.1 155.2a2.45 2.45 0 1 0 4.90 0a2.45 2.45 0 1 0 -4.90 0M466.9 157.3a2.45 2.45 0 1 0 4.90 0a2.45 2.45 0 1 0 -4.90 0M470.2 158.3a2.45 2.45 0 1 0 4.90 0a2.45 2.45 0 1 0 -4.90 0M473.6 159.3a2.45 2.45 0 1 0 4.90 0a2.45 2.45 0 1 0 -4.90 0M476.9 158.3a2.45 2.45 0 1 0 4.90 0a2.45 2.45 0 1 0 -4.90 0M480.9 158.5a2.45 2.45 0 1 0 4.90 0a2.45 2.45 0 1 0 -4.90 0M483.6 161.6a2.45 2.45 0 1 0 4.90 0a2.45 2.45 0 1 0 -4.90 0M487.6 160.7a2.45 2.45 0 1 0 4.90 0a2.45 2.45 0 1 0 -4.90 0M487.2 161.1a2.45 2.45 0 1 0 4.90 0a2.45 2.45 0 1 0 -4.90 0M483.9 159.7a2.45 2.45 0 1 0 4.90 0a2.45 2.45 0 1 0 -4.90 0M477.3 158.0a2.45 2.45 0 1 0 4.90 0a2.45 2.45 0 1 0 -4.90 0M474.1 156.6a2.45 2.45 0 1 0 4.90 0a2.45 2.45 0 1 0 -4.90 0M470.5 156.3a2.45 2.45 0 1 0 4.90 0a2.45 2.45 0 1 0 -4.90 0M467.1 155.7a2.45 2.45 0 1 0 4.90 0a2.45 2.45 0 1 0 -4.90 0M489.2 163.0a2.45 2.45 0 1 0 4.90 0a2.45 2.45 0 1 0 -4.90 0M492.8 163.0a2.45 2.45 0 1 0 4.90 0a2.45 2.45 0 1 0 -4.90 0M495.5 166.0a2.45 2.45 0 1 0 4.90 0a2.45 2.45 0 1 0 -4.90 0M499.2 166.2a2.45 2.45 0 1 0 4.90 0a2.45 2.45 0 1 0 -4.90 0M502.5 167.0a2.45 2.45 0 1 0 4.90 0a2.45 2.45 0 1 0 -4.90 0M506.1 168.3a2.45 2.45 0 1 0 4.90 0a2.45 2.45 0 1 0 -4.90 0M509.3 167.0a2.45 2.45 0 1 0 4.90 0a2.45 2.45 0 1 0 -4.90 0M505.4 167.2a2.45 2.45 0 1 0 4.90 0a2.45 2.45 0 1 0 -4.90 0M502.1 165.9a2.45 2.45 0 1 0 4.90 0a2.45 2.45 0 1 0 -4.90 0M499.4 164.3a2.45 2.45 0 1 0 4.90 0a2.45 2.45 0 1 0 -4.90 0M496.1 163.2a2.45 2.45 0 1 0 4.90 0a2.45 2.45 0 1 0 -4.90 0M492.5 164.8a2.45 2.45 0 1 0 4.90 0a2.45 2.45 0 1 0 -4.90 0M511.6 167.4a2.45 2.45 0 1 0 4.90 0a2.45 2.45 0 1 0 -4.90 0M513.7 168.8a2.45 2.45 0 1 0 4.90 0a2.45 2.45 0 1 0 -4.90 0M514.0 167.9a2.45 2.45 0 1 0 4.90 0a2.45 2.45 0 1 0 -4.90 0M520.3 169.8a2.45 2.45 0 1 0 4.90 0a2.45 2.45 0 1 0 -4.90 0M523.2 171.6a2.45 2.45 0 1 0 4.90 0a2.45 2.45 0 1 0 -4.90 0M526.5 173.1a2.45 2.45 0 1 0 4.90 0a2.45 2.45 0 1 0 -4.90 0M530.1 174.3a2.45 2.45 0 1 0 4.90 0a2.45 2.45 0 1 0 -4.90 0M533.3 175.3a2.45 2.45 0 1 0 4.90 0a2.45 2.45 0 1 0 -4.90 0M529.3 174.0a2.45 2.45 0 1 0 4.90 0a2.45 2.45 0 1 0 -4.90 0M526.7 171.0a2.45 2.45 0 1 0 4.90 0a2.45 2.45 0 1 0 -4.90 0M523.1 170.3a2.45 2.45 0 1 0 4.90 0a2.45 2.45 0 1 0 -4.90 0M540.2 175.0a2.45 2.45 0 1 0 4.90 0a2.45 2.45 0 1 0 -4.90 0M543.5 175.8a2.45 2.45 0 1 0 4.90 0a2.45 2.45 0 1 0 -4.90 0M547.1 176.9a2.45 2.45 0 1 0 4.90 0a2.45 2.45 0 1 0 -4.90 0M550.1 179.0a2.45 2.45 0 1 0 4.90 0a2.45 2.45 0 1 0 -4.90 0M552.9 181.4a2.45 2.45 0 1 0 4.90 0a2.45 2.45 0 1 0 -4.90 0M556.6 181.6a2.45 2.45 0 1 0 4.90 0a2.45 2.45 0 1 0 -4.90 0M560.3 181.7a2.45 2.45 0 1 0 4.90 0a2.45 2.45 0 1 0 -4.90 0M563.8 181.1a2.45 2.45 0 1 0 4.90 0a2.45 2.45 0 1 0 -4.90 0M567.7 180.1a2.45 2.45 0 1 0 4.90 0a2.45 2.45 0 1 0 -4.90 0M570.5 183.5a2.45 2.45 0 1 0 4.90 0a2.45 2.45 0 1 0 -4.90 0M573.1 183.5a2.45 2.45 0 1 0 4.90 0a2.45 2.45 0 1 0 -4.90 0M571.5 182.1a2.45 2.45 0 1 0 4.90 0a2.45 2.45 0 1 0 -4.90 0M568.4 180.0a2.45 2.45 0 1 0 4.90 0a2.45 2.45 0 1 0 -4.90 0M564.8 180.4a2.45 2.45 0 1 0 4.90 0a2.45 2.45 0 1 0 -4.90 0M561.0 179.6a2.45 2.45 0 1 0 4.90 0a2.45 2.45 0 1 0 -4.90 0M557.4 181.0a2.45 2.45 0 1 0 4.90 0a2.45 2.45 0 1 0 -4.90 0M553.8 180.0a2.45 2.45 0 1 0 4.90 0a2.45 2.45 0 1 0 -4.90 0M546.9 177.3a2.45 2.45 0 1 0 4.90 0a2.45 2.45 0 1 0 -4.90 0M543.3 177.6a2.45 2.45 0 1 0 4.90 0a2.45 2.45 0 1 0 -4.90 0M90.5 64.1a2.45 2.45 0 1 0 4.90 0a2.45 2.45 0 1 0 -4.90 0M224.1 102.4a2.45 2.45 0 1 0 4.90 0a2.45 2.45 0 1 0 -4.90 0M225.6 102.9a2.45 2.45 0 1 0 4.90 0a2.45 2.45 0 1 0 -4.90 0M267.6 106.0a2.45 2.45 0 1 0 4.90 0a2.45 2.45 0 1 0 -4.90 0M332.1 121.0a2.45 2.45 0 1 0 4.90 0a2.45 2.45 0 1 0 -4.90 0M333.6 121.2a2.45 2.45 0 1 0 4.90 0a2.45 2.45 0 1 0 -4.90 0M339.6 120.8a2.45 2.45 0 1 0 4.90 0a2.45 2.45 0 1 0 -4.90 0M356.1 121.3a2.45 2.45 0 1 0 4.90 0a2.45 2.45 0 1 0 -4.90 0M359.1 122.3a2.45 2.45 0 1 0 4.90 0a2.45 2.45 0 1 0 -4.90 0M360.6 122.9a2.45 2.45 0 1 0 4.90 0a2.45 2.45 0 1 0 -4.90 0M362.1 123.5a2.45 2.45 0 1 0 4.90 0a2.45 2.45 0 1 0 -4.90 0M363.6 124.0a2.45 2.45 0 1 0 4.90 0a2.45 2.45 0 1 0 -4.90 0M365.1 124.3a2.45 2.45 0 1 0 4.90 0a2.45 2.45 0 1 0 -4.90 0M366.6 124.6a2.45 2.45 0 1 0 4.90 0a2.45 2.45 0 1 0 -4.90 0M368.1 125.0a2.45 2.45 0 1 0 4.90 0a2.45 2.45 0 1 0 -4.90 0M369.6 125.6a2.45 2.45 0 1 0 4.90 0a2.45 2.45 0 1 0 -4.90 0M371.1 126.3a2.45 2.45 0 1 0 4.90 0a2.45 2.45 0 1 0 -4.90 0M372.6 126.9a2.45 2.45 0 1 0 4.90 0a2.45 2.45 0 1 0 -4.90 0M374.1 127.3a2.45 2.45 0 1 0 4.90 0a2.45 2.45 0 1 0 -4.90 0M375.6 128.1a2.45 2.45 0 1 0 4.90 0a2.45 2.45 0 1 0 -4.90 0M377.1 128.7a2.45 2.45 0 1 0 4.90 0a2.45 2.45 0 1 0 -4.90 0M378.6 128.8a2.45 2.45 0 1 0 4.90 0a2.45 2.45 0 1 0 -4.90 0M380.1 128.8a2.45 2.45 0 1 0 4.90 0a2.45 2.45 0 1 0 -4.90 0M389.1 133.8a2.45 2.45 0 1 0 4.90 0a2.45 2.45 0 1 0 -4.90 0M390.6 134.0a2.45 2.45 0 1 0 4.90 0a2.45 2.45 0 1 0 -4.90 0M392.1 134.1a2.45 2.45 0 1 0 4.90 0a2.45 2.45 0 1 0 -4.90 0M393.6 134.5a2.45 2.45 0 1 0 4.90 0a2.45 2.45 0 1 0 -4.90 0M395.1 135.0a2.45 2.45 0 1 0 4.90 0a2.45 2.45 0 1 0 -4.90 0M396.6 135.6a2.45 2.45 0 1 0 4.90 0a2.45 2.45 0 1 0 -4.90 0M398.1 135.9a2.45 2.45 0 1 0 4.90 0a2.45 2.45 0 1 0 -4.90 0M399.6 136.1a2.45 2.45 0 1 0 4.90 0a2.45 2.45 0 1 0 -4.90 0M401.1 136.5a2.45 2.45 0 1 0 4.90 0a2.45 2.45 0 1 0 -4.90 0M402.6 137.0a2.45 2.45 0 1 0 4.90 0a2.45 2.45 0 1 0 -4.90 0M404.1 137.7a2.45 2.45 0 1 0 4.90 0a2.45 2.45 0 1 0 -4.90 0M405.6 138.6a2.45 2.45 0 1 0 4.90 0a2.45 2.45 0 1 0 -4.90 0M407.1 139.5a2.45 2.45 0 1 0 4.90 0a2.45 2.45 0 1 0 -4.90 0M408.6 140.3a2.45 2.45 0 1 0 4.90 0a2.45 2.45 0 1 0 -4.90 0M410.1 141.0a2.45 2.45 0 1 0 4.90 0a2.45 2.45 0 1 0 -4.90 0M411.6 141.7a2.45 2.45 0 1 0 4.90 0a2.45 2.45 0 1 0 -4.90 0M413.1 142.1a2.45 2.45 0 1 0 4.90 0a2.45 2.45 0 1 0 -4.90 0M414.6 142.3a2.45 2.45 0 1 0 4.90 0a2.45 2.45 0 1 0 -4.90 0M416.1 142.4a2.45 2.45 0 1 0 4.90 0a2.45 2.45 0 1 0 -4.90 0M423.6 143.4a2.45 2.45 0 1 0 4.90 0a2.45 2.45 0 1 0 -4.90 0M425.1 143.9a2.45 2.45 0 1 0 4.90 0a2.45 2.45 0 1 0 -4.90 0M426.6 144.6a2.45 2.45 0 1 0 4.90 0a2.45 2.45 0 1 0 -4.90 0M428.1 145.5a2.45 2.45 0 1 0 4.90 0a2.45 2.45 0 1 0 -4.90 0M429.6 146.3a2.45 2.45 0 1 0 4.90 0a2.45 2.45 0 1 0 -4.90 0M431.1 147.0a2.45 2.45 0 1 0 4.90 0a2.45 2.45 0 1 0 -4.90 0M432.6 147.5a2.45 2.45 0 1 0 4.90 0a2.45 2.45 0 1 0 -4.90 0M434.1 147.6a2.45 2.45 0 1 0 4.90 0a2.45 2.45 0 1 0 -4.90 0M435.6 147.5a2.45 2.45 0 1 0 4.90 0a2.45 2.45 0 1 0 -4.90 0M437.1 147.4a2.45 2.45 0 1 0 4.90 0a2.45 2.45 0 1 0 -4.90 0M438.6 147.4a2.45 2.45 0 1 0 4.90 0a2.45 2.45 0 1 0 -4.90 0M440.1 147.6a2.45 2.45 0 1 0 4.90 0a2.45 2.45 0 1 0 -4.90 0M441.6 148.0a2.45 2.45 0 1 0 4.90 0a2.45 2.45 0 1 0 -4.90 0M443.1 148.4a2.45 2.45 0 1 0 4.90 0a2.45 2.45 0 1 0 -4.90 0M444.6 148.6a2.45 2.45 0 1 0 4.90 0a2.45 2.45 0 1 0 -4.90 0M450.6 152.7a2.45 2.45 0 1 0 4.90 0a2.45 2.45 0 1 0 -4.90 0M452.1 153.4a2.45 2.45 0 1 0 4.90 0a2.45 2.45 0 1 0 -4.90 0M453.6 153.9a2.45 2.45 0 1 0 4.90 0a2.45 2.45 0 1 0 -4.90 0M455.1 154.2a2.45 2.45 0 1 0 4.90 0a2.45 2.45 0 1 0 -4.90 0M456.6 154.4a2.45 2.45 0 1 0 4.90 0a2.45 2.45 0 1 0 -4.90 0M458.1 154.7a2.45 2.45 0 1 0 4.90 0a2.45 2.45 0 1 0 -4.90 0M459.6 155.1a2.45 2.45 0 1 0 4.90 0a2.45 2.45 0 1 0 -4.90 0M461.1 155.6a2.45 2.45 0 1 0 4.90 0a2.45 2.45 0 1 0 -4.90 0M462.6 156.1a2.45 2.45 0 1 0 4.90 0a2.45 2.45 0 1 0 -4.90 0M464.1 156.5a2.45 2.45 0 1 0 4.90 0a2.45 2.45 0 1 0 -4.90 0M465.6 156.8a2.45 2.45 0 1 0 4.90 0a2.45 2.45 0 1 0 -4.90 0M467.1 157.2a2.45 2.45 0 1 0 4.90 0a2.45 2.45 0 1 0 -4.90 0M468.6 157.5a2.45 2.45 0 1 0 4.90 0a2.45 2.45 0 1 0 -4.90 0M470.1 157.7a2.45 2.45 0 1 0 4.90 0a2.45 2.45 0 1 0 -4.90 0M479.1 158.7a2.45 2.45 0 1 0 4.90 0a2.45 2.45 0 1 0 -4.90 0M480.6 159.3a2.45 2.45 0 1 0 4.90 0a2.45 2.45 0 1 0 -4.90 0M482.1 160.0a2.45 2.45 0 1 0 4.90 0a2.45 2.45 0 1 0 -4.90 0M483.6 160.6a2.45 2.45 0 1 0 4.90 0a2.45 2.45 0 1 0 -4.90 0M485.1 160.8a2.45 2.45 0 1 0 4.90 0a2.45 2.45 0 1 0 -4.90 0M486.6 161.1a2.45 2.45 0 1 0 4.90 0a2.45 2.45 0 1 0 -4.90 0M488.1 162.0a2.45 2.45 0 1 0 4.90 0a2.45 2.45 0 1 0 -4.90 0M489.6 163.1a2.45 2.45 0 1 0 4.90 0a2.45 2.45 0 1 0 -4.90 0M491.1 163.6a2.45 2.45 0 1 0 4.90 0a2.45 2.45 0 1 0 -4.90 0M492.6 163.9a2.45 2.45 0 1 0 4.90 0a2.45 2.45 0 1 0 -4.90 0M494.1 164.3a2.45 2.45 0 1 0 4.90 0a2.45 2.45 0 1 0 -4.90 0M495.6 164.5a2.45 2.45 0 1 0 4.90 0a2.45 2.45 0 1 0 -4.90 0M506.1 166.6a2.45 2.45 0 1 0 4.90 0a2.45 2.45 0 1 0 -4.90 0M507.6 166.9a2.45 2.45 0 1 0 4.90 0a2.45 2.45 0 1 0 -4.90 0M509.1 167.1a2.45 2.45 0 1 0 4.90 0a2.45 2.45 0 1 0 -4.90 0M510.6 167.4a2.45 2.45 0 1 0 4.90 0a2.45 2.45 0 1 0 -4.90 0M512.0 167.7a2.45 2.45 0 1 0 4.90 0a2.45 2.45 0 1 0 -4.90 0M513.5 168.0a2.45 2.45 0 1 0 4.90 0a2.45 2.45 0 1 0 -4.90 0M515.0 168.0a2.45 2.45 0 1 0 4.90 0a2.45 2.45 0 1 0 -4.90 0M516.5 169.0a2.45 2.45 0 1 0 4.90 0a2.45 2.45 0 1 0 -4.90 0M518.0 170.2a2.45 2.45 0 1 0 4.90 0a2.45 2.45 0 1 0 -4.90 0M519.5 171.1a2.45 2.45 0 1 0 4.90 0a2.45 2.45 0 1 0 -4.90 0M521.0 171.7a2.45 2.45 0 1 0 4.90 0a2.45 2.45 0 1 0 -4.90 0M528.5 172.3a2.45 2.45 0 1 0 4.90 0a2.45 2.45 0 1 0 -4.90 0M530.0 172.9a2.45 2.45 0 1 0 4.90 0a2.45 2.45 0 1 0 -4.90 0M531.5 173.4a2.45 2.45 0 1 0 4.90 0a2.45 2.45 0 1 0 -4.90 0M533.0 173.9a2.45 2.45 0 1 0 4.90 0a2.45 2.45 0 1 0 -4.90 0M534.5 174.1a2.45 2.45 0 1 0 4.90 0a2.45 2.45 0 1 0 -4.90 0M536.0 174.3a2.45 2.45 0 1 0 4.90 0a2.45 2.45 0 1 0 -4.90 0M537.5 174.6a2.45 2.45 0 1 0 4.90 0a2.45 2.45 0 1 0 -4.90 0M539.0 175.2a2.45 2.45 0 1 0 4.90 0a2.45 2.45 0 1 0 -4.90 0M540.5 175.7a2.45 2.45 0 1 0 4.90 0a2.45 2.45 0 1 0 -4.90 0M542.0 176.1a2.45 2.45 0 1 0 4.90 0a2.45 2.45 0 1 0 -4.90 0M543.5 176.3a2.45 2.45 0 1 0 4.90 0a2.45 2.45 0 1 0 -4.90 0M545.0 176.5a2.45 2.45 0 1 0 4.90 0a2.45 2.45 0 1 0 -4.90 0M546.5 176.9a2.45 2.45 0 1 0 4.90 0a2.45 2.45 0 1 0 -4.90 0M548.0 177.6a2.45 2.45 0 1 0 4.90 0a2.45 2.45 0 1 0 -4.90 0M549.5 178.4a2.45 2.45 0 1 0 4.90 0a2.45 2.45 0 1 0 -4.90 0M551.0 179.2a2.45 2.45 0 1 0 4.90 0a2.45 2.45 0 1 0 -4.90 0M555.5 180.5a2.45 2.45 0 1 0 4.90 0a2.45 2.45 0 1 0 -4.90 0M557.0 180.7a2.45 2.45 0 1 0 4.90 0a2.45 2.45 0 1 0 -4.90 0M558.5 180.7a2.45 2.45 0 1 0 4.90 0a2.45 2.45 0 1 0 -4.90 0M560.0 180.5a2.45 2.45 0 1 0 4.90 0a2.45 2.45 0 1 0 -4.90 0M561.5 180.3a2.45 2.45 0 1 0 4.90 0a2.45 2.45 0 1 0 -4.90 0M563.0 180.3a2.45 2.45 0 1 0 4.90 0a2.45 2.45 0 1 0 -4.90 0M566.0 180.5a2.45 2.45 0 1 0 4.90 0a2.45 2.45 0 1 0 -4.90 0M567.5 180.7a2.45 2.45 0 1 0 4.90 0a2.45 2.45 0 1 0 -4.90 0M569.0 181.0a2.45 2.45 0 1 0 4.90 0a2.45 2.45 0 1 0 -4.90 0M575.0 183.2a2.45 2.45 0 1 0 4.90 0a2.45 2.45 0 1 0 -4.90 0M66.7 268.6a2.45 2.45 0 1 0 4.90 0a2.45 2.45 0 1 0 -4.90 0M63.4 269.0a2.45 2.45 0 1 0 4.90 0a2.45 2.45 0 1 0 -4.90 0M61.5 271.4a2.45 2.45 0 1 0 4.90 0a2.45 2.45 0 1 0 -4.90 0M60.1 274.5a2.45 2.45 0 1 0 4.90 0a2.45 2.45 0 1 0 -4.90 0M62.6 277.8a2.45 2.45 0 1 0 4.90 0a2.45 2.45 0 1 0 -4.90 0M62.1 281.3a2.45 2.45 0 1 0 4.90 0a2.45 2.45 0 1 0 -4.90 0M64.3 282.8a2.45 2.45 0 1 0 4.90 0a2.45 2.45 0 1 0 -4.90 0M66.9 285.4a2.45 2.45 0 1 0 4.90 0a2.45 2.45 0 1 0 -4.90 0M70.2 283.9a2.45 2.45 0 1 0 4.90 0a2.45 2.45 0 1 0 -4.90 0M74.0 285.6a2.45 2.45 0 1 0 4.90 0a2.45 2.45 0 1 0 -4.90 0M77.0 283.4a2.45 2.45 0 1 0 4.90 0a2.45 2.45 0 1 0 -4.90 0M79.9 281.2a2.45 2.45 0 1 0 4.90 0a2.45 2.45 0 1 0 -4.90 0M80.2 277.7a2.45 2.45 0 1 0 4.90 0a2.45 2.45 0 1 0 -4.90 0M80.0 273.7a2.45 2.45 0 1 0 4.90 0a2.45 2.45 0 1 0 -4.90 0M82.9 270.9a2.45 2.45 0 1 0 4.90 0a2.45 2.45 0 1 0 -4.90 0M79.3 269.8a2.45 2.45 0 1 0 4.90 0a2.45 2.45 0 1 0 -4.90 0M75.8 270.6a2.45 2.45 0 1 0 4.90 0a2.45 2.45 0 1 0 -4.90 0M72.1 271.2a2.45 2.45 0 1 0 4.90 0a2.45 2.45 0 1 0 -4.90 0M70.2 267.7a2.45 2.45 0 1 0 4.90 0a2.45 2.45 0 1 0 -4.90 0M85.8 274.7a2.45 2.45 0 1 0 4.90 0a2.45 2.45 0 1 0 -4.90 0M92.2 274.4a2.45 2.45 0 1 0 4.90 0a2.45 2.45 0 1 0 -4.90 0M93.7 275.7a2.45 2.45 0 1 0 4.90 0a2.45 2.45 0 1 0 -4.90 0M95.5 276.1a2.45 2.45 0 1 0 4.90 0a2.45 2.45 0 1 0 -4.90 0M97.2 276.8a2.45 2.45 0 1 0 4.90 0a2.45 2.45 0 1 0 -4.90 0M98.7 277.8a2.45 2.45 0 1 0 4.90 0a2.45 2.45 0 1 0 -4.90 0M100.9 277.5a2.45 2.45 0 1 0 4.90 0a2.45 2.45 0 1 0 -4.90 0M102.1 278.9a2.45 2.45 0 1 0 4.90 0a2.45 2.45 0 1 0 -4.90 0M100.5 281.8a2.45 2.45 0 1 0 4.90 0a2.45 2.45 0 1 0 -4.90 0M102.1 283.1a2.45 2.45 0 1 0 4.90 0a2.45 2.45 0 1 0 -4.90 0M103.4 286.4a2.45 2.45 0 1 0 4.90 0a2.45 2.45 0 1 0 -4.90 0M101.7 288.9a2.45 2.45 0 1 0 4.90 0a2.45 2.45 0 1 0 -4.90 0M103.2 289.5a2.45 2.45 0 1 0 4.90 0a2.45 2.45 0 1 0 -4.90 0M104.8 286.7a2.45 2.45 0 1 0 4.90 0a2.45 2.45 0 1 0 -4.90 0M103.4 284.5a2.45 2.45 0 1 0 4.90 0a2.45 2.45 0 1 0 -4.90 0M101.1 282.0a2.45 2.45 0 1 0 4.90 0a2.45 2.45 0 1 0 -4.90 0M103.2 279.3a2.45 2.45 0 1 0 4.90 0a2.45 2.45 0 1 0 -4.90 0M100.3 278.5a2.45 2.45 0 1 0 4.90 0a2.45 2.45 0 1 0 -4.90 0M101.9 280.7a2.45 2.45 0 1 0 4.90 0a2.45 2.45 0 1 0 -4.90 0M100.3 282.3a2.45 2.45 0 1 0 4.90 0a2.45 2.45 0 1 0 -4.90 0M101.8 282.7a2.45 2.45 0 1 0 4.90 0a2.45 2.45 0 1 0 -4.90 0M102.4 284.0a2.45 2.45 0 1 0 4.90 0a2.45 2.45 0 1 0 -4.90 0M104.3 284.7a2.45 2.45 0 1 0 4.90 0a2.45 2.45 0 1 0 -4.90 0M103.4 285.8a2.45 2.45 0 1 0 4.90 0a2.45 2.45 0 1 0 -4.90 0M103.5 287.3a2.45 2.45 0 1 0 4.90 0a2.45 2.45 0 1 0 -4.90 0M102.0 287.8a2.45 2.45 0 1 0 4.90 0a2.45 2.45 0 1 0 -4.90 0M96.9 292.7a2.45 2.45 0 1 0 4.90 0a2.45 2.45 0 1 0 -4.90 0M98.0 294.2a2.45 2.45 0 1 0 4.90 0a2.45 2.45 0 1 0 -4.90 0M100.9 292.2a2.45 2.45 0 1 0 4.90 0a2.45 2.45 0 1 0 -4.90 0M104.3 293.3a2.45 2.45 0 1 0 4.90 0a2.45 2.45 0 1 0 -4.90 0M106.5 295.3a2.45 2.45 0 1 0 4.90 0a2.45 2.45 0 1 0 -4.90 0M104.8 294.1a2.45 2.45 0 1 0 4.90 0a2.45 2.45 0 1 0 -4.90 0M102.8 292.0a2.45 2.45 0 1 0 4.90 0a2.45 2.45 0 1 0 -4.90 0M99.9 293.6a2.45 2.45 0 1 0 4.90 0a2.45 2.45 0 1 0 -4.90 0M101.7 290.7a2.45 2.45 0 1 0 4.90 0a2.45 2.45 0 1 0 -4.90 0M102.1 290.1a2.45 2.45 0 1 0 4.90 0a2.45 2.45 0 1 0 -4.90 0M98.4 289.9a2.45 2.45 0 1 0 4.90 0a2.45 2.45 0 1 0 -4.90 0M100.2 290.9a2.45 2.45 0 1 0 4.90 0a2.45 2.45 0 1 0 -4.90 0M98.6 291.9a2.45 2.45 0 1 0 4.90 0a2.45 2.45 0 1 0 -4.90 0M97.1 293.2a2.45 2.45 0 1 0 4.90 0a2.45 2.45 0 1 0 -4.90 0M98.7 292.3a2.45 2.45 0 1 0 4.90 0a2.45 2.45 0 1 0 -4.90 0M100.3 292.5a2.45 2.45 0 1 0 4.90 0a2.45 2.45 0 1 0 -4.90 0M101.9 292.3a2.45 2.45 0 1 0 4.90 0a2.45 2.45 0 1 0 -4.90 0M103.4 293.1a2.45 2.45 0 1 0 4.90 0a2.45 2.45 0 1 0 -4.90 0M105.0 293.3a2.45 2.45 0 1 0 4.90 0a2.45 2.45 0 1 0 -4.90 0M106.0 294.5a2.45 2.45 0 1 0 4.90 0a2.45 2.45 0 1 0 -4.90 0M107.6 298.9a2.45 2.45 0 1 0 4.90 0a2.45 2.45 0 1 0 -4.90 0M107.5 302.0a2.45 2.45 0 1 0 4.90 0a2.45 2.45 0 1 0 -4.90 0M108.4 304.9a2.45 2.45 0 1 0 4.90 0a2.45 2.45 0 1 0 -4.90 0M111.6 307.4a2.45 2.45 0 1 0 4.90 0a2.45 2.45 0 1 0 -4.90 0M110.1 310.3a2.45 2.45 0 1 0 4.90 0a2.45 2.45 0 1 0 -4.90 0M111.1 313.0a2.45 2.45 0 1 0 4.90 0a2.45 2.45 0 1 0 -4.90 0M112.1 315.2a2.45 2.45 0 1 0 4.90 0a2.45 2.45 0 1 0 -4.90 0M114.7 316.7a2.45 2.45 0 1 0 4.90 0a2.45 2.45 0 1 0 -4.90 0M115.8 319.7a2.45 2.45 0 1 0 4.90 0a2.45 2.45 0 1 0 -4.90 0M114.5 322.8a2.45 2.45 0 1 0 4.90 0a2.45 2.45 0 1 0 -4.90 0M116.0 325.6a2.45 2.45 0 1 0 4.90 0a2.45 2.45 0 1 0 -4.90 0M118.5 326.6a2.45 2.45 0 1 0 4.90 0a2.45 2.45 0 1 0 -4.90 0M118.9 323.2a2.45 2.45 0 1 0 4.90 0a2.45 2.45 0 1 0 -4.90 0M117.3 320.0a2.45 2.45 0 1 0 4.90 0a2.45 2.45 0 1 0 -4.90 0M117.4 318.1a2.45 2.45 0 1 0 4.90 0a2.45 2.45 0 1 0 -4.90 0M115.7 315.7a2.45 2.45 0 1 0 4.90 0a2.45 2.45 0 1 0 -4.90 0M113.9 313.5a2.45 2.45 0 1 0 4.90 0a2.45 2.45 0 1 0 -4.90 0M111.6 311.2a2.45 2.45 0 1 0 4.90 0a2.45 2.45 0 1 0 -4.90 0M112.3 307.9a2.45 2.45 0 1 0 4.90 0a2.45 2.45 0 1 0 -4.90 0M112.6 304.8a2.45 2.45 0 1 0 4.90 0a2.45 2.45 0 1 0 -4.90 0M109.0 303.3a2.45 2.45 0 1 0 4.90 0a2.45 2.45 0 1 0 -4.90 0M108.5 299.8a2.45 2.45 0 1 0 4.90 0a2.45 2.45 0 1 0 -4.90 0M107.9 297.6a2.45 2.45 0 1 0 4.90 0a2.45 2.45 0 1 0 -4.90 0M106.5 294.9a2.45 2.45 0 1 0 4.90 0a2.45 2.45 0 1 0 -4.90 0M105.4 293.9a2.45 2.45 0 1 0 4.90 0a2.45 2.45 0 1 0 -4.90 0M105.5 296.5a2.45 2.45 0 1 0 4.90 0a2.45 2.45 0 1 0 -4.90 0M107.3 295.6a2.45 2.45 0 1 0 4.90 0a2.45 2.45 0 1 0 -4.90 0M107.6 297.3a2.45 2.45 0 1 0 4.90 0a2.45 2.45 0 1 0 -4.90 0M109.2 298.4a2.45 2.45 0 1 0 4.90 0a2.45 2.45 0 1 0 -4.90 0M109.4 299.9a2.45 2.45 0 1 0 4.90 0a2.45 2.45 0 1 0 -4.90 0M108.6 301.5a2.45 2.45 0 1 0 4.90 0a2.45 2.45 0 1 0 -4.90 0M109.2 302.9a2.45 2.45 0 1 0 4.90 0a2.45 2.45 0 1 0 -4.90 0M109.7 304.3a2.45 2.45 0 1 0 4.90 0a2.45 2.45 0 1 0 -4.90 0M110.4 305.6a2.45 2.45 0 1 0 4.90 0a2.45 2.45 0 1 0 -4.90 0M111.1 306.4a2.45 2.45 0 1 0 4.90 0a2.45 2.45 0 1 0 -4.90 0M111.2 307.8a2.45 2.45 0 1 0 4.90 0a2.45 2.45 0 1 0 -4.90 0M110.7 309.1a2.45 2.45 0 1 0 4.90 0a2.45 2.45 0 1 0 -4.90 0M110.8 310.6a2.45 2.45 0 1 0 4.90 0a2.45 2.45 0 1 0 -4.90 0M110.8 312.0a2.45 2.45 0 1 0 4.90 0a2.45 2.45 0 1 0 -4.90 0M111.2 313.3a2.45 2.45 0 1 0 4.90 0a2.45 2.45 0 1 0 -4.90 0M112.4 314.0a2.45 2.45 0 1 0 4.90 0a2.45 2.45 0 1 0 -4.90 0M113.6 315.2a2.45 2.45 0 1 0 4.90 0a2.45 2.45 0 1 0 -4.90 0M114.8 316.4a2.45 2.45 0 1 0 4.90 0a2.45 2.45 0 1 0 -4.90 0M116.3 317.3a2.45 2.45 0 1 0 4.90 0a2.45 2.45 0 1 0 -4.90 0M117.2 318.2a2.45 2.45 0 1 0 4.90 0a2.45 2.45 0 1 0 -4.90 0M117.1 319.3a2.45 2.45 0 1 0 4.90 0a2.45 2.45 0 1 0 -4.90 0M117.7 321.2a2.45 2.45 0 1 0 4.90 0a2.45 2.45 0 1 0 -4.90 0M117.0 322.4a2.45 2.45 0 1 0 4.90 0a2.45 2.45 0 1 0 -4.90 0M116.4 324.1a2.45 2.45 0 1 0 4.90 0a2.45 2.45 0 1 0 -4.90 0M117.0 325.5a2.45 2.45 0 1 0 4.90 0a2.45 2.45 0 1 0 -4.90 0M121.6 328.0a2.45 2.45 0 1 0 4.90 0a2.45 2.45 0 1 0 -4.90 0M124.5 328.4a2.45 2.45 0 1 0 4.90 0a2.45 2.45 0 1 0 -4.90 0M128.0 327.3a2.45 2.45 0 1 0 4.90 0a2.45 2.45 0 1 0 -4.90 0M130.7 328.6a2.45 2.45 0 1 0 4.90 0a2.45 2.45 0 1 0 -4.90 0M133.3 330.2a2.45 2.45 0 1 0 4.90 0a2.45 2.45 0 1 0 -4.90 0M136.4 331.0a2.45 2.45 0 1 0 4.90 0a2.45 2.45 0 1 0 -4.90 0M139.0 329.3a2.45 2.45 0 1 0 4.90 0a2.45 2.45 0 1 0 -4.90 0M138.9 327.8a2.45 2.45 0 1 0 4.90 0a2.45 2.45 0 1 0 -4.90 0M138.0 327.7a2.45 2.45 0 1 0 4.90 0a2.45 2.45 0 1 0 -4.90 0M135.1 327.3a2.45 2.45 0 1 0 4.90 0a2.45 2.45 0 1 0 -4.90 0M131.7 328.1a2.45 2.45 0 1 0 4.90 0a2.45 2.45 0 1 0 -4.90 0M129.1 326.4a2.45 2.45 0 1 0 4.90 0a2.45 2.45 0 1 0 -4.90 0M126.0 326.6a2.45 2.45 0 1 0 4.90 0a2.45 2.45 0 1 0 -4.90 0M123.3 325.0a2.45 2.45 0 1 0 4.90 0a2.45 2.45 0 1 0 -4.90 0M120.4 324.1a2.45 2.45 0 1 0 4.90 0a2.45 2.45 0 1 0 -4.90 0M117.4 323.3a2.45 2.45 0 1 0 4.90 0a2.45 2.45 0 1 0 -4.90 0M115.7 326.3a2.45 2.45 0 1 0 4.90 0a2.45 2.45 0 1 0 -4.90 0M118.9 325.9a2.45 2.45 0 1 0 4.90 0a2.45 2.45 0 1 0 -4.90 0M117.0 326.0a2.45 2.45 0 1 0 4.90 0a2.45 2.45 0 1 0 -4.90 0M118.6 326.0a2.45 2.45 0 1 0 4.90 0a2.45 2.45 0 1 0 -4.90 0M120.2 326.4a2.45 2.45 0 1 0 4.90 0a2.45 2.45 0 1 0 -4.90 0M121.9 325.9a2.45 2.45 0 1 0 4.90 0a2.45 2.45 0 1 0 -4.90 0M123.7 326.4a2.45 2.45 0 1 0 4.90 0a2.45 2.45 0 1 0 -4.90 0M125.4 327.5a2.45 2.45 0 1 0 4.90 0a2.45 2.45 0 1 0 -4.90 0M127.2 328.0a2.45 2.45 0 1 0 4.90 0a2.45 2.45 0 1 0 -4.90 0M128.8 327.7a2.45 2.45 0 1 0 4.90 0a2.45 2.45 0 1 0 -4.90 0M130.1 328.5a2.45 2.45 0 1 0 4.90 0a2.45 2.45 0 1 0 -4.90 0M131.5 329.2a2.45 2.45 0 1 0 4.90 0a2.45 2.45 0 1 0 -4.90 0M133.2 329.7a2.45 2.45 0 1 0 4.90 0a2.45 2.45 0 1 0 -4.90 0M134.9 329.2a2.45 2.45 0 1 0 4.90 0a2.45 2.45 0 1 0 -4.90 0M136.5 329.0a2.45 2.45 0 1 0 4.90 0a2.45 2.45 0 1 0 -4.90 0M137.6 328.0a2.45 2.45 0 1 0 4.90 0a2.45 2.45 0 1 0 -4.90 0M139.1 327.5a2.45 2.45 0 1 0 4.90 0a2.45 2.45 0 1 0 -4.90 0M142.7 324.3a2.45 2.45 0 1 0 4.90 0a2.45 2.45 0 1 0 -4.90 0M144.6 321.9a2.45 2.45 0 1 0 4.90 0a2.45 2.45 0 1 0 -4.90 0M146.9 319.8a2.45 2.45 0 1 0 4.90 0a2.45 2.45 0 1 0 -4.90 0M149.5 318.1a2.45 2.45 0 1 0 4.90 0a2.45 2.45 0 1 0 -4.90 0M150.7 314.6a2.45 2.45 0 1 0 4.90 0a2.45 2.45 0 1 0 -4.90 0M153.5 313.3a2.45 2.45 0 1 0 4.90 0a2.45 2.45 0 1 0 -4.90 0M153.9 312.4a2.45 2.45 0 1 0 4.90 0a2.45 2.45 0 1 0 -4.90 0M151.8 311.0a2.45 2.45 0 1 0 4.90 0a2.45 2.45 0 1 0 -4.90 0M149.2 312.5a2.45 2.45 0 1 0 4.90 0a2.45 2.45 0 1 0 -4.90 0M147.4 315.2a2.45 2.45 0 1 0 4.90 0a2.45 2.45 0 1 0 -4.90 0M145.9 318.0a2.45 2.45 0 1 0 4.90 0a2.45 2.45 0 1 0 -4.90 0M143.0 319.5a2.45 2.45 0 1 0 4.90 0a2.45 2.45 0 1 0 -4.90 0M140.6 321.5a2.45 2.45 0 1 0 4.90 0a2.45 2.45 0 1 0 -4.90 0M139.7 324.6a2.45 2.45 0 1 0 4.90 0a2.45 2.45 0 1 0 -4.90 0M140.1 326.3a2.45 2.45 0 1 0 4.90 0a2.45 2.45 0 1 0 -4.90 0M139.6 326.0a2.45 2.45 0 1 0 4.90 0a2.45 2.45 0 1 0 -4.90 0M141.2 325.1a2.45 2.45 0 1 0 4.90 0a2.45 2.45 0 1 0 -4.90 0M141.9 323.8a2.45 2.45 0 1 0 4.90 0a2.45 2.45 0 1 0 -4.90 0M142.9 322.6a2.45 2.45 0 1 0 4.90 0a2.45 2.45 0 1 0 -4.90 0M143.4 320.9a2.45 2.45 0 1 0 4.90 0a2.45 2.45 0 1 0 -4.90 0M144.3 319.6a2.45 2.45 0 1 0 4.90 0a2.45 2.45 0 1 0 -4.90 0M145.3 318.2a2.45 2.45 0 1 0 4.90 0a2.45 2.45 0 1 0 -4.90 0M147.3 317.5a2.45 2.45 0 1 0 4.90 0a2.45 2.45 0 1 0 -4.90 0M148.6 316.2a2.45 2.45 0 1 0 4.90 0a2.45 2.45 0 1 0 -4.90 0M149.5 314.3a2.45 2.45 0 1 0 4.90 0a2.45 2.45 0 1 0 -4.90 0M151.1 314.3a2.45 2.45 0 1 0 4.90 0a2.45 2.45 0 1 0 -4.90 0M152.1 313.0a2.45 2.45 0 1 0 4.90 0a2.45 2.45 0 1 0 -4.90 0M153.6 312.5a2.45 2.45 0 1 0 4.90 0a2.45 2.45 0 1 0 -4.90 0M147.8 316.4a2.45 2.45 0 1 0 4.90 0a2.45 2.45 0 1 0 -4.90 0M149.0 315.5a2.45 2.45 0 1 0 4.90 0a2.45 2.45 0 1 0 -4.90 0M152.8 315.2a2.45 2.45 0 1 0 4.90 0a2.45 2.45 0 1 0 -4.90 0M156.3 314.9a2.45 2.45 0 1 0 4.90 0a2.45 2.45 0 1 0 -4.90 0M159.9 313.9a2.45 2.45 0 1 0 4.90 0a2.45 2.45 0 1 0 -4.90 0M163.3 315.0a2.45 2.45 0 1 0 4.90 0a2.45 2.45 0 1 0 -4.90 0M166.9 314.6a2.45 2.45 0 1 0 4.90 0a2.45 2.45 0 1 0 -4.90 0M171.1 313.5a2.45 2.45 0 1 0 4.90 0a2.45 2.45 0 1 0 -4.90 0M172.1 317.7a2.45 2.45 0 1 0 4.90 0a2.45 2.45 0 1 0 -4.90 0M173.6 321.1a2.45 2.45 0 1 0 4.90 0a2.45 2.45 0 1 0 -4.90 0M177.0 322.6a2.45 2.45 0 1 0 4.90 0a2.45 2.45 0 1 0 -4.90 0M179.1 321.7a2.45 2.45 0 1 0 4.90 0a2.45 2.45 0 1 0 -4.90 0M182.1 320.3a2.45 2.45 0 1 0 4.90 0a2.45 2.45 0 1 0 -4.90 0M185.5 319.4a2.45 2.45 0 1 0 4.90 0a2.45 2.45 0 1 0 -4.90 0M189.2 318.7a2.45 2.45 0 1 0 4.90 0a2.45 2.45 0 1 0 -4.90 0M192.7 319.7a2.45 2.45 0 1 0 4.90 0a2.45 2.45 0 1 0 -4.90 0M196.7 317.8a2.45 2.45 0 1 0 4.90 0a2.45 2.45 0 1 0 -4.90 0M199.9 320.3a2.45 2.45 0 1 0 4.90 0a2.45 2.45 0 1 0 -4.90 0M202.2 323.2a2.45 2.45 0 1 0 4.90 0a2.45 2.45 0 1 0 -4.90 0M205.8 324.3a2.45 2.45 0 1 0 4.90 0a2.45 2.45 0 1 0 -4.90 0M207.2 328.4a2.45 2.45 0 1 0 4.90 0a2.45 2.45 0 1 0 -4.90 0M210.7 330.0a2.45 2.45 0 1 0 4.90 0a2.45 2.45 0 1 0 -4.90 0M214.2 327.7a2.45 2.45 0 1 0 4.90 0a2.45 2.45 0 1 0 -4.90 0M217.8 329.8a2.45 2.45 0 1 0 4.90 0a2.45 2.45 0 1 0 -4.90 0M221.1 331.7a2.45 2.45 0 1 0 4.90 0a2.45 2.45 0 1 0 -4.90 0M224.5 330.5a2.45 2.45 0 1 0 4.90 0a2.45 2.45 0 1 0 -4.90 0M227.7 329.4a2.45 2.45 0 1 0 4.90 0a2.45 2.45 0 1 0 -4.90 0M231.1 328.1a2.45 2.45 0 1 0 4.90 0a2.45 2.45 0 1 0 -4.90 0M234.9 328.4a2.45 2.45 0 1 0 4.90 0a2.45 2.45 0 1 0 -4.90 0M238.1 328.7a2.45 2.45 0 1 0 4.90 0a2.45 2.45 0 1 0 -4.90 0M241.7 329.1a2.45 2.45 0 1 0 4.90 0a2.45 2.45 0 1 0 -4.90 0M245.1 330.4a2.45 2.45 0 1 0 4.90 0a2.45 2.45 0 1 0 -4.90 0M248.4 331.1a2.45 2.45 0 1 0 4.90 0a2.45 2.45 0 1 0 -4.90 0M252.3 331.6a2.45 2.45 0 1 0 4.90 0a2.45 2.45 0 1 0 -4.90 0M255.0 334.0a2.45 2.45 0 1 0 4.90 0a2.45 2.45 0 1 0 -4.90 0M257.9 332.8a2.45 2.45 0 1 0 4.90 0a2.45 2.45 0 1 0 -4.90 0M259.9 329.3a2.45 2.45 0 1 0 4.90 0a2.45 2.45 0 1 0 -4.90 0M263.6 330.4a2.45 2.45 0 1 0 4.90 0a2.45 2.45 0 1 0 -4.90 0M267.7 331.5a2.45 2.45 0 1 0 4.90 0a2.45 2.45 0 1 0 -4.90 0M269.1 334.9a2.45 2.45 0 1 0 4.90 0a2.45 2.45 0 1 0 -4.90 0M270.9 338.1a2.45 2.45 0 1 0 4.90 0a2.45 2.45 0 1 0 -4.90 0M272.2 341.5a2.45 2.45 0 1 0 4.90 0a2.45 2.45 0 1 0 -4.90 0M274.6 344.2a2.45 2.45 0 1 0 4.90 0a2.45 2.45 0 1 0 -4.90 0M276.0 347.7a2.45 2.45 0 1 0 4.90 0a2.45 2.45 0 1 0 -4.90 0M278.8 350.1a2.45 2.45 0 1 0 4.90 0a2.45 2.45 0 1 0 -4.90 0M282.9 350.3a2.45 2.45 0 1 0 4.90 0a2.45 2.45 0 1 0 -4.90 0M285.4 352.7a2.45 2.45 0 1 0 4.90 0a2.45 2.45 0 1 0 -4.90 0M288.4 351.1a2.45 2.45 0 1 0 4.90 0a2.45 2.45 0 1 0 -4.90 0M292.0 350.3a2.45 2.45 0 1 0 4.90 0a2.45 2.45 0 1 0 -4.90 0M295.4 350.0a2.45 2.45 0 1 0 4.90 0a2.45 2.45 0 1 0 -4.90 0M298.5 348.4a2.45 2.45 0 1 0 4.90 0a2.45 2.45 0 1 0 -4.90 0M302.6 348.8a2.45 2.45 0 1 0 4.90 0a2.45 2.45 0 1 0 -4.90 0M304.2 352.6a2.45 2.45 0 1 0 4.90 0a2.45 2.45 0 1 0 -4.90 0M307.5 354.2a2.45 2.45 0 1 0 4.90 0a2.45 2.45 0 1 0 -4.90 0M311.6 353.9a2.45 2.45 0 1 0 4.90 0a2.45 2.45 0 1 0 -4.90 0M311.8 352.2a2.45 2.45 0 1 0 4.90 0a2.45 2.45 0 1 0 -4.90 0M311.6 348.6a2.45 2.45 0 1 0 4.90 0a2.45 2.45 0 1 0 -4.90 0M310.1 345.8a2.45 2.45 0 1 0 4.90 0a2.45 2.45 0 1 0 -4.90 0M309.4 342.0a2.45 2.45 0 1 0 4.90 0a2.45 2.45 0 1 0 -4.90 0M305.9 340.0a2.45 2.45 0 1 0 4.90 0a2.45 2.45 0 1 0 -4.90 0M304.2 336.9a2.45 2.45 0 1 0 4.90 0a2.45 2.45 0 1 0 -4.90 0M302.2 334.1a2.45 2.45 0 1 0 4.90 0a2.45 2.45 0 1 0 -4.90 0M299.9 334.2a2.45 2.45 0 1 0 4.90 0a2.45 2.45 0 1 0 -4.90 0M297.3 333.2a2.45 2.45 0 1 0 4.90 0a2.45 2.45 0 1 0 -4.90 0M295.0 332.6a2.45 2.45 0 1 0 4.90 0a2.45 2.45 0 1 0 -4.90 0M290.3 332.4a2.45 2.45 0 1 0 4.90 0a2.45 2.45 0 1 0 -4.90 0M289.8 328.3a2.45 2.45 0 1 0 4.90 0a2.45 2.45 0 1 0 -4.90 0M287.1 326.9a2.45 2.45 0 1 0 4.90 0a2.45 2.45 0 1 0 -4.90 0M284.3 327.9a2.45 2.45 0 1 0 4.90 0a2.45 2.45 0 1 0 -4.90 0M282.1 325.2a2.45 2.45 0 1 0 4.90 0a2.45 2.45 0 1 0 -4.90 0M278.9 325.2a2.45 2.45 0 1 0 4.90 0a2.45 2.45 0 1 0 -4.90 0M275.3 324.9a2.45 2.45 0 1 0 4.90 0a2.45 2.45 0 1 0 -4.90 0M273.2 321.9a2.45 2.45 0 1 0 4.90 0a2.45 2.45 0 1 0 -4.90 0M271.2 318.9a2.45 2.45 0 1 0 4.90 0a2.45 2.45 0 1 0 -4.90 0M268.5 317.4a2.45 2.45 0 1 0 4.90 0a2.45 2.45 0 1 0 -4.90 0M265.2 315.5a2.45 2.45 0 1 0 4.90 0a2.45 2.45 0 1 0 -4.90 0M261.5 315.5a2.45 2.45 0 1 0 4.90 0a2.45 2.45 0 1 0 -4.90 0M258.0 314.7a2.45 2.45 0 1 0 4.90 0a2.45 2.45 0 1 0 -4.90 0M255.0 317.1a2.45 2.45 0 1 0 4.90 0a2.45 2.45 0 1 0 -4.90 0M251.1 317.1a2.45 2.45 0 1 0 4.90 0a2.45 2.45 0 1 0 -4.90 0M247.4 316.8a2.45 2.45 0 1 0 4.90 0a2.45 2.45 0 1 0 -4.90 0M243.8 318.4a2.45 2.45 0 1 0 4.90 0a2.45 2.45 0 1 0 -4.90 0M239.7 318.0a2.45 2.45 0 1 0 4.90 0a2.45 2.45 0 1 0 -4.90 0M236.9 316.0a2.45 2.45 0 1 0 4.90 0a2.45 2.45 0 1 0 -4.90 0M233.6 314.6a2.45 2.45 0 1 0 4.90 0a2.45 2.45 0 1 0 -4.90 0M230.3 314.1a2.45 2.45 0 1 0 4.90 0a2.45 2.45 0 1 0 -4.90 0M226.8 314.8a2.45 2.45 0 1 0 4.90 0a2.45 2.45 0 1 0 -4.90 0M223.5 316.2a2.45 2.45 0 1 0 4.90 0a2.45 2.45 0 1 0 -4.90 0M221.2 319.5a2.45 2.45 0 1 0 4.90 0a2.45 2.45 0 1 0 -4.90 0M217.3 320.5a2.45 2.45 0 1 0 4.90 0a2.45 2.45 0 1 0 -4.90 0M213.7 319.4a2.45 2.45 0 1 0 4.90 0a2.45 2.45 0 1 0 -4.90 0M210.1 320.3a2.45 2.45 0 1 0 4.90 0a2.45 2.45 0 1 0 -4.90 0M206.6 319.8a2.45 2.45 0 1 0 4.90 0a2.45 2.45 0 1 0 -4.90 0M203.0 320.5a2.45 2.45 0 1 0 4.90 0a2.45 2.45 0 1 0 -4.90 0M199.5 319.0a2.45 2.45 0 1 0 4.90 0a2.45 2.45 0 1 0 -4.90 0M196.5 317.3a2.45 2.45 0 1 0 4.90 0a2.45 2.45 0 1 0 -4.90 0M193.1 315.5a2.45 2.45 0 1 0 4.90 0a2.45 2.45 0 1 0 -4.90 0M190.0 318.3a2.45 2.45 0 1 0 4.90 0a2.45 2.45 0 1 0 -4.90 0M185.7 317.8a2.45 2.45 0 1 0 4.90 0a2.45 2.45 0 1 0 -4.90 0M182.4 315.4a2.45 2.45 0 1 0 4.90 0a2.45 2.45 0 1 0 -4.90 0M181.9 316.2a2.45 2.45 0 1 0 4.90 0a2.45 2.45 0 1 0 -4.90 0M178.0 318.2a2.45 2.45 0 1 0 4.90 0a2.45 2.45 0 1 0 -4.90 0M174.8 315.5a2.45 2.45 0 1 0 4.90 0a2.45 2.45 0 1 0 -4.90 0M171.7 313.5a2.45 2.45 0 1 0 4.90 0a2.45 2.45 0 1 0 -4.90 0M169.9 310.1a2.45 2.45 0 1 0 4.90 0a2.45 2.45 0 1 0 -4.90 0M166.1 311.7a2.45 2.45 0 1 0 4.90 0a2.45 2.45 0 1 0 -4.90 0M162.8 310.0a2.45 2.45 0 1 0 4.90 0a2.45 2.45 0 1 0 -4.90 0M158.5 310.8a2.45 2.45 0 1 0 4.90 0a2.45 2.45 0 1 0 -4.90 0M156.3 310.9a2.45 2.45 0 1 0 4.90 0a2.45 2.45 0 1 0 -4.90 0M274.4 311.0a2.45 2.45 0 1 0 4.90 0a2.45 2.45 0 1 0 -4.90 0M274.4 314.5a2.45 2.45 0 1 0 4.90 0a2.45 2.45 0 1 0 -4.90 0M274.4 318.0a2.45 2.45 0 1 0 4.90 0a2.45 2.45 0 1 0 -4.90 0M280.8 318.0a2.45 2.45 0 1 0 4.90 0a2.45 2.45 0 1 0 -4.90 0M280.8 321.5a2.45 2.45 0 1 0 4.90 0a2.45 2.45 0 1 0 -4.90 0M289.2 321.5a2.45 2.45 0 1 0 4.90 0a2.45 2.45 0 1 0 -4.90 0M289.2 325.0a2.45 2.45 0 1 0 4.90 0a2.45 2.45 0 1 0 -4.90 0M295.6 328.5a2.45 2.45 0 1 0 4.90 0a2.45 2.45 0 1 0 -4.90 0M295.6 331.5a2.45 2.45 0 1 0 4.90 0a2.45 2.45 0 1 0 -4.90 0M304.1 332.2a2.45 2.45 0 1 0 4.90 0a2.45 2.45 0 1 0 -4.90 0M304.1 335.0a2.45 2.45 0 1 0 4.90 0a2.45 2.45 0 1 0 -4.90 0M307.6 337.5a2.45 2.45 0 1 0 4.90 0a2.45 2.45 0 1 0 -4.90 0M312.9 350.3a2.45 2.45 0 1 0 4.90 0a2.45 2.45 0 1 0 -4.90 0M314.9 351.2a2.45 2.45 0 1 0 4.90 0a2.45 2.45 0 1 0 -4.90 0M314.6 353.1a2.45 2.45 0 1 0 4.90 0a2.45 2.45 0 1 0 -4.90 0M315.5 354.5a2.45 2.45 0 1 0 4.90 0a2.45 2.45 0 1 0 -4.90 0M316.2 356.2a2.45 2.45 0 1 0 4.90 0a2.45 2.45 0 1 0 -4.90 0M317.7 355.1a2.45 2.45 0 1 0 4.90 0a2.45 2.45 0 1 0 -4.90 0M318.4 353.4a2.45 2.45 0 1 0 4.90 0a2.45 2.45 0 1 0 -4.90 0M319.6 351.5a2.45 2.45 0 1 0 4.90 0a2.45 2.45 0 1 0 -4.90 0M319.4 353.1a2.45 2.45 0 1 0 4.90 0a2.45 2.45 0 1 0 -4.90 0M319.8 354.5a2.45 2.45 0 1 0 4.90 0a2.45 2.45 0 1 0 -4.90 0M321.3 355.6a2.45 2.45 0 1 0 4.90 0a2.45 2.45 0 1 0 -4.90 0M321.5 357.1a2.45 2.45 0 1 0 4.90 0a2.45 2.45 0 1 0 -4.90 0M321.5 358.6a2.45 2.45 0 1 0 4.90 0a2.45 2.45 0 1 0 -4.90 0M322.4 359.9a2.45 2.45 0 1 0 4.90 0a2.45 2.45 0 1 0 -4.90 0M322.9 361.4a2.45 2.45 0 1 0 4.90 0a2.45 2.45 0 1 0 -4.90 0M323.3 363.1a2.45 2.45 0 1 0 4.90 0a2.45 2.45 0 1 0 -4.90 0M324.4 362.0a2.45 2.45 0 1 0 4.90 0a2.45 2.45 0 1 0 -4.90 0M324.1 360.2a2.45 2.45 0 1 0 4.90 0a2.45 2.45 0 1 0 -4.90 0M325.1 359.0a2.45 2.45 0 1 0 4.90 0a2.45 2.45 0 1 0 -4.90 0M325.9 357.7a2.45 2.45 0 1 0 4.90 0a2.45 2.45 0 1 0 -4.90 0M325.7 356.2a2.45 2.45 0 1 0 4.90 0a2.45 2.45 0 1 0 -4.90 0M326.3 357.5a2.45 2.45 0 1 0 4.90 0a2.45 2.45 0 1 0 -4.90 0M328.1 358.3a2.45 2.45 0 1 0 4.90 0a2.45 2.45 0 1 0 -4.90 0M327.0 360.3a2.45 2.45 0 1 0 4.90 0a2.45 2.45 0 1 0 -4.90 0M327.9 360.7a2.45 2.45 0 1 0 4.90 0a2.45 2.45 0 1 0 -4.90 0M329.4 359.9a2.45 2.45 0 1 0 4.90 0a2.45 2.45 0 1 0 -4.90 0M331.2 359.6a2.45 2.45 0 1 0 4.90 0a2.45 2.45 0 1 0 -4.90 0M332.2 360.6a2.45 2.45 0 1 0 4.90 0a2.45 2.45 0 1 0 -4.90 0M333.1 361.6a2.45 2.45 0 1 0 4.90 0a2.45 2.45 0 1 0 -4.90 0M334.6 362.0a2.45 2.45 0 1 0 4.90 0a2.45 2.45 0 1 0 -4.90 0M334.5 363.9a2.45 2.45 0 1 0 4.90 0a2.45 2.45 0 1 0 -4.90 0M336.3 364.4a2.45 2.45 0 1 0 4.90 0a2.45 2.45 0 1 0 -4.90 0M337.1 363.2a2.45 2.45 0 1 0 4.90 0a2.45 2.45 0 1 0 -4.90 0M336.9 361.7a2.45 2.45 0 1 0 4.90 0a2.45 2.45 0 1 0 -4.90 0M336.5 360.3a2.45 2.45 0 1 0 4.90 0a2.45 2.45 0 1 0 -4.90 0M336.5 358.8a2.45 2.45 0 1 0 4.90 0a2.45 2.45 0 1 0 -4.90 0M337.8 357.4a2.45 2.45 0 1 0 4.90 0a2.45 2.45 0 1 0 -4.90 0M337.5 355.8a2.45 2.45 0 1 0 4.90 0a2.45 2.45 0 1 0 -4.90 0M337.6 354.3a2.45 2.45 0 1 0 4.90 0a2.45 2.45 0 1 0 -4.90 0M337.7 352.5a2.45 2.45 0 1 0 4.90 0a2.45 2.45 0 1 0 -4.90 0M337.7 350.7a2.45 2.45 0 1 0 4.90 0a2.45 2.45 0 1 0 -4.90 0M338.6 349.1a2.45 2.45 0 1 0 4.90 0a2.45 2.45 0 1 0 -4.90 0M338.5 347.6a2.45 2.45 0 1 0 4.90 0a2.45 2.45 0 1 0 -4.90 0M340.0 346.4a2.45 2.45 0 1 0 4.90 0a2.45 2.45 0 1 0 -4.90 0M338.9 344.6a2.45 2.45 0 1 0 4.90 0a2.45 2.45 0 1 0 -4.90 0M341.0 343.6a2.45 2.45 0 1 0 4.90 0a2.45 2.45 0 1 0 -4.90 0M341.3 342.0a2.45 2.45 0 1 0 4.90 0a2.45 2.45 0 1 0 -4.90 0M340.9 340.1a2.45 2.45 0 1 0 4.90 0a2.45 2.45 0 1 0 -4.90 0M341.1 338.9a2.45 2.45 0 1 0 4.90 0a2.45 2.45 0 1 0 -4.90 0M341.9 340.1a2.45 2.45 0 1 0 4.90 0a2.45 2.45 0 1 0 -4.90 0M342.6 341.3a2.45 2.45 0 1 0 4.90 0a2.45 2.45 0 1 0 -4.90 0M342.4 342.8a2.45 2.45 0 1 0 4.90 0a2.45 2.45 0 1 0 -4.90 0M342.9 344.2a2.45 2.45 0 1 0 4.90 0a2.45 2.45 0 1 0 -4.90 0M344.6 344.9a2.45 2.45 0 1 0 4.90 0a2.45 2.45 0 1 0 -4.90 0M345.5 346.8a2.45 2.45 0 1 0 4.90 0a2.45 2.45 0 1 0 -4.90 0M344.5 344.6a2.45 2.45 0 1 0 4.90 0a2.45 2.45 0 1 0 -4.90 0M345.1 343.1a2.45 2.45 0 1 0 4.90 0a2.45 2.45 0 1 0 -4.90 0M346.7 341.9a2.45 2.45 0 1 0 4.90 0a2.45 2.45 0 1 0 -4.90 0M347.7 340.3a2.45 2.45 0 1 0 4.90 0a2.45 2.45 0 1 0 -4.90 0M348.1 341.8a2.45 2.45 0 1 0 4.90 0a2.45 2.45 0 1 0 -4.90 0M348.5 343.3a2.45 2.45 0 1 0 4.90 0a2.45 2.45 0 1 0 -4.90 0M349.1 344.8a2.45 2.45 0 1 0 4.90 0a2.45 2.45 0 1 0 -4.90 0M348.7 346.7a2.45 2.45 0 1 0 4.90 0a2.45 2.45 0 1 0 -4.90 0M349.1 348.5a2.45 2.45 0 1 0 4.90 0a2.45 2.45 0 1 0 -4.90 0M350.7 349.9a2.45 2.45 0 1 0 4.90 0a2.45 2.45 0 1 0 -4.90 0M351.2 351.6a2.45 2.45 0 1 0 4.90 0a2.45 2.45 0 1 0 -4.90 0M351.0 353.0a2.45 2.45 0 1 0 4.90 0a2.45 2.45 0 1 0 -4.90 0M352.3 353.8a2.45 2.45 0 1 0 4.90 0a2.45 2.45 0 1 0 -4.90 0M352.0 355.1a2.45 2.45 0 1 0 4.90 0a2.45 2.45 0 1 0 -4.90 0M353.0 353.9a2.45 2.45 0 1 0 4.90 0a2.45 2.45 0 1 0 -4.90 0M352.0 352.2a2.45 2.45 0 1 0 4.90 0a2.45 2.45 0 1 0 -4.90 0M353.9 351.2a2.45 2.45 0 1 0 4.90 0a2.45 2.45 0 1 0 -4.90 0M354.3 349.8a2.45 2.45 0 1 0 4.90 0a2.45 2.45 0 1 0 -4.90 0M354.0 348.2a2.45 2.45 0 1 0 4.90 0a2.45 2.45 0 1 0 -4.90 0M354.4 346.6a2.45 2.45 0 1 0 4.90 0a2.45 2.45 0 1 0 -4.90 0M355.5 345.4a2.45 2.45 0 1 0 4.90 0a2.45 2.45 0 1 0 -4.90 0M356.4 343.8a2.45 2.45 0 1 0 4.90 0a2.45 2.45 0 1 0 -4.90 0M355.9 345.5a2.45 2.45 0 1 0 4.90 0a2.45 2.45 0 1 0 -4.90 0M356.8 346.8a2.45 2.45 0 1 0 4.90 0a2.45 2.45 0 1 0 -4.90 0M357.7 348.0a2.45 2.45 0 1 0 4.90 0a2.45 2.45 0 1 0 -4.90 0M357.2 349.7a2.45 2.45 0 1 0 4.90 0a2.45 2.45 0 1 0 -4.90 0M358.4 351.0a2.45 2.45 0 1 0 4.90 0a2.45 2.45 0 1 0 -4.90 0M358.0 349.7a2.45 2.45 0 1 0 4.90 0a2.45 2.45 0 1 0 -4.90 0M359.2 348.5a2.45 2.45 0 1 0 4.90 0a2.45 2.45 0 1 0 -4.90 0M360.1 347.1a2.45 2.45 0 1 0 4.90 0a2.45 2.45 0 1 0 -4.90 0M361.6 346.2a2.45 2.45 0 1 0 4.90 0a2.45 2.45 0 1 0 -4.90 0M361.3 344.3a2.45 2.45 0 1 0 4.90 0a2.45 2.45 0 1 0 -4.90 0M362.4 343.2a2.45 2.45 0 1 0 4.90 0a2.45 2.45 0 1 0 -4.90 0M364.0 342.5a2.45 2.45 0 1 0 4.90 0a2.45 2.45 0 1 0 -4.90 0M364.1 340.7a2.45 2.45 0 1 0 4.90 0a2.45 2.45 0 1 0 -4.90 0M364.9 341.9a2.45 2.45 0 1 0 4.90 0a2.45 2.45 0 1 0 -4.90 0M366.6 341.1a2.45 2.45 0 1 0 4.90 0a2.45 2.45 0 1 0 -4.90 0M367.5 342.3a2.45 2.45 0 1 0 4.90 0a2.45 2.45 0 1 0 -4.90 0M368.9 343.1a2.45 2.45 0 1 0 4.90 0a2.45 2.45 0 1 0 -4.90 0M368.9 345.1a2.45 2.45 0 1 0 4.90 0a2.45 2.45 0 1 0 -4.90 0M370.4 345.7a2.45 2.45 0 1 0 4.90 0a2.45 2.45 0 1 0 -4.90 0M371.4 346.9a2.45 2.45 0 1 0 4.90 0a2.45 2.45 0 1 0 -4.90 0M371.9 348.2a2.45 2.45 0 1 0 4.90 0a2.45 2.45 0 1 0 -4.90 0M371.5 349.7a2.45 2.45 0 1 0 4.90 0a2.45 2.45 0 1 0 -4.90 0M372.1 350.4a2.45 2.45 0 1 0 4.90 0a2.45 2.45 0 1 0 -4.90 0M372.8 351.8a2.45 2.45 0 1 0 4.90 0a2.45 2.45 0 1 0 -4.90 0M373.6 352.9a2.45 2.45 0 1 0 4.90 0a2.45 2.45 0 1 0 -4.90 0M375.2 353.0a2.45 2.45 0 1 0 4.90 0a2.45 2.45 0 1 0 -4.90 0M376.6 353.9a2.45 2.45 0 1 0 4.90 0a2.45 2.45 0 1 0 -4.90 0M377.7 355.2a2.45 2.45 0 1 0 4.90 0a2.45 2.45 0 1 0 -4.90 0M378.2 356.1a2.45 2.45 0 1 0 4.90 0a2.45 2.45 0 1 0 -4.90 0M380.3 355.5a2.45 2.45 0 1 0 4.90 0a2.45 2.45 0 1 0 -4.90 0M380.0 353.3a2.45 2.45 0 1 0 4.90 0a2.45 2.45 0 1 0 -4.90 0M382.0 352.7a2.45 2.45 0 1 0 4.90 0a2.45 2.45 0 1 0 -4.90 0M382.4 350.8a2.45 2.45 0 1 0 4.90 0a2.45 2.45 0 1 0 -4.90 0M384.2 350.6a2.45 2.45 0 1 0 4.90 0a2.45 2.45 0 1 0 -4.90 0M385.7 349.8a2.45 2.45 0 1 0 4.90 0a2.45 2.45 0 1 0 -4.90 0M386.3 348.0a2.45 2.45 0 1 0 4.90 0a2.45 2.45 0 1 0 -4.90 0M388.2 347.4a2.45 2.45 0 1 0 4.90 0a2.45 2.45 0 1 0 -4.90 0M389.4 346.4a2.45 2.45 0 1 0 4.90 0a2.45 2.45 0 1 0 -4.90 0M389.8 344.6a2.45 2.45 0 1 0 4.90 0a2.45 2.45 0 1 0 -4.90 0M390.5 343.1a2.45 2.45 0 1 0 4.90 0a2.45 2.45 0 1 0 -4.90 0M390.4 341.2a2.45 2.45 0 1 0 4.90 0a2.45 2.45 0 1 0 -4.90 0M391.9 339.4a2.45 2.45 0 1 0 4.90 0a2.45 2.45 0 1 0 -4.90 0M391.3 341.2a2.45 2.45 0 1 0 4.90 0a2.45 2.45 0 1 0 -4.90 0M391.7 342.5a2.45 2.45 0 1 0 4.90 0a2.45 2.45 0 1 0 -4.90 0M393.4 343.3a2.45 2.45 0 1 0 4.90 0a2.45 2.45 0 1 0 -4.90 0M394.0 344.6a2.45 2.45 0 1 0 4.90 0a2.45 2.45 0 1 0 -4.90 0M394.0 346.1a2.45 2.45 0 1 0 4.90 0a2.45 2.45 0 1 0 -4.90 0M393.9 347.6a2.45 2.45 0 1 0 4.90 0a2.45 2.45 0 1 0 -4.90 0M394.8 348.8a2.45 2.45 0 1 0 4.90 0a2.45 2.45 0 1 0 -4.90 0M394.2 350.8a2.45 2.45 0 1 0 4.90 0a2.45 2.45 0 1 0 -4.90 0M395.1 352.3a2.45 2.45 0 1 0 4.90 0a2.45 2.45 0 1 0 -4.90 0M395.4 354.2a2.45 2.45 0 1 0 4.90 0a2.45 2.45 0 1 0 -4.90 0M396.7 355.2a2.45 2.45 0 1 0 4.90 0a2.45 2.45 0 1 0 -4.90 0M397.2 356.6a2.45 2.45 0 1 0 4.90 0a2.45 2.45 0 1 0 -4.90 0M397.5 357.9a2.45 2.45 0 1 0 4.90 0a2.45 2.45 0 1 0 -4.90 0M399.8 358.7a2.45 2.45 0 1 0 4.90 0a2.45 2.45 0 1 0 -4.90 0M399.3 360.6a2.45 2.45 0 1 0 4.90 0a2.45 2.45 0 1 0 -4.90 0M400.4 361.6a2.45 2.45 0 1 0 4.90 0a2.45 2.45 0 1 0 -4.90 0M400.6 363.7a2.45 2.45 0 1 0 4.90 0a2.45 2.45 0 1 0 -4.90 0M402.6 364.5a2.45 2.45 0 1 0 4.90 0a2.45 2.45 0 1 0 -4.90 0M402.2 366.2a2.45 2.45 0 1 0 4.90 0a2.45 2.45 0 1 0 -4.90 0M403.5 367.1a2.45 2.45 0 1 0 4.90 0a2.45 2.45 0 1 0 -4.90 0M403.5 368.6a2.45 2.45 0 1 0 4.90 0a2.45 2.45 0 1 0 -4.90 0M403.9 370.1a2.45 2.45 0 1 0 4.90 0a2.45 2.45 0 1 0 -4.90 0M404.1 371.7a2.45 2.45 0 1 0 4.90 0a2.45 2.45 0 1 0 -4.90 0M404.7 373.1a2.45 2.45 0 1 0 4.90 0a2.45 2.45 0 1 0 -4.90 0M406.1 374.0a2.45 2.45 0 1 0 4.90 0a2.45 2.45 0 1 0 -4.90 0M406.5 375.7a2.45 2.45 0 1 0 4.90 0a2.45 2.45 0 1 0 -4.90 0M408.2 375.0a2.45 2.45 0 1 0 4.90 0a2.45 2.45 0 1 0 -4.90 0M408.8 375.6a2.45 2.45 0 1 0 4.90 0a2.45 2.45 0 1 0 -4.90 0M410.5 374.8a2.45 2.45 0 1 0 4.90 0a2.45 2.45 0 1 0 -4.90 0M411.5 373.6a2.45 2.45 0 1 0 4.90 0a2.45 2.45 0 1 0 -4.90 0M411.8 372.1a2.45 2.45 0 1 0 4.90 0a2.45 2.45 0 1 0 -4.90 0M411.9 370.6a2.45 2.45 0 1 0 4.90 0a2.45 2.45 0 1 0 -4.90 0M412.7 372.1a2.45 2.45 0 1 0 4.90 0a2.45 2.45 0 1 0 -4.90 0M413.5 373.6a2.45 2.45 0 1 0 4.90 0a2.45 2.45 0 1 0 -4.90 0M414.7 374.8a2.45 2.45 0 1 0 4.90 0a2.45 2.45 0 1 0 -4.90 0M416.1 375.7a2.45 2.45 0 1 0 4.90 0a2.45 2.45 0 1 0 -4.90 0M416.3 377.5a2.45 2.45 0 1 0 4.90 0a2.45 2.45 0 1 0 -4.90 0M418.1 378.2a2.45 2.45 0 1 0 4.90 0a2.45 2.45 0 1 0 -4.90 0M417.5 379.9a2.45 2.45 0 1 0 4.90 0a2.45 2.45 0 1 0 -4.90 0M418.1 381.3a2.45 2.45 0 1 0 4.90 0a2.45 2.45 0 1 0 -4.90 0M419.6 382.6a2.45 2.45 0 1 0 4.90 0a2.45 2.45 0 1 0 -4.90 0M420.1 381.1a2.45 2.45 0 1 0 4.90 0a2.45 2.45 0 1 0 -4.90 0M420.8 379.5a2.45 2.45 0 1 0 4.90 0a2.45 2.45 0 1 0 -4.90 0M421.2 377.9a2.45 2.45 0 1 0 4.90 0a2.45 2.45 0 1 0 -4.90 0M420.7 376.1a2.45 2.45 0 1 0 4.90 0a2.45 2.45 0 1 0 -4.90 0M420.8 374.4a2.45 2.45 0 1 0 4.90 0a2.45 2.45 0 1 0 -4.90 0M421.2 373.3a2.45 2.45 0 1 0 4.90 0a2.45 2.45 0 1 0 -4.90 0M422.2 374.3a2.45 2.45 0 1 0 4.90 0a2.45 2.45 0 1 0 -4.90 0M423.7 374.3a2.45 2.45 0 1 0 4.90 0a2.45 2.45 0 1 0 -4.90 0M425.9 374.2a2.45 2.45 0 1 0 4.90 0a2.45 2.45 0 1 0 -4.90 0M426.7 375.6a2.45 2.45 0 1 0 4.90 0a2.45 2.45 0 1 0 -4.90 0M426.7 377.5a2.45 2.45 0 1 0 4.90 0a2.45 2.45 0 1 0 -4.90 0M427.0 379.2a2.45 2.45 0 1 0 4.90 0a2.45 2.45 0 1 0 -4.90 0M427.7 380.8a2.45 2.45 0 1 0 4.90 0a2.45 2.45 0 1 0 -4.90 0M429.0 381.8a2.45 2.45 0 1 0 4.90 0a2.45 2.45 0 1 0 -4.90 0M430.0 380.7a2.45 2.45 0 1 0 4.90 0a2.45 2.45 0 1 0 -4.90 0M430.8 379.5a2.45 2.45 0 1 0 4.90 0a2.45 2.45 0 1 0 -4.90 0M430.8 377.9a2.45 2.45 0 1 0 4.90 0a2.45 2.45 0 1 0 -4.90 0M432.6 376.2a2.45 2.45 0 1 0 4.90 0a2.45 2.45 0 1 0 -4.90 0M433.7 377.7a2.45 2.45 0 1 0 4.90 0a2.45 2.45 0 1 0 -4.90 0M435.2 378.3a2.45 2.45 0 1 0 4.90 0a2.45 2.45 0 1 0 -4.90 0M435.4 380.0a2.45 2.45 0 1 0 4.90 0a2.45 2.45 0 1 0 -4.90 0M437.3 380.7a2.45 2.45 0 1 0 4.90 0a2.45 2.45 0 1 0 -4.90 0M436.9 382.7a2.45 2.45 0 1 0 4.90 0a2.45 2.45 0 1 0 -4.90 0M438.6 383.4a2.45 2.45 0 1 0 4.90 0a2.45 2.45 0 1 0 -4.90 0M439.4 385.0a2.45 2.45 0 1 0 4.90 0a2.45 2.45 0 1 0 -4.90 0M440.4 386.4a2.45 2.45 0 1 0 4.90 0a2.45 2.45 0 1 0 -4.90 0M442.5 386.9a2.45 2.45 0 1 0 4.90 0a2.45 2.45 0 1 0 -4.90 0M442.0 389.3a2.45 2.45 0 1 0 4.90 0a2.45 2.45 0 1 0 -4.90 0M444.1 391.1a2.45 2.45 0 1 0 4.90 0a2.45 2.45 0 1 0 -4.90 0M445.6 390.2a2.45 2.45 0 1 0 4.90 0a2.45 2.45 0 1 0 -4.90 0M447.4 388.0a2.45 2.45 0 1 0 4.90 0a2.45 2.45 0 1 0 -4.90 0M447.2 390.1a2.45 2.45 0 1 0 4.90 0a2.45 2.45 0 1 0 -4.90 0M448.1 391.7a2.45 2.45 0 1 0 4.90 0a2.45 2.45 0 1 0 -4.90 0M448.6 393.4a2.45 2.45 0 1 0 4.90 0a2.45 2.45 0 1 0 -4.90 0M450.7 394.3a2.45 2.45 0 1 0 4.90 0a2.45 2.45 0 1 0 -4.90 0M451.3 395.5a2.45 2.45 0 1 0 4.90 0a2.45 2.45 0 1 0 -4.90 0M450.4 397.1a2.45 2.45 0 1 0 4.90 0a2.45 2.45 0 1 0 -4.90 0M451.0 397.8a2.45 2.45 0 1 0 4.90 0a2.45 2.45 0 1 0 -4.90 0M451.7 396.3a2.45 2.45 0 1 0 4.90 0a2.45 2.45 0 1 0 -4.90 0M452.7 395.2a2.45 2.45 0 1 0 4.90 0a2.45 2.45 0 1 0 -4.90 0M454.2 394.7a2.45 2.45 0 1 0 4.90 0a2.45 2.45 0 1 0 -4.90 0M455.3 395.4a2.45 2.45 0 1 0 4.90 0a2.45 2.45 0 1 0 -4.90 0M456.0 396.5a2.45 2.45 0 1 0 4.90 0a2.45 2.45 0 1 0 -4.90 0M456.9 397.3a2.45 2.45 0 1 0 4.90 0a2.45 2.45 0 1 0 -4.90 0M459.3 397.4a2.45 2.45 0 1 0 4.90 0a2.45 2.45 0 1 0 -4.90 0M460.4 399.9a2.45 2.45 0 1 0 4.90 0a2.45 2.45 0 1 0 -4.90 0M461.3 398.8a2.45 2.45 0 1 0 4.90 0a2.45 2.45 0 1 0 -4.90 0M462.4 397.9a2.45 2.45 0 1 0 4.90 0a2.45 2.45 0 1 0 -4.90 0M462.3 396.6a2.45 2.45 0 1 0 4.90 0a2.45 2.45 0 1 0 -4.90 0M463.9 397.4a2.45 2.45 0 1 0 4.90 0a2.45 2.45 0 1 0 -4.90 0M465.1 398.4a2.45 2.45 0 1 0 4.90 0a2.45 2.45 0 1 0 -4.90 0M465.8 399.9a2.45 2.45 0 1 0 4.90 0a2.45 2.45 0 1 0 -4.90 0M313.4 353.6a2.45 2.45 0 1 0 4.90 0a2.45 2.45 0 1 0 -4.90 0M314.9 353.2a2.45 2.45 0 1 0 4.90 0a2.45 2.45 0 1 0 -4.90 0M316.2 353.7a2.45 2.45 0 1 0 4.90 0a2.45 2.45 0 1 0 -4.90 0M317.3 354.2a2.45 2.45 0 1 0 4.90 0a2.45 2.45 0 1 0 -4.90 0M318.3 355.6a2.45 2.45 0 1 0 4.90 0a2.45 2.45 0 1 0 -4.90 0M319.3 357.2a2.45 2.45 0 1 0 4.90 0a2.45 2.45 0 1 0 -4.90 0M320.4 358.6a2.45 2.45 0 1 0 4.90 0a2.45 2.45 0 1 0 -4.90 0M321.6 360.0a2.45 2.45 0 1 0 4.90 0a2.45 2.45 0 1 0 -4.90 0M338.6 347.0a2.45 2.45 0 1 0 4.90 0a2.45 2.45 0 1 0 -4.90 0M339.6 345.7a2.45 2.45 0 1 0 4.90 0a2.45 2.45 0 1 0 -4.90 0M339.9 343.9a2.45 2.45 0 1 0 4.90 0a2.45 2.45 0 1 0 -4.90 0M340.5 342.4a2.45 2.45 0 1 0 4.90 0a2.45 2.45 0 1 0 -4.90 0M341.6 341.0a2.45 2.45 0 1 0 4.90 0a2.45 2.45 0 1 0 -4.90 0M397.0 358.3a2.45 2.45 0 1 0 4.90 0a2.45 2.45 0 1 0 -4.90 0M397.9 359.7a2.45 2.45 0 1 0 4.90 0a2.45 2.45 0 1 0 -4.90 0M398.8 361.1a2.45 2.45 0 1 0 4.90 0a2.45 2.45 0 1 0 -4.90 0M400.2 362.3a2.45 2.45 0 1 0 4.90 0a2.45 2.45 0 1 0 -4.90 0M400.6 364.0a2.45 2.45 0 1 0 4.90 0a2.45 2.45 0 1 0 -4.90 0M519.6 399.9a2.45 2.45 0 1 0 4.90 0a2.45 2.45 0 1 0 -4.90 0M519.4 403.5a2.45 2.45 0 1 0 4.90 0a2.45 2.45 0 1 0 -4.90 0M522.3 401.1a2.45 2.45 0 1 0 4.90 0a2.45 2.45 0 1 0 -4.90 0M526.5 399.7a2.45 2.45 0 1 0 4.90 0a2.45 2.45 0 1 0 -4.90 0M528.9 403.2a2.45 2.45 0 1 0 4.90 0a2.45 2.45 0 1 0 -4.90 0M531.2 405.8a2.45 2.45 0 1 0 4.90 0a2.45 2.45 0 1 0 -4.90 0M535.0 406.0a2.45 2.45 0 1 0 4.90 0a2.45 2.45 0 1 0 -4.90 0M538.2 406.3a2.45 2.45 0 1 0 4.90 0a2.45 2.45 0 1 0 -4.90 0M540.8 405.1a2.45 2.45 0 1 0 4.90 0a2.45 2.45 0 1 0 -4.90 0M543.1 402.5a2.45 2.45 0 1 0 4.90 0a2.45 2.45 0 1 0 -4.90 0M547.0 402.3a2.45 2.45 0 1 0 4.90 0a2.45 2.45 0 1 0 -4.90 0M550.1 404.4a2.45 2.45 0 1 0 4.90 0a2.45 2.45 0 1 0 -4.90 0M553.5 404.9a2.45 2.45 0 1 0 4.90 0a2.45 2.45 0 1 0 -4.90 0M555.9 407.3a2.45 2.45 0 1 0 4.90 0a2.45 2.45 0 1 0 -4.90 0M557.9 410.4a2.45 2.45 0 1 0 4.90 0a2.45 2.45 0 1 0 -4.90 0M560.0 406.6a2.45 2.45 0 1 0 4.90 0a2.45 2.45 0 1 0 -4.90 0M564.2 407.8a2.45 2.45 0 1 0 4.90 0a2.45 2.45 0 1 0 -4.90 0M567.5 406.5a2.45 2.45 0 1 0 4.90 0a2.45 2.45 0 1 0 -4.90 0M571.0 406.6a2.45 2.45 0 1 0 4.90 0a2.45 2.45 0 1 0 -4.90 0M572.8 404.6a2.45 2.45 0 1 0 4.90 0a2.45 2.45 0 1 0 -4.90 0M572.8 401.5a2.45 2.45 0 1 0 4.90 0a2.45 2.45 0 1 0 -4.90 0M571.9 397.7a2.45 2.45 0 1 0 4.90 0a2.45 2.45 0 1 0 -4.90 0M568.5 397.7a2.45 2.45 0 1 0 4.90 0a2.45 2.45 0 1 0 -4.90 0M565.9 395.6a2.45 2.45 0 1 0 4.90 0a2.45 2.45 0 1 0 -4.90 0M563.1 394.5a2.45 2.45 0 1 0 4.90 0a2.45 2.45 0 1 0 -4.90 0M560.7 397.4a2.45 2.45 0 1 0 4.90 0a2.45 2.45 0 1 0 -4.90 0M557.6 398.9a2.45 2.45 0 1 0 4.90 0a2.45 2.45 0 1 0 -4.90 0M554.8 401.4a2.45 2.45 0 1 0 4.90 0a2.45 2.45 0 1 0 -4.90 0M552.2 403.9a2.45 2.45 0 1 0 4.90 0a2.45 2.45 0 1 0 -4.90 0M549.0 402.9a2.45 2.45 0 1 0 4.90 0a2.45 2.45 0 1 0 -4.90 0M546.2 400.7a2.45 2.45 0 1 0 4.90 0a2.45 2.45 0 1 0 -4.90 0M543.1 398.8a2.45 2.45 0 1 0 4.90 0a2.45 2.45 0 1 0 -4.90 0M541.9 401.1a2.45 2.45 0 1 0 4.90 0a2.45 2.45 0 1 0 -4.90 0M538.6 403.2a2.45 2.45 0 1 0 4.90 0a2.45 2.45 0 1 0 -4.90 0M535.9 406.3a2.45 2.45 0 1 0 4.90 0a2.45 2.45 0 1 0 -4.90 0M532.5 403.8a2.45 2.45 0 1 0 4.90 0a2.45 2.45 0 1 0 -4.90 0M529.1 401.8a2.45 2.45 0 1 0 4.90 0a2.45 2.45 0 1 0 -4.90 0M528.7 397.5a2.45 2.45 0 1 0 4.90 0a2.45 2.45 0 1 0 -4.90 0M524.4 396.0a2.45 2.45 0 1 0 4.90 0a2.45 2.45 0 1 0 -4.90 0M521.7 398.0a2.45 2.45 0 1 0 4.90 0a2.45 2.45 0 1 0 -4.90 0M534.5 405.1a2.45 2.45 0 1 0 4.90 0a2.45 2.45 0 1 0 -4.90 0M536.0 405.1a2.45 2.45 0 1 0 4.90 0a2.45 2.45 0 1 0 -4.90 0M537.5 405.4a2.45 2.45 0 1 0 4.90 0a2.45 2.45 0 1 0 -4.90 0M549.5 403.9a2.45 2.45 0 1 0 4.90 0a2.45 2.45 0 1 0 -4.90 0M551.0 404.6a2.45 2.45 0 1 0 4.90 0a2.45 2.45 0 1 0 -4.90 0M447.5 388.6a2.45 2.45 0 1 0 4.90 0a2.45 2.45 0 1 0 -4.90 0M448.9 390.0a2.45 2.45 0 1 0 4.90 0a2.45 2.45 0 1 0 -4.90 0M448.5 391.9a2.45 2.45 0 1 0 4.90 0a2.45 2.45 0 1 0 -4.90 0M449.3 393.4a2.45 2.45 0 1 0 4.90 0a2.45 2.45 0 1 0 -4.90 0M450.6 396.0a2.45 2.45 0 1 0 4.90 0a2.45 2.45 0 1 0 -4.90 0M451.0 397.4a2.45 2.45 0 1 0 4.90 0a2.45 2.45 0 1 0 -4.90 0M451.0 398.9a2.45 2.45 0 1 0 4.90 0a2.45 2.45 0 1 0 -4.90 0M452.2 397.7a2.45 2.45 0 1 0 4.90 0a2.45 2.45 0 1 0 -4.90 0M451.7 395.7a2.45 2.45 0 1 0 4.90 0a2.45 2.45 0 1 0 -4.90 0M453.6 395.4a2.45 2.45 0 1 0 4.90 0a2.45 2.45 0 1 0 -4.90 0M454.2 394.0a2.45 2.45 0 1 0 4.90 0a2.45 2.45 0 1 0 -4.90 0M455.5 393.2a2.45 2.45 0 1 0 4.90 0a2.45 2.45 0 1 0 -4.90 0M455.6 395.1a2.45 2.45 0 1 0 4.90 0a2.45 2.45 0 1 0 -4.90 0M457.0 396.4a2.45 2.45 0 1 0 4.90 0a2.45 2.45 0 1 0 -4.90 0M456.9 398.5a2.45 2.45 0 1 0 4.90 0a2.45 2.45 0 1 0 -4.90 0M458.4 399.1a2.45 2.45 0 1 0 4.90 0a2.45 2.45 0 1 0 -4.90 0M459.3 400.3a2.45 2.45 0 1 0 4.90 0a2.45 2.45 0 1 0 -4.90 0M459.5 398.6a2.45 2.45 0 1 0 4.90 0a2.45 2.45 0 1 0 -4.90 0M460.2 397.2a2.45 2.45 0 1 0 4.90 0a2.45 2.45 0 1 0 -4.90 0M461.9 396.7a2.45 2.45 0 1 0 4.90 0a2.45 2.45 0 1 0 -4.90 0M462.6 395.5a2.45 2.45 0 1 0 4.90 0a2.45 2.45 0 1 0 -4.90 0M463.7 394.7a2.45 2.45 0 1 0 4.90 0a2.45 2.45 0 1 0 -4.90 0M463.5 396.5a2.45 2.45 0 1 0 4.90 0a2.45 2.45 0 1 0 -4.90 0M463.7 398.2a2.45 2.45 0 1 0 4.90 0a2.45 2.45 0 1 0 -4.90 0M464.3 399.4a2.45 2.45 0 1 0 4.90 0a2.45 2.45 0 1 0 -4.90 0M466.4 398.2a2.45 2.45 0 1 0 4.90 0a2.45 2.45 0 1 0 -4.90 0M464.9 396.1a2.45 2.45 0 1 0 4.90 0a2.45 2.45 0 1 0 -4.90 0M466.6 394.8a2.45 2.45 0 1 0 4.90 0a2.45 2.45 0 1 0 -4.90 0M466.4 393.1a2.45 2.45 0 1 0 4.90 0a2.45 2.45 0 1 0 -4.90 0M466.8 391.6a2.45 2.45 0 1 0 4.90 0a2.45 2.45 0 1 0 -4.90 0M467.7 390.2a2.45 2.45 0 1 0 4.90 0a2.45 2.45 0 1 0 -4.90 0M469.0 389.1a2.45 2.45 0 1 0 4.90 0a2.45 2.45 0 1 0 -4.90 0M469.8 387.6a2.45 2.45 0 1 0 4.90 0a2.45 2.45 0 1 0 -4.90 0M470.8 386.7a2.45 2.45 0 1 0 4.90 0a2.45 2.45 0 1 0 -4.90 0M470.6 388.5a2.45 2.45 0 1 0 4.90 0a2.45 2.45 0 1 0 -4.90 0M472.3 390.1a2.45 2.45 0 1 0 4.90 0a2.45 2.45 0 1 0 -4.90 0M472.4 391.8a2.45 2.45 0 1 0 4.90 0a2.45 2.45 0 1 0 -4.90 0M471.9 393.5a2.45 2.45 0 1 0 4.90 0a2.45 2.45 0 1 0 -4.90 0M472.6 395.0a2.45 2.45 0 1 0 4.90 0a2.45 2.45 0 1 0 -4.90 0M473.0 396.6a2.45 2.45 0 1 0 4.90 0a2.45 2.45 0 1 0 -4.90 0M472.9 398.2a2.45 2.45 0 1 0 4.90 0a2.45 2.45 0 1 0 -4.90 0M473.1 399.4a2.45 2.45 0 1 0 4.90 0a2.45 2.45 0 1 0 -4.90 0M474.7 400.5a2.45 2.45 0 1 0 4.90 0a2.45 2.45 0 1 0 -4.90 0M475.3 398.9a2.45 2.45 0 1 0 4.90 0a2.45 2.45 0 1 0 -4.90 0M475.5 397.2a2.45 2.45 0 1 0 4.90 0a2.45 2.45 0 1 0 -4.90 0M475.0 395.4a2.45 2.45 0 1 0 4.90 0a2.45 2.45 0 1 0 -4.90 0M476.1 393.8a2.45 2.45 0 1 0 4.90 0a2.45 2.45 0 1 0 -4.90 0M475.8 392.1a2.45 2.45 0 1 0 4.90 0a2.45 2.45 0 1 0 -4.90 0M474.9 390.0a2.45 2.45 0 1 0 4.90 0a2.45 2.45 0 1 0 -4.90 0M476.7 390.4a2.45 2.45 0 1 0 4.90 0a2.45 2.45 0 1 0 -4.90 0M477.2 389.0a2.45 2.45 0 1 0 4.90 0a2.45 2.45 0 1 0 -4.90 0M477.1 392.0a2.45 2.45 0 1 0 4.90 0a2.45 2.45 0 1 0 -4.90 0M477.0 393.5a2.45 2.45 0 1 0 4.90 0a2.45 2.45 0 1 0 -4.90 0M477.8 394.8a2.45 2.45 0 1 0 4.90 0a2.45 2.45 0 1 0 -4.90 0M477.7 396.6a2.45 2.45 0 1 0 4.90 0a2.45 2.45 0 1 0 -4.90 0M479.9 397.7a2.45 2.45 0 1 0 4.90 0a2.45 2.45 0 1 0 -4.90 0M480.2 398.9a2.45 2.45 0 1 0 4.90 0a2.45 2.45 0 1 0 -4.90 0M480.7 399.9a2.45 2.45 0 1 0 4.90 0a2.45 2.45 0 1 0 -4.90 0M481.1 401.1a2.45 2.45 0 1 0 4.90 0a2.45 2.45 0 1 0 -4.90 0M481.5 399.8a2.45 2.45 0 1 0 4.90 0a2.45 2.45 0 1 0 -4.90 0M481.6 398.2a2.45 2.45 0 1 0 4.90 0a2.45 2.45 0 1 0 -4.90 0M482.5 397.2a2.45 2.45 0 1 0 4.90 0a2.45 2.45 0 1 0 -4.90 0M483.9 396.4a2.45 2.45 0 1 0 4.90 0a2.45 2.45 0 1 0 -4.90 0M484.3 395.1a2.45 2.45 0 1 0 4.90 0a2.45 2.45 0 1 0 -4.90 0M485.4 394.5a2.45 2.45 0 1 0 4.90 0a2.45 2.45 0 1 0 -4.90 0M486.1 393.4a2.45 2.45 0 1 0 4.90 0a2.45 2.45 0 1 0 -4.90 0M486.4 393.4a2.45 2.45 0 1 0 4.90 0a2.45 2.45 0 1 0 -4.90 0M487.4 394.2a2.45 2.45 0 1 0 4.90 0a2.45 2.45 0 1 0 -4.90 0M488.6 395.0a2.45 2.45 0 1 0 4.90 0a2.45 2.45 0 1 0 -4.90 0M489.6 396.0a2.45 2.45 0 1 0 4.90 0a2.45 2.45 0 1 0 -4.90 0M489.9 397.3a2.45 2.45 0 1 0 4.90 0a2.45 2.45 0 1 0 -4.90 0M489.8 398.7a2.45 2.45 0 1 0 4.90 0a2.45 2.45 0 1 0 -4.90 0M489.6 399.9a2.45 2.45 0 1 0 4.90 0a2.45 2.45 0 1 0 -4.90 0M489.9 401.5a2.45 2.45 0 1 0 4.90 0a2.45 2.45 0 1 0 -4.90 0M490.5 402.9a2.45 2.45 0 1 0 4.90 0a2.45 2.45 0 1 0 -4.90 0M490.1 404.5a2.45 2.45 0 1 0 4.90 0a2.45 2.45 0 1 0 -4.90 0M489.7 402.8a2.45 2.45 0 1 0 4.90 0a2.45 2.45 0 1 0 -4.90 0M491.5 401.7a2.45 2.45 0 1 0 4.90 0a2.45 2.45 0 1 0 -4.90 0M491.2 400.0a2.45 2.45 0 1 0 4.90 0a2.45 2.45 0 1 0 -4.90 0M490.6 398.3a2.45 2.45 0 1 0 4.90 0a2.45 2.45 0 1 0 -4.90 0M491.4 397.0a2.45 2.45 0 1 0 4.90 0a2.45 2.45 0 1 0 -4.90 0M491.3 395.6a2.45 2.45 0 1 0 4.90 0a2.45 2.45 0 1 0 -4.90 0M491.1 394.3a2.45 2.45 0 1 0 4.90 0a2.45 2.45 0 1 0 -4.90 0M491.7 392.9a2.45 2.45 0 1 0 4.90 0a2.45 2.45 0 1 0 -4.90 0M492.0 391.7a2.45 2.45 0 1 0 4.90 0a2.45 2.45 0 1 0 -4.90 0M493.9 391.1a2.45 2.45 0 1 0 4.90 0a2.45 2.45 0 1 0 -4.90 0M493.4 393.0a2.45 2.45 0 1 0 4.90 0a2.45 2.45 0 1 0 -4.90 0M494.4 394.4a2.45 2.45 0 1 0 4.90 0a2.45 2.45 0 1 0 -4.90 0M494.5 396.1a2.45 2.45 0 1 0 4.90 0a2.45 2.45 0 1 0 -4.90 0M495.3 397.4a2.45 2.45 0 1 0 4.90 0a2.45 2.45 0 1 0 -4.90 0M495.6 398.8a2.45 2.45 0 1 0 4.90 0a2.45 2.45 0 1 0 -4.90 0M496.4 400.0a2.45 2.45 0 1 0 4.90 0a2.45 2.45 0 1 0 -4.90 0M496.6 401.5a2.45 2.45 0 1 0 4.90 0a2.45 2.45 0 1 0 -4.90 0M496.7 403.0a2.45 2.45 0 1 0 4.90 0a2.45 2.45 0 1 0 -4.90 0M497.1 404.5a2.45 2.45 0 1 0 4.90 0a2.45 2.45 0 1 0 -4.90 0M496.3 406.1a2.45 2.45 0 1 0 4.90 0a2.45 2.45 0 1 0 -4.90 0M496.7 407.3a2.45 2.45 0 1 0 4.90 0a2.45 2.45 0 1 0 -4.90 0M497.2 406.0a2.45 2.45 0 1 0 4.90 0a2.45 2.45 0 1 0 -4.90 0M497.9 404.9a2.45 2.45 0 1 0 4.90 0a2.45 2.45 0 1 0 -4.90 0M499.3 403.9a2.45 2.45 0 1 0 4.90 0a2.45 2.45 0 1 0 -4.90 0M499.8 402.4a2.45 2.45 0 1 0 4.90 0a2.45 2.45 0 1 0 -4.90 0M499.5 400.7a2.45 2.45 0 1 0 4.90 0a2.45 2.45 0 1 0 -4.90 0M499.4 399.1a2.45 2.45 0 1 0 4.90 0a2.45 2.45 0 1 0 -4.90 0M500.3 397.6a2.45 2.45 0 1 0 4.90 0a2.45 2.45 0 1 0 -4.90 0M501.0 396.1a2.45 2.45 0 1 0 4.90 0a2.45 2.45 0 1 0 -4.90 0M500.0 394.4a2.45 2.45 0 1 0 4.90 0a2.45 2.45 0 1 0 -4.90 0M501.1 392.9a2.45 2.45 0 1 0 4.90 0a2.45 2.45 0 1 0 -4.90 0M501.4 391.3a2.45 2.45 0 1 0 4.90 0a2.45 2.45 0 1 0 -4.90 0M500.9 389.6a2.45 2.45 0 1 0 4.90 0a2.45 2.45 0 1 0 -4.90 0M500.8 388.1a2.45 2.45 0 1 0 4.90 0a2.45 2.45 0 1 0 -4.90 0M502.1 387.0a2.45 2.45 0 1 0 4.90 0a2.45 2.45 0 1 0 -4.90 0M502.8 385.3a2.45 2.45 0 1 0 4.90 0a2.45 2.45 0 1 0 -4.90 0M503.0 386.8a2.45 2.45 0 1 0 4.90 0a2.45 2.45 0 1 0 -4.90 0M503.2 388.3a2.45 2.45 0 1 0 4.90 0a2.45 2.45 0 1 0 -4.90 0M502.9 389.8a2.45 2.45 0 1 0 4.90 0a2.45 2.45 0 1 0 -4.90 0M504.7 391.0a2.45 2.45 0 1 0 4.90 0a2.45 2.45 0 1 0 -4.90 0M504.9 392.4a2.45 2.45 0 1 0 4.90 0a2.45 2.45 0 1 0 -4.90 0M504.1 393.8a2.45 2.45 0 1 0 4.90 0a2.45 2.45 0 1 0 -4.90 0M503.4 395.3a2.45 2.45 0 1 0 4.90 0a2.45 2.45 0 1 0 -4.90 0M505.3 396.4a2.45 2.45 0 1 0 4.90 0a2.45 2.45 0 1 0 -4.90 0M504.4 398.0a2.45 2.45 0 1 0 4.90 0a2.45 2.45 0 1 0 -4.90 0M505.8 399.2a2.45 2.45 0 1 0 4.90 0a2.45 2.45 0 1 0 -4.90 0M504.9 400.7a2.45 2.45 0 1 0 4.90 0a2.45 2.45 0 1 0 -4.90 0M506.1 401.8a2.45 2.45 0 1 0 4.90 0a2.45 2.45 0 1 0 -4.90 0M505.3 403.4a2.45 2.45 0 1 0 4.90 0a2.45 2.45 0 1 0 -4.90 0M505.6 404.4a2.45 2.45 0 1 0 4.90 0a2.45 2.45 0 1 0 -4.90 0M506.9 403.8a2.45 2.45 0 1 0 4.90 0a2.45 2.45 0 1 0 -4.90 0M507.0 402.2a2.45 2.45 0 1 0 4.90 0a2.45 2.45 0 1 0 -4.90 0M507.5 400.9a2.45 2.45 0 1 0 4.90 0a2.45 2.45 0 1 0 -4.90 0M508.5 400.3a2.45 2.45 0 1 0 4.90 0a2.45 2.45 0 1 0 -4.90 0M510.2 399.8a2.45 2.45 0 1 0 4.90 0a2.45 2.45 0 1 0 -4.90 0M510.9 401.3a2.45 2.45 0 1 0 4.90 0a2.45 2.45 0 1 0 -4.90 0M511.3 402.8a2.45 2.45 0 1 0 4.90 0a2.45 2.45 0 1 0 -4.90 0M511.2 404.6a2.45 2.45 0 1 0 4.90 0a2.45 2.45 0 1 0 -4.90 0M512.2 405.8a2.45 2.45 0 1 0 4.90 0a2.45 2.45 0 1 0 -4.90 0M513.3 407.6a2.45 2.45 0 1 0 4.90 0a2.45 2.45 0 1 0 -4.90 0M514.0 405.9a2.45 2.45 0 1 0 4.90 0a2.45 2.45 0 1 0 -4.90 0M515.2 404.6a2.45 2.45 0 1 0 4.90 0a2.45 2.45 0 1 0 -4.90 0M516.3 403.8a2.45 2.45 0 1 0 4.90 0a2.45 2.45 0 1 0 -4.90 0M517.3 403.0a2.45 2.45 0 1 0 4.90 0a2.45 2.45 0 1 0 -4.90 0M517.6 401.6a2.45 2.45 0 1 0 4.90 0a2.45 2.45 0 1 0 -4.90 0M518.2 400.0a2.45 2.45 0 1 0 4.90 0a2.45 2.45 0 1 0 -4.90 0M519.8 400.0a2.45 2.45 0 1 0 4.90 0a2.45 2.45 0 1 0 -4.90 0M459.5 398.9a2.45 2.45 0 1 0 4.90 0a2.45 2.45 0 1 0 -4.90 0M460.6 397.8a2.45 2.45 0 1 0 4.90 0a2.45 2.45 0 1 0 -4.90 0M462.3 398.2a2.45 2.45 0 1 0 4.90 0a2.45 2.45 0 1 0 -4.90 0M463.3 396.8a2.45 2.45 0 1 0 4.90 0a2.45 2.45 0 1 0 -4.90 0M464.9 397.1a2.45 2.45 0 1 0 4.90 0a2.45 2.45 0 1 0 -4.90 0M466.0 396.0a2.45 2.45 0 1 0 4.90 0a2.45 2.45 0 1 0 -4.90 0M467.6 396.0a2.45 2.45 0 1 0 4.90 0a2.45 2.45 0 1 0 -4.90 0M482.9 399.5a2.45 2.45 0 1 0 4.90 0a2.45 2.45 0 1 0 -4.90 0M483.7 397.5a2.45 2.45 0 1 0 4.90 0a2.45 2.45 0 1 0 -4.90 0M485.4 397.2a2.45 2.45 0 1 0 4.90 0a2.45 2.45 0 1 0 -4.90 0M486.4 397.8a2.45 2.45 0 1 0 4.90 0a2.45 2.45 0 1 0 -4.90 0M487.6 398.0a2.45 2.45 0 1 0 4.90 0a2.45 2.45 0 1 0 -4.90 0M493.3 393.7a2.45 2.45 0 1 0 4.90 0a2.45 2.45 0 1 0 -4.90 0M494.4 393.4a2.45 2.45 0 1 0 4.90 0a2.45 2.45 0 1 0 -4.90 0M495.3 392.4a2.45 2.45 0 1 0 4.90 0a2.45 2.45 0 1 0 -4.90 0M496.2 394.1a2.45 2.45 0 1 0 4.90 0a2.45 2.45 0 1 0 -4.90 0M496.9 395.9a2.45 2.45 0 1 0 4.90 0a2.45 2.45 0 1 0 -4.90 0M497.8 397.1a2.45 2.45 0 1 0 4.90 0a2.45 2.45 0 1 0 -4.90 0M497.3 398.8a2.45 2.45 0 1 0 4.90 0a2.45 2.45 0 1 0 -4.90 0M498.1 400.0a2.45 2.45 0 1 0 4.90 0a2.45 2.45 0 1 0 -4.90 0M501.0 390.5a2.45 2.45 0 1 0 4.90 0a2.45 2.45 0 1 0 -4.90 0M501.9 391.7a2.45 2.45 0 1 0 4.90 0a2.45 2.45 0 1 0 -4.90 0M503.2 392.9a2.45 2.45 0 1 0 4.90 0a2.45 2.45 0 1 0 -4.90 0M502.2 394.7a2.45 2.45 0 1 0 4.90 0a2.45 2.45 0 1 0 -4.90 0M502.8 396.3a2.45 2.45 0 1 0 4.90 0a2.45 2.45 0 1 0 -4.90 0M503.1 398.0a2.45 2.45 0 1 0 4.90 0a2.45 2.45 0 1 0 -4.90 0M574.0 389.6a2.45 2.45 0 1 0 4.90 0a2.45 2.45 0 1 0 -4.90 0M197.8 317.4a2.45 2.45 0 1 0 4.90 0a2.45 2.45 0 1 0 -4.90 0M198.4 322.1a2.45 2.45 0 1 0 4.90 0a2.45 2.45 0 1 0 -4.90 0M201.6 318.1a2.45 2.45 0 1 0 4.90 0a2.45 2.45 0 1 0 -4.90 0M204.3 317.3a2.45 2.45 0 1 0 4.90 0a2.45 2.45 0 1 0 -4.90 0M204.5 327.0a2.45 2.45 0 1 0 4.90 0a2.45 2.45 0 1 0 -4.90 0M213.5 330.2a2.45 2.45 0 1 0 4.90 0a2.45 2.45 0 1 0 -4.90 0M216.2 318.2a2.45 2.45 0 1 0 4.90 0a2.45 2.45 0 1 0 -4.90 0M219.5 331.5a2.45 2.45 0 1 0 4.90 0a2.45 2.45 0 1 0 -4.90 0M223.0 315.0a2.45 2.45 0 1 0 4.90 0a2.45 2.45 0 1 0 -4.90 0M222.6 332.9a2.45 2.45 0 1 0 4.90 0a2.45 2.45 0 1 0 -4.90 0M225.8 331.3a2.45 2.45 0 1 0 4.90 0a2.45 2.45 0 1 0 -4.90 0M230.4 313.4a2.45 2.45 0 1 0 4.90 0a2.45 2.45 0 1 0 -4.90 0M232.1 313.4a2.45 2.45 0 1 0 4.90 0a2.45 2.45 0 1 0 -4.90 0M235.1 313.0a2.45 2.45 0 1 0 4.90 0a2.45 2.45 0 1 0 -4.90 0M236.1 329.8a2.45 2.45 0 1 0 4.90 0a2.45 2.45 0 1 0 -4.90 0M238.3 314.0a2.45 2.45 0 1 0 4.90 0a2.45 2.45 0 1 0 -4.90 0M239.8 328.7a2.45 2.45 0 1 0 4.90 0a2.45 2.45 0 1 0 -4.90 0M242.8 315.2a2.45 2.45 0 1 0 4.90 0a2.45 2.45 0 1 0 -4.90 0M242.5 329.7a2.45 2.45 0 1 0 4.90 0a2.45 2.45 0 1 0 -4.90 0M244.9 331.7a2.45 2.45 0 1 0 4.90 0a2.45 2.45 0 1 0 -4.90 0M248.3 316.2a2.45 2.45 0 1 0 4.90 0a2.45 2.45 0 1 0 -4.90 0M251.4 314.7a2.45 2.45 0 1 0 4.90 0a2.45 2.45 0 1 0 -4.90 0M252.9 333.1a2.45 2.45 0 1 0 4.90 0a2.45 2.45 0 1 0 -4.90 0M254.8 334.5a2.45 2.45 0 1 0 4.90 0a2.45 2.45 0 1 0 -4.90 0M258.2 331.7a2.45 2.45 0 1 0 4.90 0a2.45 2.45 0 1 0 -4.90 0M262.0 314.2a2.45 2.45 0 1 0 4.90 0a2.45 2.45 0 1 0 -4.90 0M270.4 318.8a2.45 2.45 0 1 0 4.90 0a2.45 2.45 0 1 0 -4.90 0M271.9 342.7a2.45 2.45 0 1 0 4.90 0a2.45 2.45 0 1 0 -4.90 0M273.7 346.3a2.45 2.45 0 1 0 4.90 0a2.45 2.45 0 1 0 -4.90 0M277.3 350.3a2.45 2.45 0 1 0 4.90 0a2.45 2.45 0 1 0 -4.90 0M281.0 320.4a2.45 2.45 0 1 0 4.90 0a2.45 2.45 0 1 0 -4.90 0M279.9 353.6a2.45 2.45 0 1 0 4.90 0a2.45 2.45 0 1 0 -4.90 0M283.2 355.4a2.45 2.45 0 1 0 4.90 0a2.45 2.45 0 1 0 -4.90 0M290.1 325.3a2.45 2.45 0 1 0 4.90 0a2.45 2.45 0 1 0 -4.90 0M290.1 352.8a2.45 2.45 0 1 0 4.90 0a2.45 2.45 0 1 0 -4.90 0M293.7 351.8a2.45 2.45 0 1 0 4.90 0a2.45 2.45 0 1 0 -4.90 0M519.9 403.8a2.45 2.45 0 1 0 4.90 0a2.45 2.45 0 1 0 -4.90 0M522.1 396.6a2.45 2.45 0 1 0 4.90 0a2.45 2.45 0 1 0 -4.90 0M529.5 406.0a2.45 2.45 0 1 0 4.90 0a2.45 2.45 0 1 0 -4.90 0M533.5 403.8a2.45 2.45 0 1 0 4.90 0a2.45 2.45 0 1 0 -4.90 0M533.8 407.2a2.45 2.45 0 1 0 4.90 0a2.45 2.45 0 1 0 -4.90 0M536.8 403.5a2.45 2.45 0 1 0 4.90 0a2.45 2.45 0 1 0 -4.90 0M540.4 399.0a2.45 2.45 0 1 0 4.90 0a2.45 2.45 0 1 0 -4.90 0M546.7 399.9a2.45 2.45 0 1 0 4.90 0a2.45 2.45 0 1 0 -4.90 0M546.6 405.7a2.45 2.45 0 1 0 4.90 0a2.45 2.45 0 1 0 -4.90 0M551.6 402.7a2.45 2.45 0 1 0 4.90 0a2.45 2.45 0 1 0 -4.90 0M557.7 398.5a2.45 2.45 0 1 0 4.90 0a2.45 2.45 0 1 0 -4.90 0M562.3 394.0a2.45 2.45 0 1 0 4.90 0a2.45 2.45 0 1 0 -4.90 0M572.7 407.3a2.45 2.45 0 1 0 4.90 0a2.45 2.45 0 1 0 -4.90 0"/>
<g style="stroke:#1e1e1e;stroke-width:0.25px"><text transform="translate(43.43 13.43) scale(1.214 1.092)" class="t i k" style="font-size:20px">a</text>
<text transform="translate(55.96 13.20) scale(1.058 0.889)" class="t k" style="font-size:20px">.</text>
<text transform="translate(43.73 242.52) scale(1.110 1.201)" class="t i k" style="font-size:20px">b</text>
<text transform="translate(54.60 242.17) scale(1.100 0.973)" class="t k" style="font-size:20px">.</text></g>
<text transform="translate(47.83 35.34) scale(0.959 1.044)" class="t" style="font-size:20px">×</text>
<text transform="translate(60.05 32.65) scale(0.795 0.810)" class="t" style="font-size:20px">1</text>
<text transform="translate(67.85 33.18) scale(0.790 0.874)" class="t" style="font-size:20px">0</text>
<text transform="translate(86.33 26.65) scale(0.545 0.521)" class="t" style="font-size:20px">3</text>
<path d="M78 23.6h7" stroke="#3a3a3a" stroke-width="0.8"/>
<text transform="translate(47.83 263.74) scale(0.959 1.044)" class="t" style="font-size:20px">×</text>
<text transform="translate(60.05 261.05) scale(0.795 0.810)" class="t" style="font-size:20px">1</text>
<text transform="translate(67.85 261.58) scale(0.790 0.874)" class="t" style="font-size:20px">0</text>
<text transform="translate(86.40 255.05) scale(0.527 0.521)" class="t" style="font-size:20px">6</text>
<path d="M78 252.0h7" stroke="#3a3a3a" stroke-width="0.8"/>
<text transform="translate(293.32 224.61) scale(0.889 0.704)" class="t i" style="font-size:20px">σ</text>
<text transform="translate(303.88 226.96) scale(0.559 0.578)" class="t i" style="font-size:20px">y</text>
<text transform="translate(313.50 224.45) scale(0.740 0.893)" class="t" style="font-size:20px">(</text>
<text transform="translate(319.48 224.17) scale(0.878 0.908)" class="t" style="font-size:20px">S</text>
<text transform="translate(330.15 228.40) scale(1.170 1.271)" class="t" style="font-size:20px">/</text>
<text transform="translate(338.09 224.35) scale(0.857 0.838)" class="t" style="font-size:20px">m</text>
<text transform="translate(352.69 224.43) scale(0.720 0.921)" class="t" style="font-size:20px">)</text>
<text transform="translate(293.32 453.21) scale(0.889 0.704)" class="t i" style="font-size:20px">σ</text>
<text transform="translate(303.88 455.56) scale(0.559 0.578)" class="t i" style="font-size:20px">y</text>
<text transform="translate(313.50 453.05) scale(0.740 0.893)" class="t" style="font-size:20px">(</text>
<text transform="translate(319.48 452.77) scale(0.878 0.908)" class="t" style="font-size:20px">S</text>
<text transform="translate(330.15 457.00) scale(1.170 1.271)" class="t" style="font-size:20px">/</text>
<text transform="translate(338.09 452.95) scale(0.857 0.838)" class="t" style="font-size:20px">m</text>
<text transform="translate(352.69 453.03) scale(0.720 0.921)" class="t" style="font-size:20px">)</text>
<g transform="translate(16.3 143) rotate(-90)"><text transform="translate(0.06 -0.19) scale(0.828 0.723)" class="t i" style="font-size:20px">σ</text>
<text transform="translate(9.96 -6.25) scale(0.561 0.597)" class="t" style="font-size:20px">2</text>
<text transform="translate(8.99 4.33) scale(0.584 0.613)" class="t i" style="font-size:20px">c</text>
<text transform="translate(22.88 -0.12) scale(0.876 0.932)" class="t" style="font-size:20px">(</text>
<text transform="translate(28.60 -0.08) scale(0.868 0.796)" class="t" style="font-size:20px">g</text>
<text transform="translate(38.35 3.40) scale(1.152 1.256)" class="t" style="font-size:20px">/</text>
<text transform="translate(45.96 -0.65) scale(0.715 0.807)" class="t" style="font-size:20px">l</text>
<text transform="translate(50.99 -0.29) scale(0.720 0.926)" class="t" style="font-size:20px">)</text>
<text transform="translate(57.05 -6.75) scale(0.574 0.551)" class="t" style="font-size:20px">2</text></g>
<g transform="translate(16.3 392) rotate(-90)"><text transform="translate(1.96 -0.44) scale(0.879 0.819)" class="t i" style="font-size:20px">χ</text>
<text transform="translate(11.55 3.40) scale(1.152 1.256)" class="t" style="font-size:20px">/</text>
<text transform="translate(20.55 -0.38) scale(0.884 0.837)" class="t i" style="font-size:20px">D</text>
<text transform="translate(40.21 -0.47) scale(0.837 0.921)" class="t" style="font-size:20px">(</text>
<text transform="translate(46.05 -0.45) scale(0.795 0.795)" class="t" style="font-size:20px">1</text>
<text transform="translate(55.05 3.90) scale(1.314 1.301)" class="t" style="font-size:20px">/</text>
<text transform="translate(63.28 -0.65) scale(0.870 0.679)" class="t" style="font-size:20px">m</text>
<text transform="translate(77.08 -0.65) scale(0.870 0.679)" class="t" style="font-size:20px">m</text>
<text transform="translate(91.86 -6.45) scale(0.561 0.566)" class="t" style="font-size:20px">2</text>
<text transform="translate(98.55 -0.27) scale(0.779 0.921)" class="t" style="font-size:20px">)</text></g>
</svg>
</body></html>
